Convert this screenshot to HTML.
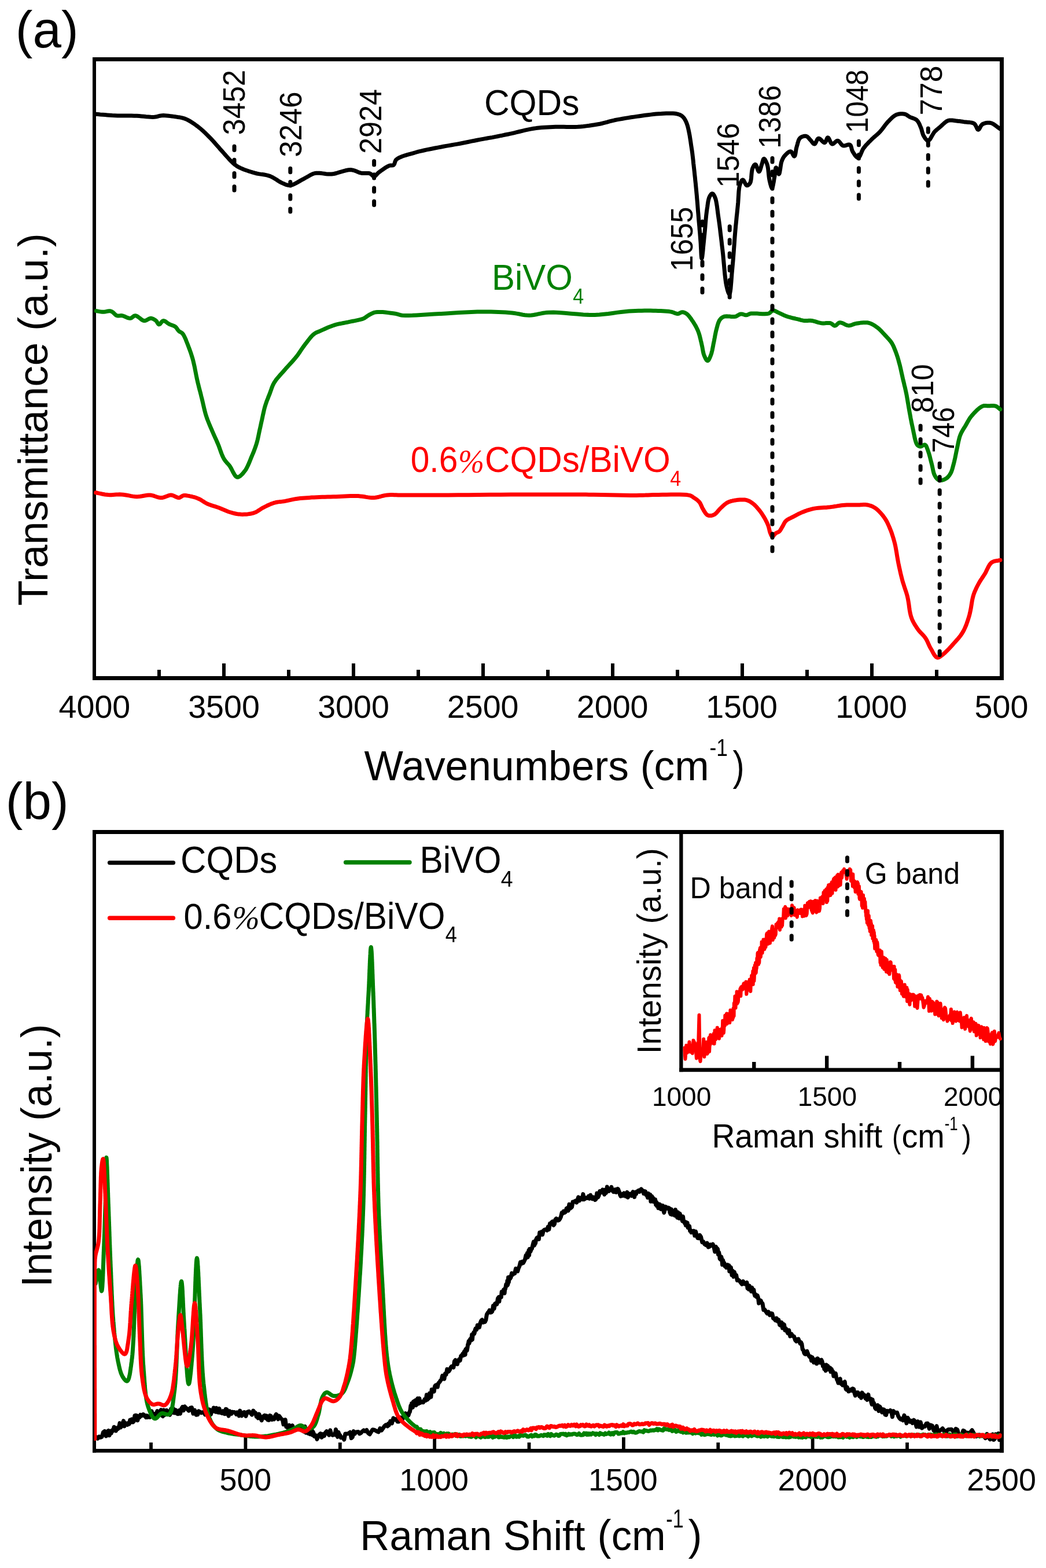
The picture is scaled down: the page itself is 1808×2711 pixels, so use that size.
<!DOCTYPE html>
<html><head><meta charset="utf-8"><title>FTIR and Raman spectra</title>
<style>html,body{margin:0;padding:0;background:#fff;overflow:hidden}svg{display:block}</style></head>
<body><svg width="1808" height="2711" viewBox="0 0 1808 2711">
<rect width="1808" height="2711" fill="#fff"/>
<rect x="160.00" y="99.00" width="1575.00" height="7.00" fill="#000"/>
<rect x="160.00" y="1169.00" width="1575.00" height="7.00" fill="#000"/>
<rect x="160.00" y="99.00" width="6.00" height="1077.00" fill="#000"/>
<rect x="1728.00" y="99.00" width="7.00" height="1077.00" fill="#000"/>
<rect x="384.00" y="1147.00" width="6.00" height="22.00" fill="#000"/>
<rect x="608.00" y="1147.00" width="6.00" height="22.00" fill="#000"/>
<rect x="832.00" y="1147.00" width="6.00" height="22.00" fill="#000"/>
<rect x="1056.00" y="1147.00" width="6.00" height="22.00" fill="#000"/>
<rect x="1280.00" y="1147.00" width="6.00" height="22.00" fill="#000"/>
<rect x="1504.00" y="1147.00" width="6.00" height="22.00" fill="#000"/>
<rect x="272.00" y="1158.00" width="6.00" height="11.00" fill="#000"/>
<rect x="496.00" y="1158.00" width="6.00" height="11.00" fill="#000"/>
<rect x="720.00" y="1158.00" width="6.00" height="11.00" fill="#000"/>
<rect x="944.00" y="1158.00" width="6.00" height="11.00" fill="#000"/>
<rect x="1168.00" y="1158.00" width="6.00" height="11.00" fill="#000"/>
<rect x="1392.00" y="1158.00" width="6.00" height="11.00" fill="#000"/>
<rect x="1616.00" y="1158.00" width="6.00" height="11.00" fill="#000"/>
<text x="101.56" y="1241.20" font-family="'Liberation Sans', Arial, sans-serif" font-size="55.6" fill="#000">4000</text>
<text x="325.15" y="1241.20" font-family="'Liberation Sans', Arial, sans-serif" font-size="55.6" fill="#000">3500</text>
<text x="549.14" y="1241.20" font-family="'Liberation Sans', Arial, sans-serif" font-size="55.6" fill="#000">3000</text>
<text x="772.87" y="1241.20" font-family="'Liberation Sans', Arial, sans-serif" font-size="55.6" fill="#000">2500</text>
<text x="996.87" y="1241.20" font-family="'Liberation Sans', Arial, sans-serif" font-size="55.6" fill="#000">2000</text>
<text x="1220.17" y="1241.20" font-family="'Liberation Sans', Arial, sans-serif" font-size="55.6" fill="#000">1500</text>
<text x="1444.17" y="1241.20" font-family="'Liberation Sans', Arial, sans-serif" font-size="55.6" fill="#000">1000</text>
<text x="1684.57" y="1241.20" font-family="'Liberation Sans', Arial, sans-serif" font-size="55.6" fill="#000">500</text>
<path d="M166.4,537.6 L167.8,537.8 L169.2,538.1 L170.7,538.4 L172.1,538.6 L173.5,538.9 L174.9,539.1 L176.4,539.2 L177.9,539.3 L179.6,539.2 L181.4,539.0 L183.2,538.7 L185.0,538.3 L186.8,538.0 L188.6,537.8 L190.3,537.8 L191.9,538.1 L193.3,538.7 L194.7,539.6 L195.9,540.7 L197.2,541.9 L198.4,543.1 L199.6,544.2 L200.8,545.1 L202.1,545.7 L203.5,546.0 L205.0,546.0 L206.4,545.9 L207.9,545.7 L209.4,545.6 L211.0,545.7 L212.6,546.1 L214.4,546.7 L216.2,547.5 L218.1,548.4 L219.9,549.2 L221.8,549.8 L223.5,550.2 L225.1,550.3 L226.5,550.0 L227.8,549.3 L229.0,548.3 L230.2,547.4 L231.4,546.5 L232.6,545.9 L234.0,545.7 L235.7,546.1 L237.6,547.1 L239.5,548.5 L241.5,550.0 L243.5,551.6 L245.5,553.1 L247.4,554.1 L249.3,554.6 L250.8,554.5 L252.3,554.0 L253.8,553.3 L255.2,552.5 L256.7,551.7 L258.1,551.0 L259.4,550.5 L260.8,550.3 L262.2,550.5 L263.5,550.9 L264.9,551.5 L266.2,552.2 L267.4,552.9 L268.6,553.8 L269.7,554.6 L270.7,555.7 L271.5,557.0 L272.3,558.4 L273.1,559.6 L273.9,560.6 L274.8,561.0 L275.8,560.7 L276.8,559.9 L277.8,558.7 L278.9,557.3 L280.0,556.0 L281.2,555.0 L282.4,554.6 L283.6,554.7 L284.8,555.2 L286.1,555.9 L287.4,556.8 L288.7,557.8 L290.1,558.8 L291.4,559.7 L292.7,560.5 L294.0,561.1 L295.3,561.6 L296.7,562.0 L298.0,562.5 L299.3,563.0 L300.6,563.5 L301.8,564.1 L302.9,564.8 L304.0,565.7 L304.9,566.8 L305.8,568.0 L306.6,569.2 L307.4,570.4 L308.3,571.5 L309.2,572.5 L310.2,573.3 L311.3,573.9 L312.4,574.4 L313.5,575.0 L314.6,575.8 L315.6,576.8 L317.0,578.7 L318.3,581.1 L319.6,583.8 L321.0,586.8 L322.2,590.0 L323.5,593.2 L324.7,596.3 L325.8,599.3 L326.9,602.1 L327.9,604.8 L328.9,607.6 L329.9,610.4 L330.8,613.2 L331.7,616.1 L332.6,619.1 L333.5,622.2 L334.5,626.3 L335.5,630.6 L336.5,635.1 L337.4,639.8 L338.3,644.4 L339.2,649.1 L340.1,653.6 L341.1,658.0 L342.0,661.9 L343.0,665.8 L343.9,669.7 L344.9,673.5 L345.9,677.2 L346.9,681.0 L347.8,684.8 L348.8,688.6 L349.7,692.4 L350.6,696.3 L351.5,700.2 L352.4,704.1 L353.3,708.0 L354.3,711.8 L355.3,715.5 L356.4,719.2 L357.5,722.5 L358.7,725.8 L360.0,729.0 L361.3,732.2 L362.6,735.4 L363.9,738.5 L365.3,741.6 L366.6,744.7 L367.9,747.6 L369.1,750.5 L370.4,753.4 L371.7,756.2 L373.0,759.0 L374.3,761.9 L375.5,764.8 L376.8,767.7 L378.1,770.9 L379.3,774.2 L380.5,777.6 L381.7,781.0 L382.9,784.3 L384.2,787.5 L385.6,790.5 L387.0,793.2 L388.2,795.1 L389.4,796.7 L390.7,798.3 L391.9,799.7 L393.2,801.2 L394.6,802.6 L395.9,804.2 L397.2,805.9 L398.7,808.3 L400.3,811.2 L401.8,814.2 L403.4,817.3 L405.0,820.1 L406.6,822.5 L408.3,824.2 L410.0,825.0 L411.5,824.9 L413.1,824.3 L414.8,823.3 L416.5,821.9 L418.1,820.3 L419.8,818.5 L421.3,816.6 L422.8,814.8 L424.7,812.2 L426.4,809.1 L428.1,805.7 L429.7,802.2 L431.3,798.5 L432.7,794.9 L434.1,791.4 L435.5,788.1 L436.6,785.5 L437.7,783.0 L438.7,780.5 L439.6,778.1 L440.5,775.6 L441.4,773.1 L442.3,770.5 L443.2,767.7 L444.3,764.0 L445.3,760.0 L446.2,755.9 L447.1,751.6 L448.0,747.3 L448.9,743.0 L449.9,738.7 L450.8,734.5 L451.7,730.3 L452.7,726.0 L453.6,721.7 L454.5,717.4 L455.5,713.1 L456.4,709.0 L457.4,705.0 L458.5,701.3 L459.4,698.5 L460.3,695.8 L461.2,693.2 L462.2,690.7 L463.2,688.3 L464.1,685.8 L465.1,683.4 L466.1,680.9 L467.0,678.5 L467.8,676.1 L468.7,673.7 L469.5,671.3 L470.4,668.9 L471.4,666.5 L472.5,664.2 L473.8,661.8 L475.6,659.1 L477.5,656.3 L479.7,653.6 L482.0,650.9 L484.4,648.2 L486.8,645.5 L489.2,642.8 L491.6,640.1 L494.1,637.2 L496.7,634.4 L499.3,631.5 L501.9,628.6 L504.6,625.8 L507.1,622.9 L509.6,620.0 L512.0,617.1 L514.1,614.4 L516.0,611.7 L518.0,608.9 L519.8,606.1 L521.6,603.4 L523.5,600.7 L525.4,598.1 L527.3,595.5 L529.2,593.1 L531.1,590.6 L533.0,588.1 L535.0,585.6 L536.9,583.3 L538.8,581.1 L540.7,579.2 L542.6,577.6 L543.8,576.7 L545.0,576.0 L546.2,575.3 L547.3,574.8 L548.5,574.3 L549.8,573.8 L551.1,573.2 L552.6,572.6 L555.2,571.4 L558.1,570.1 L561.2,568.7 L564.5,567.2 L567.8,565.8 L571.3,564.5 L574.6,563.2 L577.9,562.1 L581.0,561.2 L584.2,560.4 L587.3,559.7 L590.5,559.1 L593.6,558.5 L596.8,557.9 L599.9,557.3 L603.1,556.6 L606.4,555.9 L609.8,555.2 L613.2,554.6 L616.7,553.9 L620.0,553.2 L623.1,552.4 L625.9,551.6 L628.4,550.7 L629.9,550.0 L631.1,549.2 L632.3,548.4 L633.3,547.6 L634.4,546.8 L635.5,546.0 L636.8,545.2 L638.2,544.4 L639.6,543.6 L641.0,542.9 L642.5,542.1 L644.0,541.4 L645.7,540.7 L647.5,540.2 L649.4,539.8 L652.9,539.5 L657.0,539.4 L661.5,539.6 L666.2,540.0 L670.9,540.6 L675.4,541.2 L679.6,541.8 L683.1,542.3 L684.9,542.6 L686.5,543.0 L687.9,543.4 L689.2,543.8 L690.6,544.3 L692.1,544.6 L693.7,545.0 L695.7,545.2 L700.6,545.5 L706.4,545.5 L712.9,545.3 L719.9,544.9 L727.3,544.4 L735.0,544.0 L742.7,543.5 L750.4,543.1 L760.2,542.6 L770.7,542.0 L781.6,541.3 L792.7,540.6 L803.8,540.0 L814.6,539.4 L825.0,539.1 L834.6,538.9 L841.6,538.9 L848.4,539.0 L855.1,539.2 L861.5,539.4 L867.7,539.7 L873.7,540.1 L879.5,540.5 L885.1,541.0 L889.2,541.5 L893.0,542.1 L896.7,542.8 L900.2,543.5 L903.8,544.2 L907.3,544.7 L910.9,545.1 L914.6,545.2 L918.6,545.0 L922.5,544.5 L926.4,543.8 L930.4,542.9 L934.4,542.1 L938.7,541.3 L943.3,540.6 L948.2,540.2 L956.6,540.1 L966.1,540.5 L976.2,541.3 L986.8,542.2 L997.6,543.1 L1008.3,543.9 L1018.6,544.4 L1028.2,544.4 L1036.1,544.0 L1043.8,543.3 L1051.4,542.5 L1058.8,541.5 L1066.1,540.4 L1073.3,539.5 L1080.3,538.7 L1087.1,538.1 L1092.7,537.8 L1098.3,537.5 L1103.7,537.3 L1109.0,537.2 L1114.2,537.1 L1119.3,537.1 L1124.3,537.1 L1129.2,537.2 L1133.4,537.3 L1137.6,537.4 L1141.8,537.5 L1145.9,537.7 L1149.8,538.0 L1153.5,538.3 L1156.9,538.6 L1160.0,539.1 L1161.7,539.5 L1163.3,540.0 L1164.9,540.6 L1166.3,541.2 L1167.6,541.7 L1168.9,542.1 L1170.2,542.4 L1171.5,542.5 L1172.9,542.3 L1174.2,541.7 L1175.4,541.1 L1176.6,540.4 L1177.8,539.9 L1179.1,539.7 L1180.4,539.8 L1181.7,540.0 L1182.9,540.4 L1184.2,541.0 L1185.5,541.7 L1186.8,542.5 L1188.3,543.7 L1189.7,545.2 L1191.2,546.9 L1192.7,548.8 L1194.2,550.8 L1195.6,552.9 L1197.0,554.9 L1198.3,556.9 L1199.5,558.8 L1200.7,560.8 L1201.9,562.7 L1203.0,564.7 L1204.0,566.7 L1205.0,568.8 L1206.0,570.9 L1206.9,573.1 L1207.8,575.6 L1208.6,578.1 L1209.4,580.7 L1210.0,583.4 L1210.7,586.1 L1211.3,588.8 L1212.0,591.5 L1212.6,594.2 L1213.2,596.9 L1213.8,599.7 L1214.3,602.5 L1214.8,605.3 L1215.3,608.1 L1215.9,610.7 L1216.6,613.1 L1217.4,615.2 L1218.1,616.8 L1218.9,618.5 L1219.7,620.2 L1220.6,621.6 L1221.4,622.8 L1222.3,623.5 L1223.1,623.8 L1223.9,623.5 L1224.6,622.7 L1225.4,621.6 L1226.1,620.1 L1226.9,618.5 L1227.6,616.7 L1228.3,615.0 L1228.9,613.3 L1229.7,611.1 L1230.3,608.6 L1231.0,606.1 L1231.5,603.4 L1232.1,600.6 L1232.6,597.8 L1233.1,595.0 L1233.7,592.3 L1234.3,589.4 L1234.8,586.5 L1235.4,583.6 L1235.9,580.6 L1236.5,577.7 L1237.1,574.8 L1237.7,572.0 L1238.4,569.3 L1239.0,567.0 L1239.6,564.8 L1240.2,562.5 L1240.9,560.3 L1241.6,558.2 L1242.4,556.3 L1243.2,554.5 L1244.2,553.0 L1245.1,551.9 L1246.0,550.8 L1247.0,549.9 L1248.1,549.1 L1249.2,548.4 L1250.4,547.8 L1251.8,547.3 L1253.8,546.9 L1256.1,546.8 L1258.6,546.9 L1261.2,547.1 L1263.9,547.4 L1266.5,547.6 L1268.9,547.6 L1271.0,547.3 L1272.6,546.8 L1274.0,546.1 L1275.3,545.3 L1276.6,544.5 L1277.9,543.8 L1279.2,543.2 L1280.5,542.9 L1281.9,542.9 L1283.3,543.2 L1284.7,543.6 L1286.1,544.0 L1287.4,544.5 L1288.8,544.7 L1290.1,544.8 L1291.4,544.6 L1292.5,544.1 L1293.6,543.6 L1294.8,543.0 L1296.1,542.5 L1297.7,542.1 L1300.7,541.9 L1304.4,541.9 L1308.6,542.1 L1313.1,542.4 L1317.6,542.7 L1321.8,542.8 L1325.5,542.6 L1328.4,542.1 L1329.8,541.5 L1331.0,540.6 L1332.0,539.6 L1333.0,538.7 L1333.9,537.8 L1334.9,537.1 L1336.0,536.8 L1337.3,536.8 L1338.6,537.1 L1339.9,537.7 L1341.3,538.4 L1342.7,539.1 L1344.1,539.9 L1345.6,540.6 L1347.3,541.4 L1349.1,542.2 L1351.0,543.1 L1352.9,544.0 L1354.8,544.9 L1356.8,545.7 L1358.9,546.6 L1360.9,547.3 L1363.2,548.0 L1365.6,548.7 L1368.2,549.4 L1370.7,550.0 L1373.2,550.5 L1375.6,551.1 L1377.9,551.6 L1380.0,552.1 L1381.5,552.5 L1382.9,552.9 L1384.2,553.3 L1385.5,553.6 L1386.8,553.9 L1388.2,554.2 L1389.6,554.4 L1391.2,554.5 L1392.7,554.5 L1394.4,554.5 L1396.1,554.4 L1397.8,554.3 L1399.5,554.2 L1401.2,554.2 L1403.0,554.4 L1405.1,554.8 L1407.2,555.3 L1409.3,555.9 L1411.5,556.6 L1413.7,557.3 L1415.9,557.9 L1418.1,558.4 L1420.2,558.8 L1422.2,558.9 L1424.2,558.9 L1426.2,558.8 L1428.3,558.6 L1430.2,558.5 L1432.1,558.4 L1433.9,558.5 L1435.5,558.8 L1437.0,559.4 L1438.3,560.3 L1439.5,561.3 L1440.7,562.3 L1441.9,563.0 L1443.1,563.2 L1444.3,562.9 L1445.4,562.2 L1446.5,561.1 L1447.7,560.0 L1448.9,559.0 L1450.1,558.1 L1451.5,557.7 L1453.2,557.8 L1455.0,558.3 L1456.9,559.1 L1459.0,560.0 L1461.0,561.1 L1463.0,562.0 L1465.0,562.6 L1466.8,562.9 L1468.3,562.8 L1469.7,562.6 L1471.1,562.2 L1472.5,561.7 L1473.9,561.1 L1475.3,560.6 L1476.8,560.1 L1478.3,559.7 L1480.1,559.3 L1482.0,559.0 L1484.0,558.7 L1486.0,558.4 L1488.0,558.1 L1490.0,557.9 L1491.8,557.8 L1493.6,557.7 L1495.1,557.7 L1496.5,557.7 L1497.8,557.7 L1499.1,557.8 L1500.4,558.0 L1501.7,558.3 L1503.1,558.7 L1504.7,559.3 L1506.4,560.0 L1508.0,560.8 L1509.7,561.8 L1511.4,562.8 L1513.1,563.9 L1514.8,565.1 L1516.5,566.3 L1518.5,567.9 L1520.5,569.7 L1522.5,571.6 L1524.4,573.7 L1526.4,575.8 L1528.3,577.8 L1530.1,579.8 L1531.8,581.7 L1533.2,583.2 L1534.5,584.5 L1535.7,585.9 L1536.9,587.2 L1538.1,588.6 L1539.3,590.0 L1540.3,591.5 L1541.4,593.1 L1542.5,595.0 L1543.6,597.1 L1544.6,599.2 L1545.5,601.4 L1546.4,603.6 L1547.3,605.9 L1548.2,608.1 L1549.0,610.4 L1549.8,612.7 L1550.6,615.0 L1551.4,617.3 L1552.1,619.7 L1552.8,622.1 L1553.4,624.5 L1554.1,627.0 L1554.8,629.5 L1555.6,632.4 L1556.3,635.5 L1557.0,638.6 L1557.7,641.7 L1558.4,644.9 L1559.1,648.1 L1559.8,651.3 L1560.5,654.4 L1561.2,657.5 L1562.0,660.5 L1562.7,663.6 L1563.4,666.6 L1564.2,669.6 L1564.9,672.8 L1565.6,675.9 L1566.3,679.2 L1567.1,683.1 L1567.8,687.1 L1568.5,691.1 L1569.2,695.3 L1569.9,699.5 L1570.6,703.6 L1571.3,707.7 L1572.0,711.7 L1572.7,715.4 L1573.4,719.0 L1574.0,722.6 L1574.7,726.2 L1575.4,729.7 L1576.1,733.3 L1576.9,736.8 L1577.7,740.4 L1578.5,744.2 L1579.3,748.3 L1580.2,752.5 L1581.0,756.7 L1582.0,760.6 L1583.0,764.1 L1584.1,767.0 L1585.4,769.1 L1586.4,770.2 L1587.5,771.0 L1588.7,771.5 L1589.9,771.9 L1591.1,772.0 L1592.3,771.8 L1593.7,771.1 L1595.0,770.3 L1596.4,769.5 L1597.7,769.0 L1598.8,769.1 L1599.7,769.7 L1600.6,770.7 L1601.3,772.0 L1602.0,773.5 L1602.6,775.3 L1603.3,777.0 L1603.9,778.9 L1604.5,780.6 L1605.3,782.9 L1606.1,785.4 L1606.8,788.0 L1607.5,790.7 L1608.2,793.5 L1608.9,796.3 L1609.6,799.0 L1610.3,801.7 L1611.0,804.4 L1611.6,807.2 L1612.2,810.1 L1612.8,812.9 L1613.4,815.7 L1614.1,818.3 L1615.0,820.6 L1616.0,822.7 L1616.8,824.0 L1617.6,825.3 L1618.5,826.5 L1619.5,827.6 L1620.4,828.5 L1621.5,829.3 L1622.6,830.0 L1623.7,830.4 L1625.0,830.6 L1626.4,830.6 L1627.9,830.4 L1629.4,830.0 L1630.9,829.5 L1632.4,828.9 L1633.8,828.2 L1635.1,827.5 L1636.3,826.7 L1637.3,825.9 L1638.4,824.9 L1639.3,823.8 L1640.3,822.7 L1641.2,821.5 L1642.0,820.2 L1642.8,818.9 L1643.7,817.1 L1644.6,815.2 L1645.3,813.2 L1646.0,811.0 L1646.6,808.8 L1647.2,806.5 L1647.9,804.1 L1648.5,801.7 L1649.3,798.6 L1650.0,795.4 L1650.8,792.0 L1651.5,788.6 L1652.2,785.1 L1652.9,781.6 L1653.6,778.2 L1654.3,774.9 L1655.0,771.9 L1655.6,768.9 L1656.2,765.9 L1656.8,763.0 L1657.5,760.1 L1658.2,757.3 L1659.0,754.6 L1660.0,751.9 L1661.0,749.6 L1662.1,747.3 L1663.3,745.1 L1664.5,743.0 L1665.8,740.9 L1667.1,738.8 L1668.4,736.8 L1669.6,734.7 L1670.7,732.7 L1671.8,730.8 L1672.9,728.8 L1674.0,726.9 L1675.1,725.0 L1676.3,723.1 L1677.6,721.3 L1679.1,719.4 L1681.1,717.1 L1683.4,714.5 L1685.9,712.0 L1688.4,709.4 L1691.0,707.1 L1693.6,705.0 L1696.1,703.4 L1698.3,702.2 L1699.7,701.7 L1701.1,701.5 L1702.4,701.5 L1703.7,701.5 L1705.0,701.6 L1706.4,701.8 L1707.8,701.8 L1709.4,701.8 L1711.1,701.7 L1712.9,701.6 L1714.6,701.5 L1716.4,701.5 L1718.1,701.6 L1719.7,701.8 L1721.2,702.2 L1722.5,702.8 L1723.7,703.5 L1724.8,704.3 L1725.8,705.2 L1726.9,706.1 L1727.9,707.0 L1729.0,707.9" fill="none" stroke="#008000" stroke-width="7" stroke-linejoin="round" stroke-linecap="round"/>
<path d="M165.7,851.8 L168.3,852.3 L170.9,852.9 L173.6,853.4 L176.2,854.0 L178.8,854.5 L181.4,855.0 L184.1,855.3 L186.8,855.6 L189.6,855.7 L192.4,855.7 L195.3,855.5 L198.1,855.3 L201.0,855.1 L203.9,854.9 L206.8,854.8 L209.8,854.9 L213.1,855.2 L216.4,855.7 L219.8,856.3 L223.2,856.9 L226.5,857.6 L229.9,858.1 L233.2,858.5 L236.5,858.7 L239.5,858.6 L242.4,858.3 L245.4,857.8 L248.3,857.2 L251.1,856.7 L254.0,856.3 L256.7,856.0 L259.5,856.0 L262.0,856.3 L264.4,856.9 L266.9,857.7 L269.2,858.5 L271.6,859.3 L273.9,860.0 L276.3,860.4 L278.6,860.6 L280.8,860.4 L283.0,859.8 L285.3,859.1 L287.5,858.2 L289.6,857.4 L291.8,856.6 L293.9,856.1 L295.9,856.0 L297.7,856.3 L299.5,856.8 L301.2,857.6 L303.0,858.5 L304.7,859.3 L306.3,860.0 L307.8,860.5 L309.3,860.6 L310.7,860.3 L311.9,859.6 L313.1,858.8 L314.2,858.0 L315.5,857.3 L316.9,856.8 L318.6,856.6 L320.4,856.6 L322.3,856.8 L324.3,857.1 L326.4,857.4 L328.4,857.9 L330.4,858.3 L332.2,858.7 L333.7,859.1 L335.2,859.4 L336.6,859.8 L338.0,860.3 L339.4,860.8 L340.8,861.3 L342.2,861.9 L343.7,862.5 L345.5,863.4 L347.4,864.4 L349.2,865.6 L351.1,866.8 L353.0,868.0 L355.0,869.2 L357.0,870.3 L359.0,871.3 L361.3,872.2 L363.6,873.1 L366.0,873.9 L368.4,874.7 L370.8,875.4 L373.3,876.2 L375.7,877.0 L378.1,877.8 L380.5,878.7 L382.9,879.7 L385.3,880.8 L387.7,881.8 L390.1,882.8 L392.5,883.8 L394.9,884.7 L397.3,885.5 L399.7,886.2 L402.0,886.8 L404.3,887.5 L406.7,888.0 L409.1,888.5 L411.5,888.9 L413.9,889.1 L416.4,889.3 L419.2,889.4 L422.1,889.3 L425.1,889.2 L428.1,888.9 L431.1,888.5 L434.0,888.0 L436.8,887.4 L439.4,886.6 L441.5,885.8 L443.5,884.8 L445.4,883.7 L447.2,882.5 L449.0,881.3 L450.8,880.1 L452.7,878.9 L454.7,877.8 L457.0,876.7 L459.3,875.5 L461.6,874.3 L464.0,873.2 L466.5,872.1 L468.9,871.1 L471.4,870.2 L473.8,869.4 L476.2,868.8 L478.6,868.3 L481.0,867.9 L483.4,867.6 L485.8,867.4 L488.2,867.1 L490.6,866.8 L493.0,866.4 L495.4,865.9 L497.7,865.4 L500.0,864.9 L502.3,864.4 L504.6,863.9 L507.0,863.4 L509.5,862.9 L512.1,862.5 L515.5,862.0 L519.1,861.6 L522.9,861.3 L526.7,861.0 L530.6,860.7 L534.6,860.4 L538.7,860.1 L542.7,859.9 L547.3,859.7 L552.0,859.5 L556.7,859.3 L561.6,859.2 L566.5,859.1 L571.3,859.0 L576.2,858.8 L581.0,858.7 L585.8,858.5 L590.7,858.3 L595.6,858.1 L600.5,857.8 L605.4,857.6 L610.1,857.5 L614.8,857.5 L619.2,857.6 L622.8,857.9 L626.3,858.3 L629.7,858.8 L633.0,859.4 L636.3,859.9 L639.6,860.3 L642.8,860.6 L646.0,860.6 L649.0,860.3 L651.8,859.8 L654.7,859.2 L657.5,858.5 L660.3,857.7 L663.2,857.0 L666.0,856.4 L669.0,856.0 L672.2,855.8 L675.3,855.6 L678.4,855.6 L681.5,855.7 L684.8,855.8 L688.2,855.9 L691.9,856.0 L695.8,856.0 L702.3,856.0 L709.3,856.0 L716.8,856.0 L724.6,856.0 L732.9,856.0 L741.6,856.0 L750.6,856.0 L760.0,856.0 L775.1,855.9 L791.8,855.8 L809.6,855.7 L828.1,855.5 L846.9,855.3 L865.4,855.2 L883.3,855.1 L900.0,855.0 L913.3,855.0 L926.2,854.9 L938.7,854.9 L951.0,854.9 L963.2,854.9 L975.4,854.9 L987.6,854.9 L1000.0,855.0 L1012.8,855.1 L1026.1,855.3 L1039.6,855.6 L1052.9,855.8 L1065.9,856.1 L1078.3,856.3 L1089.8,856.4 L1100.0,856.4 L1105.6,856.3 L1110.7,856.2 L1115.4,856.1 L1119.9,855.9 L1124.3,855.7 L1128.7,855.6 L1133.3,855.5 L1138.3,855.4 L1144.9,855.3 L1152.2,855.2 L1159.9,855.0 L1167.6,854.9 L1174.9,854.9 L1181.7,855.2 L1187.4,855.6 L1191.8,856.4 L1193.5,856.9 L1195.0,857.6 L1196.1,858.2 L1197.2,859.0 L1198.3,859.8 L1199.5,860.6 L1200.7,861.4 L1201.9,862.2 L1203.2,863.1 L1204.5,864.1 L1205.7,865.0 L1206.9,866.1 L1208.0,867.2 L1209.0,868.3 L1209.9,869.6 L1210.7,870.9 L1211.4,872.4 L1212.0,873.8 L1212.7,875.3 L1213.3,876.8 L1214.0,878.3 L1214.8,879.7 L1215.7,881.1 L1216.5,882.7 L1217.5,884.2 L1218.4,885.7 L1219.4,887.1 L1220.4,888.4 L1221.4,889.5 L1222.4,890.3 L1223.8,891.0 L1225.2,891.5 L1226.7,891.6 L1228.2,891.6 L1229.4,891.5 L1230.7,891.2 L1232.0,890.8 L1233.3,890.3 L1234.5,889.7 L1235.8,888.9 L1237.0,888.0 L1238.2,886.9 L1239.4,885.6 L1240.5,884.3 L1241.7,882.9 L1242.9,881.4 L1244.1,880.1 L1245.4,878.8 L1246.8,877.5 L1248.1,876.2 L1249.5,874.9 L1251.0,873.6 L1252.4,872.3 L1253.9,871.2 L1255.4,870.1 L1256.9,869.2 L1258.3,868.5 L1259.6,867.9 L1261.0,867.3 L1262.3,866.9 L1263.8,866.4 L1265.2,866.1 L1266.8,865.7 L1268.4,865.4 L1270.8,865.0 L1273.3,864.6 L1276.1,864.3 L1278.9,864.0 L1281.8,863.9 L1284.5,863.9 L1287.1,864.0 L1289.4,864.4 L1291.1,864.8 L1292.6,865.4 L1294.1,866.0 L1295.6,866.7 L1296.9,867.5 L1298.3,868.4 L1299.6,869.3 L1300.9,870.2 L1302.2,871.2 L1303.5,872.3 L1304.7,873.4 L1305.8,874.6 L1307.0,875.8 L1308.1,877.1 L1309.3,878.4 L1310.4,879.7 L1311.7,881.2 L1312.9,882.8 L1314.2,884.4 L1315.4,886.1 L1316.6,887.8 L1317.8,889.6 L1318.9,891.3 L1320.0,893.1 L1321.1,894.9 L1322.2,896.8 L1323.2,898.7 L1324.2,900.7 L1325.2,902.6 L1326.1,904.6 L1326.9,906.5 L1327.7,908.4 L1328.3,910.1 L1328.8,911.9 L1329.3,913.7 L1329.7,915.5 L1330.1,917.2 L1330.5,918.9 L1331.0,920.4 L1331.5,921.8 L1332.1,923.3 L1332.7,924.8 L1333.4,926.2 L1334.1,927.1 L1334.9,927.6 L1335.8,927.4 L1336.8,926.5 L1337.8,925.3 L1338.9,924.0 L1340.0,922.8 L1341.1,921.8 L1342.2,921.2 L1343.4,920.7 L1344.6,920.3 L1345.7,919.7 L1346.8,919.0 L1347.7,918.1 L1348.6,917.0 L1349.4,915.7 L1350.2,914.4 L1350.9,913.1 L1351.7,911.7 L1352.5,910.4 L1353.2,909.2 L1353.8,908.0 L1354.5,906.7 L1355.1,905.5 L1355.8,904.2 L1356.5,903.0 L1357.3,901.9 L1358.3,900.8 L1359.6,899.6 L1361.1,898.6 L1362.8,897.6 L1364.5,896.7 L1366.3,895.8 L1368.1,894.9 L1369.9,894.0 L1371.7,893.1 L1373.5,892.1 L1375.4,891.1 L1377.2,890.1 L1379.1,889.2 L1381.0,888.2 L1382.9,887.3 L1384.9,886.4 L1387.0,885.5 L1389.4,884.6 L1391.9,883.6 L1394.4,882.7 L1397.0,881.9 L1399.7,881.1 L1402.4,880.4 L1405.1,879.7 L1407.9,879.1 L1411.1,878.6 L1414.4,878.2 L1417.7,877.9 L1421.2,877.7 L1424.6,877.5 L1428.0,877.4 L1431.4,877.1 L1434.6,876.8 L1437.5,876.4 L1440.3,876.0 L1443.1,875.5 L1445.8,875.1 L1448.5,874.6 L1451.3,874.2 L1454.1,873.8 L1457.0,873.5 L1460.3,873.3 L1463.7,873.1 L1467.2,873.1 L1470.7,873.0 L1474.2,873.0 L1477.5,873.0 L1480.8,873.0 L1483.8,873.0 L1486.0,872.9 L1488.0,872.8 L1490.0,872.7 L1492.0,872.6 L1493.9,872.6 L1495.7,872.6 L1497.6,872.7 L1499.4,873.0 L1501.2,873.4 L1502.9,873.8 L1504.6,874.3 L1506.2,874.9 L1507.9,875.6 L1509.5,876.4 L1511.2,877.4 L1512.8,878.4 L1514.9,879.9 L1516.9,881.7 L1519.0,883.6 L1521.1,885.8 L1523.1,888.0 L1525.0,890.2 L1526.8,892.5 L1528.4,894.7 L1529.8,896.7 L1531.0,898.6 L1532.2,900.6 L1533.3,902.7 L1534.3,904.7 L1535.3,906.9 L1536.3,909.1 L1537.3,911.4 L1538.5,914.4 L1539.8,917.5 L1541.0,920.7 L1542.1,924.1 L1543.2,927.5 L1544.3,931.0 L1545.3,934.6 L1546.3,938.2 L1547.3,942.4 L1548.2,946.8 L1549.0,951.3 L1549.8,955.9 L1550.5,960.5 L1551.3,965.1 L1552.1,969.6 L1552.9,973.9 L1553.7,977.7 L1554.5,981.4 L1555.3,985.1 L1556.1,988.7 L1556.9,992.2 L1557.8,995.8 L1558.7,999.4 L1559.6,1003.0 L1560.6,1006.6 L1561.8,1010.2 L1562.9,1013.7 L1564.1,1017.3 L1565.3,1020.9 L1566.5,1024.5 L1567.6,1028.2 L1568.6,1032.0 L1569.5,1036.3 L1570.3,1040.9 L1571.0,1045.6 L1571.6,1050.3 L1572.3,1055.0 L1573.1,1059.5 L1574.1,1063.8 L1575.3,1067.7 L1576.4,1070.6 L1577.6,1073.3 L1578.9,1075.9 L1580.3,1078.4 L1581.8,1080.9 L1583.3,1083.2 L1584.8,1085.5 L1586.4,1087.8 L1588.0,1089.9 L1589.7,1091.9 L1591.4,1093.8 L1593.2,1095.6 L1595.0,1097.5 L1596.7,1099.4 L1598.3,1101.4 L1599.8,1103.4 L1601.1,1105.5 L1602.3,1107.7 L1603.4,1110.0 L1604.4,1112.3 L1605.4,1114.6 L1606.5,1116.9 L1607.6,1119.1 L1608.8,1121.3 L1610.1,1123.5 L1611.4,1125.9 L1612.7,1128.4 L1614.1,1130.8 L1615.5,1133.0 L1617.0,1134.8 L1618.4,1136.2 L1619.9,1136.9 L1621.1,1137.0 L1622.3,1136.7 L1623.6,1136.2 L1624.8,1135.4 L1626.1,1134.4 L1627.4,1133.4 L1628.8,1132.4 L1630.8,1130.8 L1633.0,1128.9 L1635.2,1126.8 L1637.5,1124.5 L1639.9,1122.1 L1642.2,1119.6 L1644.5,1117.1 L1646.7,1114.6 L1649.0,1112.0 L1651.4,1109.4 L1653.8,1106.7 L1656.2,1104.0 L1658.5,1101.1 L1660.7,1098.3 L1662.7,1095.3 L1664.6,1092.2 L1666.4,1088.9 L1668.0,1085.4 L1669.5,1081.9 L1670.9,1078.2 L1672.2,1074.5 L1673.4,1070.8 L1674.6,1067.0 L1675.7,1063.2 L1676.7,1059.1 L1677.6,1054.8 L1678.4,1050.5 L1679.1,1046.1 L1679.8,1041.7 L1680.5,1037.5 L1681.4,1033.5 L1682.4,1029.7 L1683.3,1026.9 L1684.3,1024.2 L1685.4,1021.6 L1686.5,1019.2 L1687.6,1016.7 L1688.8,1014.3 L1690.0,1012.0 L1691.3,1009.6 L1692.6,1007.3 L1693.9,1005.0 L1695.3,1002.8 L1696.8,1000.6 L1698.2,998.4 L1699.7,996.3 L1701.1,994.0 L1702.5,991.8 L1703.9,989.4 L1705.1,986.8 L1706.4,984.1 L1707.7,981.4 L1709.0,978.9 L1710.4,976.5 L1712.0,974.5 L1713.7,972.8 L1715.4,971.7 L1717.2,970.9 L1719.0,970.3 L1721.0,969.9 L1723.0,969.5 L1725.1,969.2 L1727.1,968.8 L1729.0,968.3" fill="none" stroke="#ff0000" stroke-width="7" stroke-linejoin="round" stroke-linecap="round"/>
<path d="M165.1,197.2 L169.2,197.5 L173.3,197.9 L177.4,198.2 L181.6,198.6 L185.7,198.9 L189.8,199.2 L194.0,199.5 L198.3,199.7 L203.0,199.9 L207.8,200.0 L212.6,200.0 L217.5,200.0 L222.4,200.0 L227.2,200.1 L231.9,200.2 L236.5,200.3 L240.6,200.5 L244.7,200.9 L248.8,201.3 L252.8,201.7 L256.7,202.0 L260.5,202.3 L263.9,202.4 L267.1,202.3 L268.9,202.1 L270.6,201.8 L272.1,201.4 L273.6,201.0 L275.1,200.5 L276.6,200.2 L278.2,199.9 L279.9,199.7 L282.5,199.6 L285.2,199.7 L288.2,199.9 L291.2,200.2 L294.2,200.6 L297.2,201.0 L300.1,201.4 L302.9,201.8 L305.2,202.1 L307.5,202.5 L309.7,202.8 L311.9,203.1 L314.1,203.6 L316.2,204.1 L318.4,204.8 L320.7,205.6 L323.5,206.9 L326.4,208.4 L329.4,210.1 L332.3,212.0 L335.2,213.9 L338.1,216.0 L341.0,218.1 L343.7,220.2 L346.4,222.4 L349.0,224.6 L351.6,226.9 L354.1,229.3 L356.6,231.7 L359.1,234.2 L361.6,236.8 L364.1,239.3 L366.7,242.0 L369.3,244.9 L371.9,247.8 L374.4,250.7 L377.0,253.6 L379.5,256.6 L382.0,259.4 L384.5,262.2 L386.8,264.8 L389.1,267.4 L391.4,270.0 L393.7,272.5 L395.9,275.0 L398.1,277.3 L400.3,279.5 L402.3,281.4 L403.6,282.6 L404.8,283.7 L406.0,284.6 L407.2,285.5 L408.3,286.4 L409.6,287.3 L411.0,288.1 L412.6,289.0 L415.4,290.4 L418.6,291.8 L422.0,293.2 L425.7,294.5 L429.5,295.8 L433.3,297.0 L437.0,298.2 L440.6,299.2 L443.8,300.0 L447.1,300.6 L450.3,301.1 L453.6,301.5 L456.8,302.0 L459.9,302.6 L463.0,303.3 L466.1,304.3 L469.1,305.6 L472.2,307.2 L475.2,309.0 L478.1,310.8 L481.0,312.7 L483.8,314.4 L486.5,315.9 L489.1,317.1 L490.8,317.8 L492.4,318.5 L494.0,319.1 L495.5,319.6 L497.0,320.0 L498.5,320.3 L500.1,320.5 L501.8,320.4 L504.1,320.0 L506.6,319.1 L509.1,318.0 L511.7,316.6 L514.4,315.1 L517.0,313.6 L519.6,312.1 L522.2,310.7 L524.8,309.3 L527.5,307.8 L530.3,306.2 L533.0,304.7 L535.6,303.2 L538.1,301.9 L540.5,300.8 L542.6,300.0 L544.0,299.6 L545.2,299.4 L546.3,299.3 L547.5,299.2 L548.7,299.2 L550.2,299.2 L552.5,299.3 L555.0,299.5 L557.7,299.9 L560.7,300.3 L563.7,300.7 L566.9,301.0 L570.1,301.1 L573.2,301.0 L577.1,300.5 L581.3,299.5 L585.6,298.2 L590.0,296.9 L594.4,295.6 L598.6,294.5 L602.6,293.8 L606.3,293.6 L608.8,293.9 L611.2,294.5 L613.5,295.2 L615.7,296.1 L617.8,297.0 L619.9,297.9 L622.1,298.7 L624.2,299.2 L626.2,299.4 L628.2,299.5 L630.3,299.5 L632.3,299.4 L634.3,299.4 L636.2,299.4 L637.9,299.6 L639.5,300.0 L640.9,300.8 L642.1,301.8 L643.3,303.0 L644.4,304.1 L645.4,304.8 L646.6,305.1 L647.6,304.9 L648.5,304.3 L649.5,303.5 L650.4,302.4 L651.4,301.3 L652.5,300.2 L653.6,299.0 L654.8,298.0 L656.7,296.6 L658.9,295.0 L661.3,293.3 L663.7,291.6 L666.1,290.0 L668.5,288.6 L670.7,287.4 L672.7,286.5 L674.1,286.1 L675.5,286.0 L676.8,286.0 L678.1,285.9 L679.2,285.7 L680.3,285.2 L681.1,284.4 L681.7,283.3 L682.1,282.1 L682.5,280.8 L683.0,279.4 L683.6,278.0 L684.3,276.7 L685.4,275.5 L688.1,273.6 L691.5,271.9 L695.5,270.3 L699.9,268.8 L704.6,267.4 L709.4,266.1 L714.1,264.8 L718.6,263.5 L723.2,262.2 L727.9,261.1 L732.7,260.0 L737.5,258.9 L742.3,258.0 L747.2,257.0 L752.0,256.0 L756.8,255.1 L761.6,254.2 L766.4,253.3 L771.2,252.4 L775.9,251.6 L780.7,250.8 L785.5,249.9 L790.3,249.1 L795.1,248.2 L800.0,247.3 L805.0,246.3 L810.0,245.3 L815.0,244.2 L820.0,243.2 L824.7,242.3 L829.2,241.4 L833.4,240.6 L836.2,240.1 L838.7,239.6 L841.1,239.2 L843.4,238.8 L845.7,238.4 L848.1,238.0 L850.6,237.6 L853.2,237.1 L856.7,236.4 L860.3,235.7 L864.0,234.9 L867.9,234.2 L871.8,233.3 L875.8,232.5 L879.8,231.7 L883.8,230.8 L888.4,229.8 L893.0,228.7 L897.8,227.5 L902.6,226.3 L907.5,225.2 L912.3,224.1 L917.2,223.1 L922.0,222.3 L926.8,221.6 L931.5,221.1 L936.3,220.6 L941.1,220.3 L945.9,220.0 L950.7,219.7 L955.5,219.5 L960.3,219.3 L965.1,219.2 L969.9,219.2 L974.7,219.3 L979.5,219.4 L984.3,219.5 L989.0,219.6 L993.8,219.5 L998.6,219.3 L1003.4,218.9 L1008.4,218.5 L1013.3,217.9 L1018.2,217.3 L1023.1,216.5 L1027.8,215.8 L1032.4,215.0 L1036.8,214.2 L1040.2,213.5 L1043.4,212.7 L1046.5,211.9 L1049.6,211.1 L1052.6,210.2 L1055.7,209.4 L1058.9,208.6 L1062.3,207.8 L1066.7,206.9 L1071.3,206.1 L1076.1,205.2 L1080.9,204.4 L1085.9,203.6 L1090.8,202.8 L1095.8,202.1 L1100.6,201.4 L1105.4,200.7 L1110.3,200.0 L1115.1,199.3 L1120.0,198.7 L1124.8,198.1 L1129.6,197.6 L1134.3,197.1 L1138.9,196.8 L1143.0,196.6 L1147.2,196.3 L1151.4,196.1 L1155.5,196.0 L1159.4,195.9 L1163.1,196.0 L1166.5,196.3 L1169.5,196.8 L1171.1,197.2 L1172.6,197.6 L1173.9,198.0 L1175.2,198.5 L1176.4,199.1 L1177.5,199.7 L1178.6,200.5 L1179.7,201.4 L1180.9,202.6 L1182.0,203.8 L1183.0,205.2 L1183.9,206.7 L1184.8,208.4 L1185.7,210.2 L1186.5,212.1 L1187.3,214.2 L1188.6,218.2 L1189.8,223.0 L1190.9,228.2 L1192.0,233.8 L1192.9,239.5 L1193.8,245.3 L1194.6,250.9 L1195.4,256.1 L1196.1,260.6 L1196.7,265.0 L1197.2,269.3 L1197.7,273.6 L1198.2,277.9 L1198.6,282.3 L1199.1,286.7 L1199.6,291.2 L1200.2,296.3 L1200.7,301.5 L1201.3,306.7 L1201.8,312.0 L1202.4,317.3 L1202.9,322.7 L1203.4,328.0 L1203.9,333.3 L1204.4,338.6 L1204.8,343.8 L1205.3,349.1 L1205.7,354.3 L1206.1,359.6 L1206.5,364.9 L1207.0,370.1 L1207.4,375.4 L1207.8,380.7 L1208.3,386.1 L1208.8,391.5 L1209.2,396.9 L1209.7,402.3 L1210.1,407.5 L1210.5,412.6 L1210.9,417.5 L1211.2,421.8 L1211.4,426.6 L1211.7,431.5 L1211.9,436.3 L1212.1,440.5 L1212.4,443.9 L1212.7,446.2 L1213.0,447.0 L1213.4,446.0 L1213.9,443.1 L1214.4,438.9 L1215.0,433.7 L1215.5,427.8 L1216.1,421.7 L1216.7,415.8 L1217.2,410.5 L1217.8,404.6 L1218.4,398.3 L1219.0,391.7 L1219.5,385.1 L1220.1,378.6 L1220.7,372.4 L1221.4,366.6 L1222.1,361.4 L1222.6,358.2 L1223.0,355.2 L1223.4,352.2 L1223.8,349.4 L1224.3,346.8 L1224.9,344.4 L1225.5,342.3 L1226.3,340.4 L1227.0,339.0 L1227.8,337.7 L1228.7,336.5 L1229.5,335.5 L1230.4,334.9 L1231.2,334.7 L1232.1,335.0 L1232.9,335.8 L1233.8,337.0 L1234.6,338.4 L1235.4,340.1 L1236.1,341.8 L1237.1,344.7 L1237.9,348.2 L1238.6,352.1 L1239.3,356.4 L1239.9,361.0 L1240.5,365.8 L1241.1,370.6 L1241.8,375.4 L1242.7,381.7 L1243.6,388.4 L1244.5,395.3 L1245.3,402.4 L1246.2,409.6 L1247.1,417.0 L1247.9,424.3 L1248.8,431.6 L1249.7,439.6 L1250.5,448.2 L1251.3,457.0 L1252.1,465.8 L1252.9,474.3 L1253.8,482.1 L1254.7,489.0 L1255.8,494.7 L1256.4,497.1 L1257.0,499.6 L1257.6,501.9 L1258.3,504.1 L1258.9,505.9 L1259.6,507.3 L1260.2,508.2 L1260.7,508.5 L1261.5,507.3 L1262.2,504.1 L1262.9,499.3 L1263.4,493.4 L1264.0,486.8 L1264.5,479.8 L1265.0,473.0 L1265.6,466.7 L1266.3,458.7 L1267.1,450.0 L1267.8,440.9 L1268.5,431.6 L1269.2,422.3 L1269.8,413.2 L1270.5,404.5 L1271.2,396.5 L1271.7,390.7 L1272.3,385.1 L1272.8,379.8 L1273.3,374.5 L1273.9,369.4 L1274.4,364.4 L1274.9,359.4 L1275.4,354.4 L1275.8,349.7 L1276.1,344.8 L1276.4,339.9 L1276.7,335.1 L1277.0,330.5 L1277.5,326.2 L1278.1,322.5 L1278.9,319.3 L1279.5,317.6 L1280.1,315.9 L1280.8,314.4 L1281.6,313.0 L1282.3,311.9 L1283.1,311.2 L1283.9,310.9 L1284.7,311.3 L1285.5,312.3 L1286.4,313.9 L1287.3,315.6 L1288.2,317.4 L1289.1,319.0 L1290.0,320.2 L1290.9,320.7 L1292.0,320.6 L1293.2,320.0 L1294.4,319.1 L1295.5,317.9 L1296.5,316.5 L1297.4,314.3 L1298.0,311.4 L1298.5,307.9 L1298.8,304.2 L1299.1,300.5 L1299.5,296.9 L1300.0,293.7 L1300.7,291.2 L1301.4,289.5 L1302.2,287.9 L1303.0,286.4 L1303.9,285.2 L1304.8,284.5 L1305.6,284.2 L1306.4,284.8 L1307.2,286.2 L1308.0,288.3 L1308.8,290.6 L1309.6,292.9 L1310.4,294.9 L1311.2,296.3 L1311.9,296.8 L1312.6,296.4 L1313.2,295.3 L1313.9,293.8 L1314.5,291.9 L1315.1,289.9 L1315.7,287.8 L1316.2,285.9 L1316.8,284.2 L1317.3,282.6 L1317.8,280.8 L1318.3,278.9 L1318.8,277.2 L1319.3,275.8 L1319.8,274.8 L1320.4,274.4 L1321.0,274.6 L1321.7,275.3 L1322.5,276.3 L1323.2,277.6 L1324.0,279.2 L1324.7,280.8 L1325.4,282.5 L1326.0,284.2 L1326.8,287.1 L1327.4,290.4 L1327.9,294.1 L1328.3,298.0 L1328.7,301.9 L1329.1,305.7 L1329.6,309.2 L1330.2,312.3 L1330.7,314.3 L1331.2,316.5 L1331.7,318.6 L1332.3,320.6 L1332.8,322.4 L1333.4,323.8 L1333.9,324.7 L1334.4,325.0 L1335.0,324.4 L1335.5,323.0 L1336.1,320.8 L1336.6,318.1 L1337.2,315.1 L1337.7,312.1 L1338.1,309.2 L1338.6,306.7 L1339.0,304.3 L1339.3,301.7 L1339.6,298.9 L1339.9,296.2 L1340.2,293.7 L1340.5,291.7 L1340.9,290.3 L1341.4,289.8 L1341.9,290.2 L1342.5,291.5 L1343.1,293.3 L1343.8,295.4 L1344.4,297.5 L1345.1,299.3 L1345.7,300.6 L1346.3,301.0 L1347.0,300.2 L1347.6,298.2 L1348.1,295.4 L1348.7,291.9 L1349.2,288.2 L1349.8,284.5 L1350.4,281.2 L1351.2,278.6 L1351.8,277.1 L1352.4,275.7 L1353.0,274.4 L1353.6,273.2 L1354.3,272.0 L1355.1,270.9 L1355.9,269.8 L1356.8,268.8 L1357.9,267.7 L1359.1,266.4 L1360.3,265.2 L1361.7,264.1 L1363.0,263.1 L1364.4,262.3 L1365.6,261.9 L1366.7,261.8 L1367.8,262.4 L1368.8,263.7 L1369.7,265.4 L1370.6,267.2 L1371.5,268.8 L1372.3,269.9 L1373.0,270.2 L1373.7,269.6 L1374.3,268.2 L1374.8,266.2 L1375.2,263.8 L1375.6,261.2 L1376.0,258.5 L1376.5,256.0 L1377.1,253.8 L1377.7,251.8 L1378.3,249.6 L1378.8,247.4 L1379.5,245.3 L1380.1,243.3 L1380.9,241.4 L1381.9,239.8 L1383.0,238.5 L1384.1,237.6 L1385.4,236.9 L1386.7,236.3 L1388.2,235.8 L1389.6,235.4 L1391.0,235.2 L1392.4,235.2 L1393.6,235.4 L1394.8,235.9 L1395.8,236.6 L1396.8,237.6 L1397.8,238.7 L1398.8,239.8 L1399.7,241.0 L1400.7,242.0 L1401.7,243.1 L1402.8,244.4 L1403.8,245.8 L1404.8,247.1 L1405.8,248.2 L1406.8,248.9 L1407.8,249.1 L1408.7,248.6 L1409.5,247.5 L1410.3,246.0 L1411.1,244.3 L1412.0,242.5 L1412.8,240.9 L1413.8,239.8 L1414.8,239.2 L1416.0,239.4 L1417.3,240.2 L1418.8,241.5 L1420.2,243.0 L1421.7,244.4 L1423.1,245.7 L1424.4,246.5 L1425.5,246.7 L1426.5,246.0 L1427.3,244.7 L1428.0,243.0 L1428.7,241.2 L1429.4,239.5 L1430.1,238.3 L1430.9,237.8 L1431.7,238.2 L1432.6,239.5 L1433.5,241.2 L1434.4,243.2 L1435.3,245.2 L1436.3,247.1 L1437.3,248.4 L1438.4,249.1 L1439.5,249.0 L1440.6,248.4 L1441.8,247.4 L1443.0,246.3 L1444.3,245.1 L1445.5,244.1 L1446.7,243.4 L1447.9,243.2 L1449.1,243.6 L1450.2,244.5 L1451.4,245.8 L1452.5,247.2 L1453.6,248.7 L1454.8,250.1 L1456.0,251.2 L1457.3,251.9 L1458.7,252.1 L1460.2,251.9 L1461.8,251.5 L1463.5,250.9 L1465.1,250.4 L1466.6,250.0 L1467.9,250.0 L1469.1,250.3 L1470.0,251.1 L1470.7,252.3 L1471.2,253.8 L1471.7,255.5 L1472.1,257.2 L1472.5,259.0 L1473.1,260.6 L1473.8,262.1 L1474.8,263.7 L1475.9,265.4 L1477.1,267.2 L1478.3,269.0 L1479.6,270.5 L1480.9,271.7 L1482.1,272.5 L1483.3,272.7 L1484.5,272.1 L1485.7,270.7 L1486.8,268.7 L1487.9,266.3 L1489.0,263.6 L1490.1,260.9 L1491.3,258.4 L1492.7,256.2 L1494.3,254.2 L1495.9,252.2 L1497.7,250.2 L1499.5,248.3 L1501.3,246.3 L1503.2,244.5 L1505.1,242.6 L1506.9,240.8 L1508.6,239.1 L1510.4,237.5 L1512.2,236.0 L1514.0,234.4 L1515.8,232.9 L1517.5,231.3 L1519.3,229.7 L1521.0,227.9 L1522.8,225.8 L1524.6,223.6 L1526.3,221.3 L1528.1,219.0 L1529.8,216.7 L1531.6,214.4 L1533.4,212.2 L1535.2,210.2 L1536.9,208.5 L1538.6,206.7 L1540.3,205.0 L1542.0,203.4 L1543.8,201.8 L1545.6,200.5 L1547.4,199.3 L1549.3,198.4 L1551.0,197.8 L1552.8,197.3 L1554.7,197.0 L1556.5,196.8 L1558.4,196.7 L1560.2,196.8 L1561.9,196.9 L1563.5,197.2 L1564.8,197.6 L1566.0,198.1 L1567.2,198.7 L1568.3,199.5 L1569.4,200.2 L1570.5,201.0 L1571.7,201.7 L1572.9,202.4 L1574.3,203.0 L1575.9,203.6 L1577.4,204.2 L1579.0,204.7 L1580.6,205.3 L1582.1,206.0 L1583.5,206.8 L1584.7,207.8 L1585.9,209.1 L1586.9,210.5 L1587.9,212.1 L1588.8,213.8 L1589.6,215.5 L1590.3,217.3 L1591.1,219.1 L1591.8,220.8 L1592.5,222.5 L1593.0,224.4 L1593.5,226.2 L1594.0,228.1 L1594.5,229.9 L1595.1,231.7 L1595.7,233.4 L1596.5,234.9 L1597.3,236.2 L1598.2,237.7 L1599.1,239.1 L1600.1,240.4 L1601.2,241.5 L1602.2,242.5 L1603.3,243.0 L1604.3,243.2 L1605.6,242.6 L1607.0,241.3 L1608.4,239.4 L1609.7,237.0 L1611.1,234.5 L1612.6,232.0 L1614.0,229.7 L1615.4,227.9 L1616.5,226.7 L1617.7,225.6 L1618.8,224.6 L1619.9,223.6 L1621.1,222.6 L1622.3,221.6 L1623.5,220.7 L1624.8,219.6 L1626.4,218.2 L1628.1,216.6 L1629.8,215.0 L1631.6,213.4 L1633.4,211.8 L1635.2,210.4 L1637.1,209.3 L1639.0,208.5 L1640.7,208.1 L1642.4,207.9 L1644.2,207.9 L1646.0,208.1 L1647.8,208.3 L1649.6,208.5 L1651.4,208.8 L1653.2,209.0 L1655.0,209.2 L1656.7,209.4 L1658.4,209.6 L1660.2,209.8 L1661.9,210.1 L1663.7,210.3 L1665.5,210.6 L1667.3,210.9 L1669.4,211.1 L1671.5,211.3 L1673.8,211.5 L1676.0,211.6 L1678.2,211.9 L1680.3,212.3 L1682.2,212.9 L1683.8,213.7 L1685.0,214.8 L1686.0,216.3 L1686.9,218.0 L1687.8,219.8 L1688.5,221.5 L1689.3,222.9 L1690.0,223.9 L1690.9,224.3 L1691.7,224.0 L1692.5,223.1 L1693.3,221.9 L1694.1,220.4 L1694.9,218.8 L1695.8,217.2 L1696.9,215.9 L1698.0,214.9 L1699.4,214.1 L1701.1,213.5 L1702.8,212.9 L1704.6,212.5 L1706.5,212.3 L1708.4,212.2 L1710.3,212.2 L1712.1,212.5 L1714.2,213.1 L1716.3,214.1 L1718.4,215.4 L1720.5,216.9 L1722.7,218.5 L1724.8,220.1 L1726.9,221.7 L1729.0,223.1" fill="none" stroke="#000" stroke-width="7" stroke-linejoin="round" stroke-linecap="round"/>
<path d="M405.0,253.0 L405.0,328.9" stroke="#000" stroke-width="7" stroke-linecap="round" stroke-dasharray="6.4 16.799999999999997" fill="none"/>
<path d="M501.8,291.3 L501.8,365.9" stroke="#000" stroke-width="7" stroke-linecap="round" stroke-dasharray="6.4 16.799999999999997" fill="none"/>
<path d="M646.6,278.5 L646.6,355.5" stroke="#000" stroke-width="7" stroke-linecap="round" stroke-dasharray="6.4 16.799999999999997" fill="none"/>
<path d="M1214.0,383.1 L1214.0,506.1" stroke="#000" stroke-width="7" stroke-linecap="round" stroke-dasharray="6.4 16.799999999999997" fill="none"/>
<path d="M1261.2,391.5 L1261.2,514.3" stroke="#000" stroke-width="7" stroke-linecap="round" stroke-dasharray="6.4 16.799999999999997" fill="none"/>
<path d="M1335.0,273.5 L1335.0,952.8" stroke="#000" stroke-width="7" stroke-linecap="round" stroke-dasharray="6.4 16.799999999999997" fill="none"/>
<path d="M1484.4,244.3 L1484.4,343.5" stroke="#000" stroke-width="7" stroke-linecap="round" stroke-dasharray="6.4 16.799999999999997" fill="none"/>
<path d="M1604.3,221.9 L1604.3,321.1" stroke="#000" stroke-width="7" stroke-linecap="round" stroke-dasharray="6.4 16.799999999999997" fill="none"/>
<path d="M1591.1,736.3 L1591.1,835.0" stroke="#000" stroke-width="7" stroke-linecap="round" stroke-dasharray="6.4 16.799999999999997" fill="none"/>
<path d="M1624.2,801.3 L1624.2,1133.5" stroke="#000" stroke-width="7" stroke-linecap="round" stroke-dasharray="6.4 16.799999999999997" fill="none"/>
<text transform="translate(422.90,233.53) rotate(-90)" font-family="'Liberation Sans', Arial, sans-serif" font-size="53.5" fill="#000" textLength="112.85" lengthAdjust="spacingAndGlyphs">3452</text>
<text transform="translate(520.50,271.84) rotate(-90)" font-family="'Liberation Sans', Arial, sans-serif" font-size="53.5" fill="#000" textLength="113.41" lengthAdjust="spacingAndGlyphs">3246</text>
<text transform="translate(659.10,266.02) rotate(-90)" font-family="'Liberation Sans', Arial, sans-serif" font-size="53.5" fill="#000" textLength="111.90" lengthAdjust="spacingAndGlyphs">2924</text>
<text transform="translate(1197.10,468.95) rotate(-90)" font-family="'Liberation Sans', Arial, sans-serif" font-size="53.5" fill="#000" textLength="111.34" lengthAdjust="spacingAndGlyphs">1655</text>
<text transform="translate(1276.80,324.48) rotate(-90)" font-family="'Liberation Sans', Arial, sans-serif" font-size="53.5" fill="#000" textLength="112.02" lengthAdjust="spacingAndGlyphs">1546</text>
<text transform="translate(1349.00,256.68) rotate(-90)" font-family="'Liberation Sans', Arial, sans-serif" font-size="53.5" fill="#000" textLength="109.17" lengthAdjust="spacingAndGlyphs">1386</text>
<text transform="translate(1500.30,230.00) rotate(-90)" font-family="'Liberation Sans', Arial, sans-serif" font-size="53.5" fill="#000" textLength="109.80" lengthAdjust="spacingAndGlyphs">1048</text>
<text transform="translate(1627.80,199.58) rotate(-90)" font-family="'Liberation Sans', Arial, sans-serif" font-size="53.5" fill="#000" textLength="86.02" lengthAdjust="spacingAndGlyphs">778</text>
<text transform="translate(1613.10,713.98) rotate(-90)" font-family="'Liberation Sans', Arial, sans-serif" font-size="53.5" fill="#000" textLength="84.53" lengthAdjust="spacingAndGlyphs">810</text>
<text transform="translate(1648.50,782.97) rotate(-90)" font-family="'Liberation Sans', Arial, sans-serif" font-size="53.5" fill="#000" textLength="79.03" lengthAdjust="spacingAndGlyphs">746</text>
<text x="26.77" y="82.30" font-family="'Liberation Sans', Arial, sans-serif" font-size="89" fill="#000">(a)</text>
<text x="836.88" y="198.90" font-family="'Liberation Sans', Arial, sans-serif" font-size="63" fill="#000" textLength="164.67" lengthAdjust="spacingAndGlyphs">CQDs</text>
<text x="850.11" y="501.00" font-family="'Liberation Sans', Arial, sans-serif" font-size="63.5" fill="#008000" textLength="139.72" lengthAdjust="spacingAndGlyphs">BiVO</text>
<text x="990.15" y="524.80" font-family="'Liberation Sans', Arial, sans-serif" font-size="37.5" fill="#008000" textLength="18.91" lengthAdjust="spacingAndGlyphs">4</text>
<text x="709.76" y="815.90" font-family="'Liberation Sans', Arial, sans-serif" font-size="63" fill="#ff0000" textLength="81.49" lengthAdjust="spacingAndGlyphs">0.6</text>
<text x="792.03" y="816.50" font-family="'Liberation Serif', 'Times New Roman', serif" font-size="56" fill="#ff0000" font-style="italic" textLength="45.01" lengthAdjust="spacingAndGlyphs">%</text>
<text x="837.99" y="815.90" font-family="'Liberation Sans', Arial, sans-serif" font-size="63.5" fill="#ff0000" textLength="320.85" lengthAdjust="spacingAndGlyphs">CQDs/BiVO</text>
<text x="1158.15" y="839.90" font-family="'Liberation Sans', Arial, sans-serif" font-size="37.5" fill="#ff0000" textLength="18.91" lengthAdjust="spacingAndGlyphs">4</text>
<text x="629.54" y="1349.00" font-family="'Liberation Sans', Arial, sans-serif" font-size="72" fill="#000" textLength="596.05" lengthAdjust="spacingAndGlyphs">Wavenumbers (cm</text>
<text x="1226.41" y="1306.90" font-family="'Liberation Sans', Arial, sans-serif" font-size="43" fill="#000" textLength="31.43" lengthAdjust="spacingAndGlyphs">-1</text>
<text x="1266.39" y="1349.00" font-family="'Liberation Sans', Arial, sans-serif" font-size="72" fill="#000" textLength="20.24" lengthAdjust="spacingAndGlyphs">)</text>
<text transform="translate(81.90,1047.61) rotate(-90)" font-family="'Liberation Sans', Arial, sans-serif" font-size="73" fill="#000" textLength="644.46" lengthAdjust="spacingAndGlyphs">Transmittance (a.u.)</text>
<rect x="160.00" y="1435.00" width="1575.00" height="7.00" fill="#000"/>
<rect x="160.00" y="2505.00" width="1575.00" height="6.50" fill="#000"/>
<rect x="160.00" y="1435.00" width="6.00" height="1076.50" fill="#000"/>
<rect x="1728.00" y="1435.00" width="7.00" height="1076.50" fill="#000"/>
<rect x="421.50" y="2485.00" width="5.80" height="20.00" fill="#000"/>
<rect x="748.25" y="2485.00" width="5.80" height="20.00" fill="#000"/>
<rect x="1075.00" y="2485.00" width="5.80" height="20.00" fill="#000"/>
<rect x="1401.75" y="2485.00" width="5.80" height="20.00" fill="#000"/>
<rect x="258.12" y="2494.00" width="5.80" height="11.00" fill="#000"/>
<rect x="584.88" y="2494.00" width="5.80" height="11.00" fill="#000"/>
<rect x="911.62" y="2494.00" width="5.80" height="11.00" fill="#000"/>
<rect x="1238.37" y="2494.00" width="5.80" height="11.00" fill="#000"/>
<rect x="1565.12" y="2494.00" width="5.80" height="11.00" fill="#000"/>
<text x="379.48" y="2576.50" font-family="'Liberation Sans', Arial, sans-serif" font-size="53.8" fill="#000">500</text>
<text x="690.36" y="2576.50" font-family="'Liberation Sans', Arial, sans-serif" font-size="53.8" fill="#000">1000</text>
<text x="1017.11" y="2576.50" font-family="'Liberation Sans', Arial, sans-serif" font-size="53.8" fill="#000">1500</text>
<text x="1344.53" y="2576.50" font-family="'Liberation Sans', Arial, sans-serif" font-size="53.8" fill="#000">2000</text>
<text x="1671.28" y="2576.50" font-family="'Liberation Sans', Arial, sans-serif" font-size="53.8" fill="#000">2500</text>
<rect x="1174.20" y="1438.00" width="6.30" height="415.20" fill="#000"/>
<rect x="1174.20" y="1846.50" width="560.80" height="6.70" fill="#000"/>
<rect x="1425.95" y="1825.50" width="6.40" height="21.50" fill="#000"/>
<rect x="1677.70" y="1825.50" width="6.40" height="21.50" fill="#000"/>
<rect x="1300.08" y="1836.00" width="6.40" height="11.00" fill="#000"/>
<rect x="1551.83" y="1836.00" width="6.40" height="11.00" fill="#000"/>
<clipPath id="mc"><rect x="163" y="1438.5" width="1568.5" height="1069.5"/></clipPath><g clip-path="url(#mc)">
<path d="M166.5,2484.8 L168.9,2487.1 L171.3,2483.8 L173.7,2485.3 L176.1,2484.3 L178.5,2476.3 L180.9,2474.4 L183.4,2482.9 L186.0,2474.6 L187.5,2473.5 L189.1,2481.8 L190.6,2474.6 L192.2,2478.1 L193.8,2472.9 L195.4,2473.9 L197.1,2467.2 L198.7,2472.0 L200.4,2473.9 L202.0,2468.9 L203.7,2470.6 L205.3,2468.8 L207.0,2460.6 L208.6,2468.0 L210.3,2465.2 L211.9,2460.8 L213.5,2456.7 L215.1,2465.9 L216.7,2460.3 L218.4,2462.3 L220.0,2463.4 L221.6,2460.5 L223.2,2462.1 L224.8,2455.0 L226.4,2459.0 L228.1,2453.9 L229.7,2459.0 L231.3,2457.5 L233.0,2447.4 L234.6,2447.1 L236.2,2447.5 L237.9,2455.8 L239.5,2448.9 L241.1,2450.6 L242.7,2446.2 L244.3,2448.1 L245.9,2446.2 L247.5,2445.3 L249.1,2447.7 L250.8,2447.3 L252.4,2450.7 L254.0,2447.7 L255.6,2450.3 L257.3,2449.1 L258.9,2450.4 L260.5,2446.3 L262.2,2439.9 L263.8,2448.0 L265.4,2449.1 L267.0,2448.2 L268.6,2444.0 L270.2,2445.7 L271.8,2439.6 L273.4,2447.0 L275.0,2443.8 L276.6,2440.4 L278.3,2437.7 L279.9,2447.2 L281.5,2448.7 L283.1,2437.9 L284.8,2446.4 L286.4,2441.6 L288.1,2438.4 L289.8,2439.9 L291.7,2445.4 L293.6,2446.3 L295.6,2436.0 L297.5,2442.5 L299.5,2435.2 L301.5,2442.9 L303.6,2437.8 L305.6,2443.9 L307.6,2444.7 L309.6,2438.6 L311.5,2444.2 L313.5,2435.5 L315.4,2432.5 L317.3,2438.6 L319.1,2431.7 L320.9,2433.6 L323.7,2436.3 L326.3,2439.1 L328.9,2434.2 L331.4,2433.5 L333.9,2444.1 L336.4,2438.1 L339.0,2446.3 L341.7,2445.9 L343.2,2439.7 L344.8,2440.7 L346.4,2441.4 L348.0,2442.8 L349.6,2442.1 L351.2,2441.6 L352.8,2442.2 L354.5,2445.9 L356.1,2440.5 L357.8,2439.4 L359.4,2442.8 L361.1,2436.8 L362.7,2437.5 L364.3,2445.6 L366.0,2440.1 L367.6,2440.4 L369.2,2434.0 L370.9,2438.9 L372.5,2441.0 L374.1,2434.4 L375.7,2441.7 L377.4,2442.1 L379.0,2435.4 L380.6,2442.4 L382.2,2440.6 L383.9,2443.4 L385.5,2439.7 L387.1,2444.1 L388.7,2444.7 L390.4,2436.3 L392.0,2437.0 L393.6,2444.5 L395.2,2448.1 L396.9,2439.8 L398.5,2442.4 L400.1,2444.3 L401.8,2441.2 L403.4,2441.9 L405.1,2441.5 L406.7,2442.4 L408.4,2445.3 L410.0,2441.9 L411.6,2443.0 L413.2,2447.9 L414.8,2439.1 L416.4,2445.7 L418.0,2447.8 L419.5,2442.7 L422.2,2441.6 L424.9,2448.4 L427.6,2441.3 L430.3,2440.3 L432.9,2443.0 L435.4,2446.0 L437.8,2439.0 L440.0,2442.0 L441.7,2442.7 L443.3,2449.5 L444.8,2445.8 L446.2,2451.9 L447.7,2444.8 L449.1,2447.8 L450.6,2452.4 L452.2,2455.8 L453.9,2451.0 L455.6,2448.4 L457.4,2447.2 L459.2,2452.1 L461.0,2447.9 L462.9,2455.1 L464.7,2455.4 L466.5,2447.4 L468.3,2448.4 L470.1,2454.5 L472.0,2452.1 L473.8,2453.8 L475.6,2448.0 L477.4,2445.3 L479.1,2447.3 L480.8,2453.7 L482.5,2448.2 L484.0,2450.1 L485.5,2452.3 L487.0,2453.7 L488.5,2455.1 L490.0,2462.8 L491.5,2455.0 L493.1,2454.5 L494.8,2466.9 L496.5,2467.3 L498.2,2469.8 L500.0,2464.2 L501.8,2471.5 L503.6,2472.2 L505.5,2464.6 L507.3,2471.5 L509.0,2473.1 L510.8,2471.4 L512.6,2469.9 L514.4,2467.3 L516.2,2468.0 L518.0,2466.8 L519.8,2465.1 L521.6,2471.7 L523.4,2468.4 L525.3,2475.1 L527.1,2466.3 L529.0,2477.1 L530.8,2475.0 L532.6,2478.4 L534.3,2478.7 L535.9,2479.5 L537.3,2476.5 L538.6,2470.9 L539.8,2480.9 L540.9,2475.3 L542.1,2478.0 L543.3,2483.5 L544.7,2482.7 L546.1,2481.9 L547.9,2488.3 L549.8,2484.2 L551.8,2480.4 L553.9,2478.6 L556.0,2485.2 L558.2,2479.7 L560.3,2482.7 L562.4,2477.0 L564.5,2474.7 L566.6,2478.3 L568.7,2481.1 L570.8,2472.9 L572.9,2480.0 L575.0,2481.4 L576.9,2480.1 L578.8,2480.6 L580.5,2471.5 L582.0,2480.1 L583.5,2484.3 L584.9,2476.1 L586.3,2480.2 L587.8,2481.5 L589.3,2485.7 L591.0,2485.0 L592.9,2485.7 L594.8,2489.0 L596.8,2479.1 L598.9,2478.9 L601.0,2478.8 L603.1,2477.9 L605.2,2476.3 L607.3,2486.5 L609.3,2484.5 L611.3,2474.6 L613.3,2479.0 L615.4,2476.2 L617.4,2475.7 L619.5,2475.6 L621.5,2478.8 L623.7,2477.7 L626.1,2474.9 L628.6,2472.9 L631.2,2474.7 L633.8,2472.5 L636.4,2477.8 L639.0,2479.8 L641.6,2475.7 L644.1,2471.7 L646.7,2472.1 L649.3,2473.4 L651.9,2475.0 L654.4,2475.8 L656.9,2469.5 L659.5,2473.0 L662.0,2469.4 L664.5,2465.7 L667.1,2463.5 L668.4,2464.2 L669.7,2465.9 L671.0,2461.7 L672.2,2464.1 L673.5,2460.5 L674.8,2457.1 L676.1,2459.8 L677.4,2460.9 L679.9,2451.9 L682.4,2454.7 L684.9,2453.4 L687.0,2458.0 L689.1,2458.0 L691.3,2450.6 L693.4,2456.4 L695.4,2454.5 L697.4,2447.5 L699.4,2449.0 L701.2,2443.7 L703.2,2450.0 L705.0,2445.8 L705.8,2447.2 L706.7,2444.7 L707.5,2441.7 L708.3,2441.1 L709.1,2437.6 L709.9,2430.6 L710.7,2435.0 L711.6,2426.6 L712.5,2427.0 L713.4,2433.3 L714.5,2423.4 L715.5,2422.9 L717.8,2421.2 L719.2,2429.8 L720.5,2420.5 L721.9,2417.9 L723.3,2427.0 L724.8,2417.7 L726.2,2425.6 L727.7,2423.0 L729.1,2424.3 L731.7,2424.7 L734.0,2419.3 L735.9,2421.2 L737.5,2411.6 L738.7,2420.1 L740.0,2416.3 L741.1,2417.7 L742.4,2409.0 L743.6,2414.9 L744.9,2415.1 L746.2,2402.6 L747.6,2403.7 L748.9,2404.6 L750.2,2405.9 L751.4,2397.4 L752.6,2395.3 L753.8,2394.7 L755.0,2397.8 L756.3,2398.0 L757.5,2392.3 L758.7,2390.5 L760.0,2389.3 L761.6,2386.5 L763.1,2385.0 L764.7,2378.5 L766.3,2381.0 L767.9,2384.2 L769.5,2375.0 L771.1,2376.6 L772.8,2367.3 L774.3,2371.8 L775.9,2370.8 L777.5,2368.1 L779.0,2364.5 L780.6,2362.4 L782.3,2362.7 L783.9,2364.2 L785.5,2353.6 L787.1,2351.5 L788.7,2357.9 L790.4,2358.7 L792.0,2352.6 L793.6,2350.3 L795.2,2352.2 L796.8,2344.3 L798.3,2343.5 L800.1,2340.3 L800.9,2343.6 L801.7,2339.0 L802.6,2336.6 L803.4,2340.7 L804.1,2342.3 L804.9,2333.0 L805.7,2336.3 L806.5,2331.3 L807.2,2335.0 L808.0,2330.2 L808.7,2324.8 L809.5,2322.6 L810.2,2318.7 L811.0,2322.7 L811.8,2319.7 L812.6,2315.5 L813.4,2315.9 L814.2,2313.5 L814.9,2317.1 L815.7,2307.6 L816.4,2315.8 L817.2,2307.7 L817.9,2307.3 L818.7,2303.8 L819.5,2306.4 L820.3,2304.5 L821.1,2299.7 L822.0,2297.1 L822.9,2298.5 L823.8,2298.7 L825.3,2291.3 L826.8,2293.7 L828.4,2294.9 L830.1,2287.6 L831.7,2283.4 L833.3,2282.0 L834.9,2286.4 L836.5,2284.2 L838.2,2285.6 L839.8,2282.3 L841.4,2272.7 L843.0,2269.9 L844.6,2268.4 L846.1,2265.3 L847.7,2269.3 L849.3,2268.9 L850.9,2267.3 L852.5,2257.5 L854.1,2262.7 L855.7,2254.0 L857.3,2253.3 L858.9,2254.8 L860.5,2244.9 L862.0,2242.7 L862.9,2250.3 L863.7,2242.5 L864.6,2241.8 L865.4,2243.1 L866.3,2242.8 L867.2,2233.4 L868.0,2235.9 L868.9,2235.6 L869.7,2234.8 L870.5,2230.0 L871.3,2233.0 L872.1,2236.0 L872.8,2227.9 L873.5,2228.3 L874.8,2220.5 L875.6,2220.3 L876.3,2223.0 L876.9,2214.4 L877.4,2221.8 L878.0,2220.1 L878.6,2208.5 L879.4,2216.7 L880.3,2208.1 L881.6,2210.9 L883.0,2208.7 L884.6,2201.3 L886.3,2203.9 L888.0,2201.8 L889.7,2201.8 L891.5,2193.4 L893.1,2197.4 L894.7,2197.9 L896.3,2192.6 L897.9,2189.1 L899.5,2182.2 L901.1,2184.9 L902.7,2181.3 L904.3,2183.7 L905.8,2181.1 L907.5,2177.4 L909.1,2170.3 L909.9,2174.6 L910.7,2173.2 L911.5,2166.5 L912.3,2173.7 L913.1,2169.6 L913.9,2161.9 L914.6,2170.3 L915.4,2159.5 L916.2,2160.5 L917.0,2163.8 L917.8,2161.1 L918.6,2159.3 L919.4,2159.1 L920.2,2155.5 L921.0,2152.4 L921.7,2149.5 L922.5,2146.8 L923.3,2153.3 L924.0,2152.4 L924.8,2148.5 L925.6,2149.6 L926.4,2143.7 L928.0,2140.1 L929.6,2139.1 L931.3,2142.7 L932.8,2130.9 L934.4,2134.7 L936.0,2129.9 L937.6,2134.6 L939.2,2128.1 L940.8,2126.3 L942.5,2125.7 L944.1,2125.9 L945.7,2127.3 L947.2,2121.0 L948.8,2125.7 L950.5,2115.6 L952.1,2116.3 L953.7,2113.0 L955.2,2111.9 L956.8,2118.5 L958.4,2116.4 L960.0,2108.4 L961.6,2106.8 L963.2,2107.9 L964.8,2110.2 L966.4,2109.4 L968.0,2107.0 L969.6,2103.5 L971.2,2096.6 L972.8,2098.0 L974.4,2094.0 L976.0,2096.5 L977.6,2095.4 L979.2,2089.4 L980.7,2088.4 L982.3,2093.1 L983.9,2082.2 L985.5,2089.4 L987.0,2088.3 L988.5,2086.8 L990.1,2078.0 L991.7,2078.1 L993.4,2076.8 L995.1,2076.0 L996.6,2079.2 L998.1,2075.0 L999.7,2069.8 L1001.4,2076.0 L1003.0,2071.1 L1004.6,2072.2 L1006.3,2073.5 L1007.9,2064.6 L1009.5,2073.8 L1011.1,2072.6 L1012.7,2070.9 L1014.3,2071.6 L1015.9,2071.1 L1017.4,2068.1 L1019.0,2072.3 L1020.6,2066.2 L1022.2,2071.5 L1023.8,2072.8 L1025.5,2069.8 L1027.1,2070.6 L1028.7,2074.6 L1030.2,2073.0 L1031.8,2063.1 L1033.4,2070.2 L1035.0,2067.3 L1036.7,2059.5 L1038.3,2062.3 L1040.0,2059.8 L1041.6,2056.9 L1043.2,2061.4 L1044.7,2065.2 L1046.1,2057.0 L1047.3,2062.7 L1048.4,2059.7 L1049.4,2052.0 L1050.4,2059.9 L1051.5,2056.0 L1052.6,2059.4 L1053.8,2056.6 L1055.3,2056.9 L1056.9,2052.4 L1058.6,2058.5 L1060.4,2060.7 L1062.1,2060.7 L1063.7,2056.5 L1065.2,2061.3 L1066.5,2058.9 L1067.6,2055.4 L1068.4,2055.8 L1069.1,2057.5 L1069.8,2060.2 L1070.6,2060.7 L1071.6,2065.5 L1072.8,2068.2 L1074.2,2066.3 L1075.6,2064.8 L1077.1,2067.3 L1078.6,2062.9 L1080.0,2064.8 L1081.3,2068.3 L1082.6,2064.1 L1083.9,2061.5 L1085.2,2070.2 L1086.4,2068.1 L1087.7,2064.0 L1089.0,2064.2 L1090.2,2066.4 L1091.4,2067.5 L1092.7,2063.3 L1094.0,2060.7 L1095.3,2063.1 L1096.6,2069.6 L1098.0,2061.3 L1099.5,2064.3 L1100.9,2060.2 L1102.4,2059.4 L1103.9,2058.2 L1105.4,2060.5 L1106.8,2057.5 L1108.3,2056.0 L1109.7,2057.5 L1111.2,2058.9 L1112.7,2063.7 L1114.2,2059.5 L1115.6,2060.0 L1117.0,2066.1 L1118.3,2066.4 L1119.5,2070.6 L1120.6,2063.5 L1121.7,2068.4 L1122.8,2069.0 L1123.8,2065.3 L1124.9,2077.3 L1125.9,2069.1 L1126.9,2068.5 L1127.9,2074.0 L1128.8,2071.2 L1129.8,2077.7 L1130.7,2075.4 L1131.7,2073.7 L1132.6,2073.8 L1133.6,2082.8 L1134.7,2078.3 L1135.7,2085.3 L1136.8,2082.3 L1137.9,2088.7 L1139.0,2081.9 L1140.1,2082.1 L1141.2,2083.1 L1142.3,2090.5 L1143.4,2089.2 L1144.5,2086.7 L1145.5,2084.5 L1146.6,2092.4 L1147.8,2096.6 L1148.9,2092.7 L1150.1,2086.2 L1151.4,2087.0 L1152.7,2088.1 L1153.9,2089.4 L1155.2,2088.1 L1156.5,2088.5 L1157.8,2096.0 L1159.1,2099.0 L1160.4,2090.7 L1161.7,2100.1 L1163.0,2094.3 L1164.2,2098.6 L1165.3,2100.6 L1166.4,2101.6 L1167.5,2091.6 L1168.6,2095.7 L1169.6,2100.3 L1170.7,2105.3 L1171.8,2095.9 L1172.9,2099.1 L1174.0,2106.5 L1175.1,2098.3 L1176.3,2102.3 L1177.4,2102.4 L1178.5,2107.3 L1179.5,2111.2 L1180.5,2103.2 L1181.5,2111.2 L1182.5,2112.3 L1183.4,2114.8 L1184.3,2112.7 L1185.3,2118.5 L1186.2,2113.1 L1187.1,2115.1 L1188.1,2114.3 L1189.0,2122.4 L1189.8,2120.4 L1190.7,2119.5 L1191.6,2119.9 L1192.6,2128.0 L1193.6,2128.1 L1194.8,2130.8 L1196.2,2128.4 L1197.6,2130.9 L1199.2,2128.3 L1200.8,2136.2 L1202.5,2129.2 L1204.2,2135.8 L1205.9,2140.6 L1207.6,2140.9 L1209.6,2135.5 L1211.6,2138.7 L1213.7,2147.6 L1215.8,2146.8 L1217.9,2151.2 L1220.1,2152.7 L1222.2,2149.2 L1224.2,2156.1 L1226.1,2155.4 L1228.1,2151.9 L1230.1,2153.5 L1232.1,2151.2 L1234.0,2156.3 L1235.7,2164.3 L1237.4,2155.5 L1238.8,2162.6 L1239.9,2158.7 L1240.7,2160.1 L1241.4,2168.7 L1242.0,2165.6 L1242.6,2165.2 L1243.3,2168.4 L1244.1,2176.2 L1245.1,2177.3 L1246.7,2172.8 L1247.7,2176.6 L1248.6,2186.6 L1249.7,2178.9 L1250.8,2184.2 L1251.9,2183.6 L1253.0,2189.2 L1254.1,2188.2 L1255.3,2191.7 L1256.4,2189.8 L1257.6,2186.8 L1258.7,2187.8 L1259.8,2187.8 L1260.8,2197.9 L1261.8,2190.5 L1263.4,2191.3 L1265.0,2204.5 L1266.5,2197.2 L1268.0,2207.4 L1269.4,2199.5 L1271.0,2205.9 L1272.6,2204.7 L1274.3,2213.7 L1276.2,2212.7 L1278.2,2214.6 L1280.3,2217.5 L1282.5,2220.3 L1284.6,2215.5 L1286.8,2220.1 L1288.9,2219.8 L1290.9,2217.5 L1292.0,2227.3 L1293.1,2225.4 L1294.2,2229.2 L1295.3,2223.0 L1296.4,2228.2 L1297.5,2228.4 L1298.6,2232.8 L1299.7,2226.2 L1300.7,2230.6 L1301.8,2233.5 L1302.8,2229.8 L1303.8,2236.8 L1304.8,2240.2 L1305.8,2237.7 L1306.7,2241.6 L1307.6,2242.3 L1309.1,2239.7 L1310.4,2243.4 L1311.6,2253.3 L1312.7,2247.5 L1313.9,2250.7 L1315.1,2248.7 L1316.5,2252.3 L1318.0,2253.6 L1319.8,2264.7 L1321.8,2264.2 L1323.9,2267.8 L1326.1,2270.9 L1328.3,2268.2 L1330.5,2273.8 L1332.6,2270.8 L1334.7,2271.2 L1336.6,2279.4 L1338.5,2280.6 L1340.4,2282.9 L1342.2,2279.2 L1344.0,2284.4 L1345.8,2281.9 L1347.6,2290.8 L1349.3,2291.8 L1350.9,2286.3 L1352.5,2296.1 L1354.0,2289.2 L1355.5,2290.3 L1356.9,2300.0 L1358.5,2297.0 L1360.1,2301.8 L1361.8,2305.2 L1363.7,2299.9 L1365.8,2310.2 L1368.0,2306.3 L1370.2,2310.0 L1372.4,2310.7 L1374.6,2317.2 L1376.6,2319.1 L1378.5,2315.4 L1380.1,2315.1 L1381.7,2319.4 L1383.1,2322.8 L1384.5,2320.8 L1385.9,2323.7 L1387.2,2333.0 L1388.6,2334.2 L1390.0,2339.4 L1391.3,2341.1 L1392.5,2341.5 L1393.7,2337.1 L1394.9,2336.1 L1396.1,2339.4 L1397.4,2342.7 L1398.7,2344.9 L1400.0,2346.4 L1401.3,2345.4 L1402.5,2352.4 L1403.9,2346.6 L1405.2,2349.8 L1406.6,2355.8 L1407.9,2355.8 L1409.3,2350.4 L1410.6,2350.5 L1411.9,2357.8 L1413.2,2348.7 L1414.6,2350.4 L1415.9,2355.5 L1417.2,2355.9 L1418.5,2351.9 L1419.8,2351.2 L1421.1,2354.0 L1422.4,2361.9 L1423.6,2359.5 L1424.8,2367.0 L1426.0,2366.1 L1427.2,2369.8 L1428.4,2359.8 L1429.7,2362.8 L1430.9,2361.8 L1432.2,2367.7 L1433.5,2367.5 L1434.8,2364.9 L1436.0,2371.8 L1437.3,2367.2 L1438.5,2370.9 L1439.7,2371.2 L1440.9,2379.2 L1442.1,2376.1 L1443.3,2375.8 L1444.4,2374.8 L1445.5,2381.1 L1446.6,2385.0 L1447.7,2387.0 L1448.9,2391.1 L1450.0,2390.7 L1451.1,2384.7 L1452.2,2384.0 L1453.3,2392.1 L1454.4,2393.0 L1455.4,2390.3 L1456.5,2395.0 L1457.5,2392.5 L1458.4,2390.1 L1459.3,2389.8 L1460.2,2389.0 L1461.2,2397.5 L1462.1,2401.6 L1463.1,2402.7 L1464.2,2398.3 L1465.5,2401.6 L1466.8,2405.7 L1468.2,2405.2 L1469.7,2403.6 L1471.2,2402.2 L1472.7,2404.2 L1474.1,2400.9 L1475.6,2401.8 L1477.0,2408.6 L1478.4,2413.0 L1479.9,2408.3 L1481.3,2407.4 L1482.8,2407.4 L1484.2,2409.2 L1485.6,2414.0 L1487.1,2410.4 L1488.6,2417.0 L1490.1,2407.9 L1491.6,2410.2 L1493.1,2413.1 L1494.6,2412.3 L1496.0,2418.0 L1497.4,2418.3 L1498.6,2420.2 L1499.8,2417.2 L1500.9,2411.1 L1501.9,2418.6 L1502.9,2419.4 L1503.9,2419.7 L1505.0,2418.4 L1506.0,2424.6 L1507.1,2428.2 L1508.1,2419.7 L1509.2,2427.8 L1510.3,2425.5 L1511.4,2428.4 L1512.6,2434.2 L1513.9,2436.1 L1515.5,2433.6 L1517.1,2429.5 L1518.9,2439.5 L1520.7,2431.8 L1522.6,2435.4 L1524.5,2441.8 L1526.3,2436.7 L1528.2,2437.1 L1529.9,2445.9 L1531.7,2446.4 L1533.4,2439.4 L1535.2,2440.7 L1537.0,2439.8 L1538.8,2438.4 L1540.6,2440.3 L1542.4,2449.7 L1544.4,2439.6 L1546.4,2442.2 L1548.5,2442.7 L1550.6,2442.2 L1552.6,2448.5 L1554.7,2452.0 L1556.8,2454.1 L1558.8,2452.6 L1560.8,2455.8 L1562.9,2447.1 L1564.9,2451.6 L1566.9,2460.8 L1568.9,2451.2 L1570.9,2454.6 L1573.0,2458.2 L1575.1,2456.4 L1577.3,2460.5 L1579.6,2455.1 L1581.8,2457.8 L1584.1,2466.9 L1586.5,2457.6 L1588.8,2467.1 L1591.2,2458.9 L1593.5,2469.2 L1596.0,2466.1 L1598.5,2466.5 L1601.1,2461.2 L1603.6,2460.9 L1606.2,2470.1 L1608.8,2463.9 L1611.3,2464.9 L1613.9,2473.3 L1616.4,2474.7 L1619.0,2465.7 L1621.5,2477.5 L1624.1,2473.3 L1626.6,2472.3 L1629.2,2469.7 L1631.7,2473.7 L1634.3,2481.4 L1636.8,2473.1 L1639.4,2471.4 L1641.9,2471.6 L1644.5,2471.3 L1647.0,2473.8 L1649.6,2480.5 L1652.1,2470.4 L1654.7,2471.8 L1657.3,2480.9 L1659.8,2481.8 L1662.4,2481.8 L1664.9,2473.3 L1667.5,2474.8 L1670.0,2482.3 L1672.6,2477.1 L1675.1,2480.0 L1677.7,2475.8 L1680.2,2472.8 L1682.8,2477.2 L1685.3,2482.6 L1687.8,2483.5 L1690.4,2481.5 L1692.9,2480.7 L1695.5,2482.1 L1698.1,2481.3 L1700.7,2482.7 L1703.3,2486.6 L1706.0,2479.3 L1708.6,2484.3 L1711.1,2488.6 L1713.6,2487.7 L1715.9,2479.9 L1717.7,2489.3 L1719.4,2487.9 L1721.0,2479.8 L1722.6,2481.0 L1724.2,2480.2 L1725.8,2478.4 L1727.4,2489.5 L1729.0,2482.6" fill="none" stroke="#000" stroke-width="7" stroke-linejoin="round" stroke-linecap="round"/>
<path d="M165.2,2219.2 L165.6,2217.1 L166.1,2214.8 L166.5,2212.3 L167.0,2209.7 L167.4,2207.1 L167.9,2204.6 L168.3,2202.3 L168.7,2200.2 L169.2,2198.4 L169.6,2197.1 L170.0,2196.2 L170.4,2195.9 L170.9,2196.6 L171.4,2198.6 L171.6,2200.1 L171.8,2201.6 L172.1,2203.5 L172.3,2205.4 L172.5,2207.5 L172.8,2209.6 L172.9,2211.1 L173.1,2212.6 L173.2,2214.1 L173.4,2215.6 L173.5,2217.1 L173.6,2218.6 L173.9,2220.7 L174.1,2222.8 L174.3,2224.7 L174.5,2226.6 L174.9,2229.5 L175.2,2231.5 L175.6,2232.2 L176.1,2231.2 L176.5,2228.5 L176.7,2226.4 L176.9,2224.3 L177.0,2222.4 L177.1,2220.6 L177.2,2218.8 L177.3,2217.2 L177.4,2215.5 L177.5,2213.9 L177.6,2212.3 L177.7,2210.5 L177.7,2208.7 L177.8,2206.9 L177.9,2205.1 L177.9,2203.5 L178.0,2202.0 L178.1,2200.4 L178.1,2198.9 L178.2,2197.3 L178.2,2195.7 L178.3,2194.1 L178.3,2192.5 L178.4,2190.9 L178.4,2189.3 L178.5,2187.7 L178.6,2186.1 L178.6,2184.5 L178.7,2182.9 L178.7,2181.2 L178.8,2179.7 L178.8,2178.1 L178.9,2176.6 L178.9,2175.0 L179.0,2173.4 L179.0,2171.6 L179.1,2169.8 L179.2,2167.9 L179.2,2166.1 L179.3,2164.5 L179.4,2162.8 L179.4,2161.2 L179.5,2159.5 L179.6,2157.9 L179.6,2156.3 L179.7,2154.7 L179.8,2153.1 L179.8,2151.5 L179.9,2149.9 L180.0,2148.3 L180.0,2146.7 L180.1,2145.1 L180.1,2143.5 L180.2,2141.9 L180.3,2140.3 L180.3,2138.7 L180.4,2137.0 L180.4,2135.4 L180.5,2133.8 L180.6,2132.2 L180.6,2130.6 L180.7,2129.0 L180.7,2127.3 L180.8,2125.7 L180.8,2124.1 L180.9,2122.5 L180.9,2120.9 L181.0,2119.2 L181.0,2117.6 L181.1,2116.0 L181.1,2114.3 L181.2,2112.7 L181.2,2111.1 L181.3,2109.5 L181.3,2107.8 L181.4,2106.2 L181.4,2104.6 L181.5,2102.9 L181.5,2101.3 L181.6,2099.7 L181.6,2098.0 L181.7,2096.4 L181.7,2094.8 L181.8,2093.1 L181.8,2091.5 L181.9,2089.9 L181.9,2088.2 L182.0,2086.6 L182.0,2085.0 L182.1,2083.3 L182.1,2081.7 L182.1,2079.9 L182.2,2078.1 L182.2,2076.3 L182.3,2074.5 L182.3,2072.9 L182.3,2071.3 L182.4,2069.7 L182.4,2068.1 L182.4,2066.5 L182.5,2064.8 L182.5,2063.1 L182.5,2061.3 L182.5,2059.6 L182.6,2057.9 L182.6,2056.1 L182.6,2054.3 L182.7,2052.6 L182.7,2050.8 L182.7,2049.0 L182.7,2047.2 L182.8,2045.4 L182.8,2043.7 L182.8,2041.9 L182.8,2040.1 L182.9,2038.4 L182.9,2036.7 L182.9,2034.9 L182.9,2033.2 L183.0,2031.5 L183.0,2029.9 L183.0,2028.2 L183.0,2026.6 L183.1,2025.0 L183.1,2023.4 L183.1,2021.6 L183.1,2019.8 L183.2,2018.0 L183.2,2016.2 L183.2,2014.6 L183.3,2013.1 L183.3,2011.6 L183.4,2010.0 L183.4,2008.5 L183.5,2006.9 L183.5,2005.3 L183.6,2003.8 L183.7,2002.3 L183.9,2001.2 L184.1,2002.2 L184.4,2005.2 L184.5,2006.7 L184.6,2008.2 L184.6,2009.8 L184.7,2011.7 L184.8,2013.7 L184.9,2015.7 L185.0,2017.5 L185.1,2019.3 L185.1,2021.0 L185.2,2022.8 L185.3,2024.4 L185.3,2026.0 L185.4,2027.6 L185.4,2029.2 L185.5,2030.7 L185.6,2032.5 L185.6,2034.2 L185.7,2035.9 L185.7,2037.6 L185.8,2039.3 L185.9,2041.1 L185.9,2042.8 L186.0,2044.6 L186.1,2046.4 L186.1,2048.1 L186.2,2049.9 L186.2,2051.7 L186.3,2053.5 L186.4,2055.3 L186.4,2057.1 L186.5,2058.8 L186.5,2060.6 L186.6,2062.3 L186.7,2064.1 L186.7,2065.8 L186.8,2067.5 L186.8,2069.1 L186.9,2070.8 L187.0,2072.5 L187.0,2074.1 L187.1,2075.6 L187.1,2077.2 L187.2,2078.7 L187.2,2080.2 L187.3,2081.7 L187.4,2083.3 L187.4,2085.0 L187.5,2086.6 L187.6,2088.3 L187.6,2089.9 L187.7,2091.6 L187.7,2093.2 L187.8,2094.9 L187.9,2096.6 L187.9,2098.2 L188.0,2099.9 L188.0,2101.6 L188.1,2103.3 L188.2,2105.0 L188.2,2106.7 L188.3,2108.4 L188.3,2110.2 L188.4,2111.9 L188.5,2113.6 L188.5,2115.3 L188.6,2117.1 L188.6,2118.8 L188.7,2120.5 L188.8,2122.3 L188.8,2124.0 L188.9,2125.8 L188.9,2127.5 L189.0,2129.3 L189.1,2131.0 L189.1,2132.8 L189.2,2134.5 L189.2,2136.3 L189.3,2138.1 L189.4,2139.8 L189.4,2141.6 L189.5,2143.4 L189.5,2145.1 L189.6,2146.9 L189.7,2148.6 L189.7,2150.4 L189.8,2152.2 L189.9,2153.9 L189.9,2155.7 L190.0,2157.5 L190.1,2159.2 L190.1,2161.0 L190.2,2162.8 L190.3,2164.5 L190.3,2166.3 L190.4,2168.0 L190.5,2169.8 L190.5,2171.6 L190.6,2173.3 L190.7,2175.1 L190.7,2176.8 L190.8,2178.5 L190.9,2180.3 L191.0,2182.0 L191.0,2183.8 L191.1,2185.5 L191.2,2187.2 L191.2,2189.0 L191.3,2190.7 L191.4,2192.5 L191.5,2194.2 L191.5,2196.0 L191.6,2197.8 L191.7,2199.5 L191.8,2201.3 L191.8,2203.1 L191.9,2204.9 L192.0,2206.7 L192.0,2208.4 L192.1,2210.2 L192.2,2212.0 L192.3,2213.8 L192.3,2215.6 L192.4,2217.4 L192.5,2219.2 L192.5,2221.0 L192.6,2222.8 L192.7,2224.6 L192.8,2226.4 L192.8,2228.2 L192.9,2230.0 L193.0,2231.8 L193.1,2233.6 L193.1,2235.4 L193.2,2237.1 L193.3,2238.9 L193.4,2240.7 L193.5,2242.5 L193.5,2244.2 L193.6,2246.0 L193.7,2247.8 L193.8,2249.5 L193.9,2251.3 L194.0,2253.0 L194.0,2254.8 L194.1,2256.5 L194.2,2258.2 L194.3,2259.9 L194.4,2261.7 L194.5,2263.4 L194.6,2265.1 L194.7,2266.7 L194.8,2268.4 L194.9,2270.1 L195.0,2271.7 L195.1,2273.4 L195.2,2275.0 L195.3,2276.7 L195.5,2278.3 L195.6,2279.9 L195.7,2281.5 L195.8,2283.1 L195.9,2284.6 L196.1,2286.2 L196.2,2287.7 L196.3,2289.3 L196.4,2290.8 L196.6,2292.3 L196.7,2293.8 L196.8,2295.3 L197.0,2296.8 L197.1,2298.3 L197.2,2299.9 L197.4,2301.4 L197.5,2303.3 L197.7,2305.3 L197.9,2307.3 L198.1,2309.3 L198.3,2311.2 L198.5,2313.2 L198.7,2315.1 L198.9,2317.0 L199.1,2319.0 L199.3,2320.8 L199.5,2322.7 L199.7,2324.6 L199.9,2326.4 L200.1,2328.2 L200.3,2330.1 L200.5,2331.8 L200.8,2333.6 L201.0,2335.4 L201.2,2337.1 L201.5,2338.7 L201.7,2340.4 L202.0,2342.1 L202.2,2343.7 L202.5,2345.3 L202.7,2346.8 L203.0,2348.4 L203.3,2349.9 L203.7,2352.0 L204.1,2354.2 L204.7,2356.8 L205.2,2359.4 L205.8,2361.9 L206.3,2364.4 L206.9,2366.7 L207.5,2369.0 L208.2,2371.1 L208.8,2373.2 L209.5,2375.1 L210.3,2376.9 L211.1,2378.6 L211.9,2380.1 L212.8,2381.5 L213.8,2383.0 L214.8,2384.4 L215.8,2385.6 L216.9,2386.7 L217.9,2387.5 L218.8,2387.9 L219.7,2387.9 L220.6,2387.3 L221.5,2386.0 L222.3,2384.2 L223.0,2381.9 L223.6,2379.2 L224.0,2377.7 L224.3,2376.2 L224.6,2374.5 L224.9,2372.8 L225.1,2371.0 L225.4,2369.2 L225.7,2367.4 L225.9,2365.5 L226.2,2363.6 L226.5,2361.7 L226.7,2359.8 L227.0,2357.9 L227.2,2356.1 L227.5,2354.2 L227.7,2352.4 L227.9,2350.5 L228.2,2348.7 L228.4,2346.8 L228.6,2345.1 L228.7,2343.5 L228.9,2341.8 L229.0,2340.1 L229.2,2338.4 L229.3,2336.8 L229.4,2335.3 L229.5,2333.7 L229.6,2332.2 L229.7,2330.6 L229.8,2329.1 L229.9,2327.4 L230.0,2325.8 L230.1,2324.1 L230.2,2322.4 L230.3,2320.8 L230.4,2319.1 L230.5,2317.6 L230.6,2316.1 L230.6,2314.6 L230.7,2313.1 L230.8,2311.6 L230.9,2310.1 L230.9,2308.6 L231.0,2307.1 L231.1,2305.5 L231.1,2304.0 L231.2,2302.4 L231.3,2300.9 L231.3,2299.4 L231.4,2297.8 L231.5,2296.3 L231.5,2294.7 L231.6,2293.1 L231.6,2291.6 L231.7,2290.0 L231.8,2288.5 L231.8,2286.9 L231.9,2285.4 L231.9,2283.8 L232.0,2282.3 L232.0,2280.7 L232.1,2279.2 L232.2,2277.6 L232.2,2276.1 L232.3,2274.6 L232.3,2273.1 L232.4,2271.6 L232.4,2270.1 L232.5,2268.5 L232.6,2267.0 L232.6,2265.5 L232.7,2263.8 L232.8,2262.2 L232.8,2260.5 L232.9,2258.8 L233.0,2257.1 L233.0,2255.4 L233.1,2253.9 L233.2,2252.3 L233.3,2250.7 L233.3,2249.1 L233.4,2247.6 L233.5,2246.0 L233.6,2244.3 L233.7,2242.6 L233.8,2240.8 L233.9,2239.1 L234.0,2237.4 L234.1,2235.9 L234.2,2234.4 L234.3,2232.9 L234.4,2231.3 L234.5,2229.7 L234.6,2228.1 L234.7,2226.5 L234.8,2224.9 L234.9,2223.3 L235.0,2221.6 L235.1,2219.9 L235.2,2218.3 L235.3,2216.6 L235.4,2214.9 L235.4,2213.3 L235.5,2211.6 L235.6,2210.0 L235.7,2208.3 L235.8,2206.7 L235.9,2205.1 L236.0,2203.5 L236.1,2202.0 L236.2,2200.4 L236.3,2198.8 L236.4,2196.9 L236.6,2195.0 L236.7,2193.1 L236.8,2191.4 L237.0,2189.7 L237.1,2188.0 L237.3,2185.9 L237.5,2183.8 L237.7,2182.1 L237.8,2180.5 L238.2,2178.4 L238.6,2177.7 L239.0,2178.4 L239.4,2180.5 L239.5,2182.1 L239.7,2183.7 L239.9,2185.8 L240.1,2187.9 L240.2,2189.6 L240.4,2191.3 L240.5,2192.9 L240.6,2194.8 L240.7,2196.8 L240.9,2198.7 L240.9,2200.2 L241.0,2201.8 L241.1,2203.3 L241.2,2204.9 L241.3,2206.5 L241.4,2208.1 L241.5,2209.7 L241.6,2211.4 L241.7,2213.0 L241.8,2214.7 L241.9,2216.4 L242.0,2218.1 L242.0,2219.7 L242.1,2221.4 L242.2,2223.1 L242.3,2224.7 L242.4,2226.4 L242.5,2228.0 L242.6,2229.6 L242.7,2231.2 L242.7,2232.8 L242.8,2234.3 L242.9,2235.9 L243.0,2237.4 L243.1,2238.9 L243.2,2240.5 L243.2,2242.0 L243.3,2243.5 L243.4,2245.1 L243.5,2246.6 L243.5,2248.3 L243.6,2250.0 L243.7,2251.6 L243.7,2253.3 L243.8,2255.0 L243.9,2256.7 L243.9,2258.2 L244.0,2259.7 L244.0,2261.3 L244.1,2262.8 L244.1,2264.3 L244.2,2265.9 L244.2,2267.4 L244.3,2269.0 L244.3,2270.6 L244.4,2272.2 L244.4,2273.8 L244.5,2275.4 L244.5,2277.0 L244.6,2278.6 L244.6,2280.3 L244.7,2281.9 L244.7,2283.6 L244.8,2285.3 L244.8,2286.9 L244.9,2288.6 L244.9,2290.2 L245.0,2291.9 L245.0,2293.6 L245.1,2295.3 L245.1,2296.9 L245.2,2298.6 L245.2,2300.3 L245.3,2302.0 L245.3,2303.7 L245.4,2305.4 L245.4,2307.0 L245.5,2308.7 L245.5,2310.4 L245.6,2312.1 L245.6,2313.8 L245.7,2315.4 L245.7,2317.1 L245.8,2318.8 L245.9,2320.4 L245.9,2322.1 L246.0,2323.8 L246.0,2325.4 L246.1,2327.0 L246.1,2328.6 L246.2,2330.3 L246.3,2331.9 L246.3,2333.5 L246.4,2335.1 L246.5,2336.7 L246.5,2338.3 L246.6,2339.8 L246.7,2341.4 L246.7,2342.9 L246.8,2344.5 L246.9,2346.0 L247.0,2347.6 L247.1,2349.3 L247.1,2351.0 L247.2,2352.7 L247.3,2354.4 L247.4,2356.1 L247.5,2357.8 L247.6,2359.4 L247.8,2360.9 L247.9,2362.5 L248.0,2364.1 L248.1,2365.6 L248.2,2367.2 L248.3,2368.8 L248.4,2370.4 L248.6,2371.9 L248.7,2373.5 L248.8,2375.1 L248.9,2376.6 L249.0,2378.2 L249.1,2379.7 L249.2,2381.3 L249.4,2382.8 L249.5,2384.3 L249.6,2385.9 L249.7,2387.4 L249.8,2388.9 L249.9,2390.4 L250.0,2391.9 L250.2,2393.8 L250.3,2395.8 L250.5,2397.7 L250.6,2399.6 L250.8,2401.5 L251.0,2403.4 L251.2,2405.2 L251.4,2407.0 L251.6,2408.8 L251.8,2410.6 L252.0,2412.3 L252.2,2414.0 L252.5,2415.7 L252.7,2417.3 L253.0,2419.0 L253.2,2420.5 L253.5,2422.1 L253.8,2423.7 L254.3,2425.8 L254.8,2428.0 L255.4,2430.0 L256.0,2432.0 L256.8,2434.3 L257.6,2436.7 L258.5,2439.0 L259.4,2441.3 L260.3,2443.5 L261.3,2445.5 L262.3,2447.4 L263.3,2449.1 L264.4,2450.5 L265.5,2451.6 L266.6,2452.4 L267.7,2452.8 L268.8,2452.8 L269.9,2452.2 L271.0,2451.4 L272.1,2450.3 L273.3,2449.0 L274.5,2447.6 L275.7,2446.3 L276.9,2445.2 L278.1,2444.3 L279.4,2443.7 L280.8,2443.5 L282.3,2443.7 L283.8,2444.1 L285.4,2444.6 L286.9,2445.1 L288.4,2445.5 L289.9,2445.7 L291.2,2445.6 L292.4,2445.0 L293.8,2443.7 L295.0,2441.8 L296.0,2439.5 L296.8,2436.7 L297.2,2435.2 L297.6,2433.6 L297.9,2431.9 L298.2,2430.2 L298.5,2428.3 L298.8,2426.5 L299.1,2424.6 L299.3,2422.6 L299.6,2420.6 L299.8,2418.6 L300.1,2416.5 L300.3,2414.4 L300.6,2412.4 L300.8,2410.3 L301.1,2408.2 L301.4,2406.1 L301.6,2404.6 L301.8,2403.1 L302.0,2401.5 L302.1,2400.0 L302.3,2398.5 L302.5,2396.8 L302.6,2395.1 L302.8,2393.4 L303.0,2391.7 L303.1,2390.0 L303.2,2388.5 L303.3,2386.9 L303.5,2385.4 L303.6,2383.8 L303.7,2382.3 L303.8,2380.7 L303.9,2379.1 L304.0,2377.4 L304.1,2375.8 L304.2,2374.2 L304.3,2372.5 L304.4,2370.9 L304.5,2369.2 L304.5,2367.4 L304.6,2365.7 L304.7,2364.0 L304.8,2362.3 L304.9,2360.6 L304.9,2359.1 L305.0,2357.6 L305.1,2356.0 L305.1,2354.5 L305.2,2353.0 L305.2,2351.5 L305.3,2350.0 L305.4,2348.5 L305.4,2346.9 L305.5,2345.4 L305.5,2343.9 L305.6,2342.4 L305.7,2340.8 L305.7,2339.3 L305.8,2337.8 L305.8,2336.2 L305.9,2334.7 L305.9,2333.2 L306.0,2331.7 L306.0,2330.1 L306.1,2328.6 L306.2,2327.1 L306.2,2325.6 L306.3,2324.1 L306.3,2322.6 L306.4,2321.1 L306.4,2319.6 L306.5,2318.1 L306.6,2316.4 L306.6,2314.7 L306.7,2313.0 L306.8,2311.3 L306.8,2309.7 L306.9,2308.0 L307.0,2306.4 L307.1,2304.7 L307.1,2303.1 L307.2,2301.5 L307.3,2299.9 L307.4,2298.3 L307.5,2296.8 L307.5,2295.3 L307.6,2293.8 L307.7,2292.3 L307.8,2290.8 L307.9,2289.3 L308.0,2287.5 L308.1,2285.7 L308.2,2283.9 L308.4,2282.1 L308.5,2280.5 L308.6,2279.0 L308.6,2277.4 L308.7,2275.8 L308.8,2274.3 L308.9,2272.6 L309.0,2271.0 L309.1,2269.4 L309.2,2267.8 L309.3,2266.1 L309.4,2264.5 L309.5,2262.8 L309.6,2261.2 L309.7,2259.5 L309.8,2257.9 L309.9,2256.3 L310.0,2254.6 L310.1,2253.0 L310.2,2251.4 L310.3,2249.8 L310.4,2248.2 L310.5,2246.7 L310.6,2245.1 L310.7,2243.5 L310.8,2242.0 L310.9,2240.2 L311.0,2238.4 L311.2,2236.6 L311.3,2234.8 L311.4,2233.2 L311.5,2231.6 L311.6,2230.0 L311.8,2228.4 L311.9,2226.6 L312.1,2224.8 L312.2,2223.0 L312.5,2220.9 L312.7,2218.9 L313.2,2216.2 L313.6,2215.3 L314.0,2216.2 L314.4,2218.9 L314.6,2221.0 L314.8,2223.1 L314.9,2224.9 L315.1,2226.7 L315.2,2228.5 L315.3,2230.2 L315.4,2231.8 L315.5,2233.4 L315.5,2235.0 L315.6,2236.8 L315.7,2238.6 L315.8,2240.5 L315.9,2242.3 L316.0,2243.8 L316.1,2245.4 L316.1,2247.0 L316.2,2248.5 L316.3,2250.1 L316.3,2251.7 L316.4,2253.3 L316.5,2255.0 L316.6,2256.6 L316.6,2258.2 L316.7,2259.9 L316.8,2261.5 L316.9,2263.2 L317.0,2264.8 L317.0,2266.5 L317.1,2268.1 L317.2,2269.7 L317.3,2271.3 L317.3,2272.9 L317.4,2274.5 L317.5,2276.1 L317.6,2277.6 L317.7,2279.1 L317.8,2280.7 L317.9,2282.2 L318.0,2284.0 L318.1,2285.8 L318.2,2287.5 L318.3,2289.3 L318.4,2291.0 L318.5,2292.8 L318.6,2294.5 L318.7,2296.3 L318.9,2298.0 L319.0,2299.7 L319.1,2301.3 L319.2,2303.0 L319.2,2304.7 L319.3,2306.3 L319.4,2308.0 L319.5,2309.5 L319.6,2311.1 L319.7,2312.7 L319.8,2314.2 L319.9,2315.8 L320.0,2317.3 L320.0,2318.9 L320.1,2320.5 L320.2,2322.1 L320.3,2323.8 L320.4,2325.4 L320.5,2327.0 L320.6,2328.6 L320.7,2330.3 L320.8,2331.9 L320.8,2333.6 L320.9,2335.2 L321.0,2336.9 L321.1,2338.5 L321.2,2340.2 L321.3,2341.8 L321.4,2343.4 L321.5,2345.0 L321.6,2346.6 L321.7,2348.2 L321.8,2349.8 L321.9,2351.4 L321.9,2353.1 L322.0,2354.6 L322.1,2356.1 L322.2,2357.6 L322.3,2359.1 L322.4,2360.6 L322.5,2362.1 L322.6,2363.7 L322.7,2365.2 L322.8,2366.8 L323.0,2368.4 L323.1,2370.0 L323.2,2371.6 L323.3,2373.2 L323.4,2374.8 L323.6,2376.4 L323.7,2378.1 L323.8,2379.7 L324.0,2381.3 L324.2,2382.9 L324.3,2384.4 L324.5,2386.0 L324.7,2387.6 L325.0,2389.6 L325.4,2391.6 L326.1,2393.1 L326.6,2392.5 L327.2,2390.8 L327.7,2388.1 L328.0,2386.4 L328.3,2384.6 L328.5,2382.5 L328.8,2380.4 L329.0,2378.7 L329.2,2377.1 L329.4,2375.5 L329.6,2373.7 L329.8,2372.0 L330.0,2370.2 L330.1,2368.3 L330.3,2366.4 L330.5,2364.6 L330.7,2362.6 L330.9,2360.7 L331.1,2358.7 L331.2,2356.7 L331.4,2354.7 L331.6,2352.8 L331.8,2350.8 L331.9,2348.9 L332.1,2346.9 L332.3,2345.0 L332.4,2343.1 L332.6,2341.2 L332.7,2339.5 L332.8,2337.9 L333.0,2336.2 L333.1,2334.6 L333.2,2332.9 L333.3,2331.3 L333.4,2329.6 L333.5,2328.0 L333.6,2326.4 L333.7,2324.8 L333.8,2323.2 L333.8,2321.6 L333.9,2320.0 L334.0,2318.3 L334.1,2316.7 L334.2,2315.1 L334.3,2313.6 L334.3,2312.1 L334.4,2310.6 L334.5,2309.1 L334.5,2307.6 L334.6,2306.1 L334.6,2304.6 L334.7,2303.0 L334.8,2301.5 L334.8,2300.0 L334.9,2298.5 L335.0,2297.0 L335.0,2295.5 L335.1,2294.0 L335.1,2292.5 L335.2,2291.0 L335.2,2289.5 L335.3,2288.0 L335.4,2286.5 L335.4,2285.0 L335.5,2283.5 L335.5,2282.0 L335.6,2280.5 L335.6,2279.0 L335.7,2277.4 L335.7,2275.9 L335.8,2274.3 L335.9,2272.7 L335.9,2271.2 L336.0,2269.6 L336.0,2268.1 L336.1,2266.5 L336.1,2265.0 L336.2,2263.4 L336.2,2261.9 L336.3,2260.3 L336.3,2258.8 L336.4,2257.2 L336.4,2255.7 L336.5,2254.1 L336.5,2252.6 L336.6,2251.0 L336.6,2249.5 L336.7,2247.9 L336.7,2246.4 L336.8,2244.8 L336.9,2243.3 L336.9,2241.7 L337.0,2240.1 L337.0,2238.4 L337.1,2236.8 L337.1,2235.2 L337.2,2233.6 L337.2,2232.0 L337.3,2230.4 L337.3,2228.8 L337.4,2227.2 L337.5,2225.5 L337.5,2223.9 L337.6,2222.3 L337.6,2220.7 L337.7,2219.1 L337.7,2217.4 L337.8,2215.8 L337.9,2214.2 L337.9,2212.6 L338.0,2211.0 L338.0,2209.4 L338.1,2207.8 L338.2,2206.3 L338.2,2204.7 L338.3,2203.2 L338.4,2201.6 L338.4,2200.1 L338.5,2198.6 L338.6,2197.0 L338.6,2195.5 L338.7,2193.9 L338.8,2192.4 L338.9,2190.8 L339.0,2189.3 L339.0,2187.7 L339.1,2186.2 L339.2,2184.7 L339.3,2182.9 L339.5,2181.1 L339.6,2179.4 L339.8,2177.6 L340.4,2175.1 L340.8,2176.2 L341.1,2177.8 L341.3,2179.4 L341.4,2181.0 L341.6,2182.7 L341.7,2184.4 L341.8,2186.0 L341.9,2187.6 L342.1,2189.2 L342.2,2190.8 L342.2,2192.4 L342.3,2193.9 L342.4,2195.4 L342.5,2197.0 L342.6,2198.5 L342.7,2200.2 L342.8,2202.0 L342.8,2203.7 L342.9,2205.4 L343.0,2207.1 L343.1,2208.7 L343.2,2210.3 L343.2,2211.8 L343.3,2213.4 L343.4,2214.9 L343.4,2216.5 L343.5,2218.1 L343.6,2219.7 L343.7,2221.3 L343.7,2222.9 L343.8,2224.6 L343.9,2226.2 L343.9,2227.8 L344.0,2229.4 L344.1,2231.1 L344.2,2232.7 L344.2,2234.4 L344.3,2236.0 L344.4,2237.6 L344.4,2239.2 L344.5,2240.8 L344.6,2242.4 L344.7,2244.0 L344.7,2245.7 L344.8,2247.2 L344.9,2248.7 L344.9,2250.3 L345.0,2251.8 L345.1,2253.3 L345.2,2254.9 L345.3,2256.6 L345.3,2258.3 L345.4,2260.0 L345.5,2261.7 L345.6,2263.4 L345.7,2265.1 L345.8,2266.8 L345.8,2268.4 L345.9,2270.1 L346.0,2271.8 L346.1,2273.5 L346.2,2275.0 L346.2,2276.5 L346.3,2278.1 L346.3,2279.6 L346.4,2281.1 L346.5,2282.6 L346.5,2284.2 L346.6,2285.7 L346.7,2287.3 L346.7,2288.9 L346.8,2290.5 L346.8,2292.1 L346.9,2293.7 L346.9,2295.3 L347.0,2296.9 L347.1,2298.5 L347.1,2300.1 L347.2,2301.8 L347.2,2303.4 L347.3,2305.0 L347.3,2306.7 L347.4,2308.3 L347.4,2310.0 L347.5,2311.6 L347.6,2313.3 L347.6,2314.9 L347.7,2316.6 L347.7,2318.2 L347.8,2319.9 L347.8,2321.5 L347.9,2323.2 L348.0,2324.9 L348.0,2326.5 L348.1,2328.2 L348.1,2329.8 L348.2,2331.5 L348.3,2333.1 L348.3,2334.8 L348.4,2336.4 L348.5,2338.1 L348.5,2339.7 L348.6,2341.4 L348.7,2343.0 L348.7,2344.6 L348.8,2346.2 L348.9,2347.8 L348.9,2349.4 L349.0,2351.1 L349.1,2352.7 L349.2,2354.2 L349.3,2355.8 L349.3,2357.4 L349.4,2358.9 L349.5,2360.5 L349.6,2362.1 L349.7,2363.6 L349.8,2365.4 L349.9,2367.1 L350.0,2368.9 L350.1,2370.6 L350.2,2372.4 L350.3,2374.1 L350.5,2375.7 L350.6,2377.4 L350.7,2379.0 L350.8,2380.7 L351.0,2382.3 L351.1,2384.0 L351.2,2385.5 L351.4,2387.0 L351.5,2388.5 L351.7,2390.1 L351.8,2391.6 L352.0,2393.1 L352.2,2395.1 L352.4,2397.0 L352.7,2399.0 L352.9,2401.0 L353.1,2402.9 L353.3,2404.8 L353.5,2406.7 L353.7,2408.6 L353.9,2410.5 L354.2,2412.4 L354.4,2414.3 L354.6,2416.1 L354.8,2417.9 L355.1,2419.7 L355.3,2421.5 L355.5,2423.3 L355.8,2425.0 L356.0,2426.7 L356.3,2428.4 L356.6,2430.1 L356.8,2431.7 L357.1,2433.3 L357.4,2434.9 L357.7,2436.5 L358.1,2438.0 L358.4,2439.5 L358.7,2441.0 L359.3,2443.1 L359.8,2445.3 L360.4,2447.2 L361.0,2449.2 L361.7,2451.0 L362.4,2452.8 L363.3,2454.8 L364.2,2456.8 L365.1,2458.6 L366.1,2460.3 L367.1,2461.9 L368.2,2463.5 L369.2,2464.9 L370.4,2466.3 L371.6,2467.6 L372.8,2468.8 L374.1,2469.9 L375.4,2471.0 L376.7,2471.9 L378.0,2472.7 L379.4,2473.4 L380.9,2474.0 L382.4,2474.6 L383.9,2475.1 L385.5,2475.5 L387.0,2475.9 L388.6,2476.3 L390.3,2476.7 L391.9,2477.1 L393.6,2477.5 L395.6,2478.0 L397.7,2478.4 L399.8,2478.8 L402.0,2479.1 L404.2,2479.5 L406.4,2479.8 L408.7,2480.1 L410.9,2480.3 L413.1,2480.6 L415.3,2480.9 L417.4,2481.1 L419.5,2481.4 L421.3,2481.7 L423.1,2481.9 L424.8,2482.2 L426.5,2482.4 L428.2,2482.7 L429.9,2482.9 L431.6,2483.2 L433.3,2483.4 L434.9,2483.5 L436.6,2483.7 L438.3,2483.8 L440.0,2483.9 L441.7,2483.9 L443.4,2484.0 L445.0,2484.0 L446.7,2484.0 L448.3,2483.9 L450.0,2483.8 L451.6,2483.7 L453.3,2483.6 L455.0,2483.5 L456.8,2483.3 L458.6,2483.1 L460.4,2482.9 L462.8,2482.6 L465.3,2482.2 L467.9,2481.8 L470.5,2481.3 L473.2,2480.8 L476.0,2480.3 L478.7,2479.7 L481.3,2479.1 L483.9,2478.5 L486.4,2477.9 L488.8,2477.3 L491.0,2476.7 L492.6,2476.2 L494.1,2475.8 L495.5,2475.3 L496.9,2474.8 L498.3,2474.3 L499.7,2473.8 L501.0,2473.3 L502.3,2472.7 L503.5,2472.2 L504.8,2471.7 L506.1,2471.1 L507.3,2470.6 L508.6,2470.0 L509.9,2469.2 L511.1,2468.4 L512.4,2467.6 L513.6,2466.8 L514.8,2466.1 L516.0,2465.5 L517.2,2464.9 L518.4,2464.6 L519.6,2464.5 L520.8,2464.7 L522.1,2465.1 L523.3,2465.8 L524.5,2466.6 L525.8,2467.5 L527.0,2468.4 L528.2,2469.2 L529.4,2469.9 L530.6,2470.4 L531.8,2470.6 L533.1,2470.6 L534.5,2470.4 L535.8,2470.1 L537.2,2469.7 L538.5,2469.1 L539.7,2468.3 L540.9,2467.5 L542.0,2466.5 L542.9,2465.4 L543.8,2464.1 L544.6,2462.7 L545.3,2461.1 L546.0,2459.5 L546.7,2457.7 L547.3,2455.8 L547.9,2453.9 L548.5,2451.9 L549.0,2450.0 L549.6,2448.0 L550.2,2446.1 L550.9,2443.7 L551.5,2441.1 L552.0,2438.4 L552.5,2435.6 L553.0,2432.8 L553.5,2429.9 L554.0,2427.1 L554.6,2424.4 L555.1,2421.8 L555.8,2419.5 L556.5,2417.3 L557.3,2415.5 L558.1,2414.0 L558.9,2412.6 L559.7,2411.3 L560.5,2410.1 L561.4,2409.1 L562.4,2408.3 L563.4,2407.7 L564.5,2407.3 L565.5,2407.3 L566.6,2407.7 L567.8,2408.3 L569.0,2409.1 L570.2,2410.0 L571.5,2411.0 L572.8,2411.9 L574.1,2412.6 L575.4,2413.2 L576.7,2413.5 L578.1,2413.6 L579.5,2413.5 L581.0,2413.4 L582.6,2413.2 L584.1,2412.8 L585.6,2412.4 L587.1,2411.8 L588.5,2411.1 L589.8,2410.3 L591.0,2409.4 L592.1,2408.3 L593.2,2407.0 L594.2,2405.6 L595.1,2404.0 L596.0,2402.3 L596.8,2400.5 L597.6,2398.7 L598.3,2396.7 L599.0,2394.8 L599.8,2392.8 L600.5,2390.9 L601.2,2389.0 L602.0,2386.8 L602.8,2384.5 L603.6,2382.1 L604.4,2379.6 L605.2,2377.1 L605.9,2374.6 L606.6,2372.1 L607.2,2369.6 L607.8,2367.2 L608.4,2364.8 L608.9,2362.6 L609.4,2360.4 L609.7,2358.9 L610.0,2357.5 L610.3,2356.2 L610.5,2355.0 L610.7,2353.8 L610.9,2352.6 L611.0,2351.3 L611.2,2350.0 L611.4,2348.6 L611.6,2347.0 L611.8,2345.3 L612.0,2343.3 L612.2,2341.7 L612.3,2340.1 L612.5,2338.5 L612.7,2336.9 L612.8,2335.3 L613.0,2333.8 L613.1,2332.2 L613.3,2330.6 L613.4,2329.1 L613.5,2327.6 L613.7,2326.0 L613.8,2324.5 L613.9,2323.0 L614.0,2321.5 L614.2,2320.0 L614.3,2318.3 L614.4,2316.7 L614.6,2315.0 L614.7,2313.3 L614.9,2311.7 L615.0,2310.0 L615.1,2308.4 L615.2,2306.9 L615.3,2305.3 L615.5,2303.8 L615.6,2302.2 L615.7,2300.7 L615.8,2299.1 L615.9,2297.5 L616.1,2295.9 L616.2,2294.2 L616.3,2292.6 L616.4,2290.9 L616.6,2289.3 L616.7,2287.7 L616.8,2286.0 L616.9,2284.3 L617.0,2282.6 L617.2,2280.9 L617.3,2279.2 L617.4,2277.5 L617.5,2275.8 L617.6,2274.3 L617.7,2272.8 L617.8,2271.3 L617.9,2269.8 L618.1,2268.3 L618.2,2266.8 L618.3,2265.3 L618.4,2263.7 L618.5,2262.2 L618.6,2260.7 L618.7,2259.2 L618.8,2257.7 L618.9,2256.2 L619.0,2254.7 L619.1,2253.2 L619.2,2251.7 L619.3,2250.0 L619.4,2248.3 L619.5,2246.6 L619.6,2244.9 L619.7,2243.2 L619.9,2241.5 L620.0,2239.8 L620.1,2238.2 L620.2,2236.5 L620.3,2234.9 L620.4,2233.3 L620.5,2231.6 L620.6,2230.0 L620.7,2228.4 L620.8,2226.8 L620.9,2225.3 L621.0,2223.7 L621.1,2222.2 L621.2,2220.6 L621.3,2219.1 L621.4,2217.5 L621.5,2215.8 L621.6,2214.0 L621.7,2212.3 L621.8,2210.5 L621.9,2208.8 L622.0,2207.1 L622.1,2205.3 L622.3,2203.6 L622.4,2201.9 L622.5,2200.2 L622.6,2198.4 L622.7,2196.7 L622.8,2195.0 L622.9,2193.3 L623.0,2191.5 L623.1,2189.8 L623.2,2188.1 L623.3,2186.4 L623.4,2184.7 L623.5,2183.0 L623.6,2181.2 L623.7,2179.5 L623.8,2177.8 L623.8,2176.1 L623.9,2174.4 L624.0,2172.7 L624.1,2170.9 L624.2,2169.2 L624.3,2167.5 L624.4,2165.8 L624.5,2164.1 L624.6,2162.4 L624.7,2160.6 L624.8,2158.9 L624.9,2157.2 L624.9,2155.5 L625.0,2153.8 L625.1,2152.0 L625.2,2150.3 L625.3,2148.6 L625.4,2146.8 L625.5,2145.1 L625.5,2143.4 L625.6,2141.6 L625.7,2139.9 L625.8,2138.2 L625.9,2136.4 L626.0,2134.7 L626.0,2133.2 L626.1,2131.7 L626.2,2130.2 L626.2,2128.7 L626.3,2127.2 L626.4,2125.6 L626.4,2124.1 L626.5,2122.6 L626.6,2121.1 L626.6,2119.6 L626.7,2118.1 L626.7,2116.5 L626.8,2115.0 L626.9,2113.5 L626.9,2111.9 L627.0,2110.4 L627.1,2108.9 L627.1,2107.3 L627.2,2105.8 L627.2,2104.2 L627.3,2102.7 L627.4,2101.1 L627.4,2099.5 L627.5,2098.0 L627.5,2096.4 L627.6,2094.8 L627.6,2093.3 L627.7,2091.7 L627.8,2090.1 L627.8,2088.6 L627.9,2087.0 L627.9,2085.5 L628.0,2083.9 L628.0,2082.3 L628.1,2080.8 L628.1,2079.2 L628.2,2077.6 L628.2,2076.0 L628.2,2074.5 L628.3,2072.9 L628.3,2071.3 L628.4,2069.7 L628.4,2068.1 L628.5,2066.5 L628.5,2064.9 L628.5,2063.3 L628.6,2061.7 L628.6,2060.1 L628.7,2058.5 L628.7,2056.9 L628.7,2055.2 L628.8,2053.6 L628.8,2052.0 L628.9,2050.4 L628.9,2048.7 L628.9,2047.1 L629.0,2045.5 L629.0,2043.9 L629.0,2042.2 L629.1,2040.6 L629.1,2039.0 L629.1,2037.3 L629.2,2035.7 L629.2,2034.0 L629.2,2032.4 L629.3,2030.7 L629.3,2029.1 L629.3,2027.4 L629.4,2025.8 L629.4,2024.1 L629.4,2022.5 L629.4,2020.8 L629.5,2019.2 L629.5,2017.5 L629.5,2015.9 L629.6,2014.2 L629.6,2012.5 L629.6,2010.9 L629.6,2009.2 L629.7,2007.5 L629.7,2005.9 L629.7,2004.2 L629.8,2002.6 L629.8,2000.9 L629.8,1999.2 L629.8,1997.6 L629.9,1995.9 L629.9,1994.2 L629.9,1992.6 L629.9,1990.9 L630.0,1989.2 L630.0,1987.6 L630.0,1985.9 L630.0,1984.2 L630.1,1982.6 L630.1,1980.9 L630.1,1979.2 L630.1,1977.6 L630.2,1975.9 L630.2,1974.2 L630.2,1972.6 L630.3,1970.9 L630.3,1969.2 L630.3,1967.6 L630.3,1965.9 L630.4,1964.2 L630.4,1962.6 L630.4,1960.9 L630.4,1959.3 L630.5,1957.6 L630.5,1955.9 L630.5,1954.3 L630.6,1952.6 L630.6,1951.0 L630.6,1949.3 L630.6,1947.7 L630.7,1946.0 L630.7,1944.4 L630.7,1942.7 L630.8,1941.1 L630.8,1939.4 L630.8,1937.8 L630.9,1936.1 L630.9,1934.5 L630.9,1932.8 L631.0,1931.2 L631.0,1929.5 L631.0,1927.8 L631.1,1926.2 L631.1,1924.5 L631.1,1922.8 L631.2,1921.2 L631.2,1919.6 L631.2,1918.1 L631.2,1916.6 L631.3,1915.1 L631.3,1913.6 L631.3,1912.0 L631.3,1910.5 L631.4,1909.0 L631.4,1907.5 L631.4,1905.9 L631.4,1904.4 L631.5,1902.8 L631.5,1901.3 L631.5,1899.7 L631.5,1898.2 L631.6,1896.6 L631.6,1895.1 L631.6,1893.5 L631.7,1892.0 L631.7,1890.4 L631.7,1888.8 L631.7,1887.3 L631.8,1885.7 L631.8,1884.1 L631.8,1882.6 L631.8,1881.0 L631.9,1879.4 L631.9,1877.9 L631.9,1876.3 L631.9,1874.8 L632.0,1873.2 L632.0,1871.6 L632.0,1870.1 L632.0,1868.5 L632.1,1866.9 L632.1,1865.4 L632.1,1863.8 L632.1,1862.3 L632.2,1860.7 L632.2,1859.2 L632.2,1857.6 L632.2,1856.1 L632.3,1854.5 L632.3,1853.0 L632.3,1851.4 L632.3,1849.9 L632.4,1848.4 L632.4,1846.9 L632.4,1845.3 L632.4,1843.8 L632.5,1842.3 L632.5,1840.8 L632.5,1839.2 L632.5,1837.7 L632.6,1836.1 L632.6,1834.4 L632.6,1832.7 L632.7,1831.1 L632.7,1829.4 L632.7,1827.7 L632.8,1826.0 L632.8,1824.4 L632.8,1822.8 L632.9,1821.2 L632.9,1819.6 L632.9,1818.0 L633.0,1816.4 L633.0,1814.8 L633.0,1813.1 L633.1,1811.5 L633.1,1810.0 L633.1,1808.5 L633.2,1807.0 L633.2,1805.4 L633.2,1803.9 L633.3,1802.4 L633.3,1800.8 L633.3,1799.3 L633.4,1797.7 L633.4,1796.0 L633.5,1794.4 L633.5,1792.7 L633.6,1791.1 L633.6,1789.5 L633.7,1787.8 L633.7,1786.3 L633.8,1784.8 L633.8,1783.3 L633.9,1781.8 L633.9,1780.2 L634.0,1778.7 L634.0,1777.2 L634.1,1775.6 L634.1,1774.1 L634.2,1772.5 L634.2,1771.0 L634.3,1769.0 L634.4,1767.1 L634.5,1765.1 L634.6,1763.3 L634.6,1761.5 L634.7,1759.6 L634.8,1757.9 L634.9,1756.1 L635.0,1754.4 L635.1,1752.7 L635.2,1751.0 L635.2,1749.3 L635.3,1747.7 L635.4,1746.0 L635.5,1744.4 L635.6,1742.8 L635.7,1741.1 L635.8,1739.5 L635.9,1737.9 L636.0,1736.3 L636.1,1734.7 L636.2,1733.1 L636.2,1731.4 L636.3,1729.8 L636.4,1728.1 L636.5,1726.5 L636.6,1724.8 L636.7,1723.1 L636.8,1721.4 L636.9,1719.7 L637.0,1717.9 L637.1,1716.1 L637.2,1714.3 L637.3,1712.6 L637.4,1711.0 L637.4,1709.3 L637.5,1707.7 L637.6,1706.2 L637.7,1704.7 L637.7,1703.2 L637.8,1701.7 L637.9,1700.2 L637.9,1698.5 L638.0,1696.9 L638.1,1695.3 L638.1,1693.7 L638.2,1692.0 L638.3,1690.3 L638.3,1688.7 L638.4,1687.0 L638.5,1685.3 L638.5,1683.6 L638.6,1681.9 L638.7,1680.2 L638.7,1678.5 L638.8,1676.8 L638.9,1675.1 L639.0,1673.4 L639.0,1671.7 L639.1,1670.1 L639.2,1668.4 L639.2,1666.8 L639.3,1665.2 L639.4,1663.7 L639.4,1662.1 L639.5,1660.6 L639.6,1659.0 L639.7,1657.2 L639.8,1655.5 L639.9,1653.8 L639.9,1652.0 L640.1,1650.0 L640.2,1648.1 L640.3,1646.1 L640.4,1644.6 L640.5,1643.0 L640.6,1641.5 L641.0,1638.5 L641.3,1637.5 L641.6,1638.5 L641.9,1641.3 L642.1,1643.5 L642.3,1645.7 L642.4,1647.6 L642.5,1649.5 L642.6,1651.4 L642.7,1653.1 L642.8,1654.8 L642.8,1656.5 L642.9,1658.2 L643.0,1659.7 L643.0,1661.2 L643.1,1662.8 L643.2,1664.3 L643.2,1665.8 L643.3,1667.4 L643.3,1669.1 L643.4,1670.7 L643.5,1672.3 L643.5,1674.0 L643.6,1675.7 L643.7,1677.3 L643.7,1679.0 L643.8,1680.7 L643.8,1682.4 L643.9,1684.1 L644.0,1685.8 L644.0,1687.5 L644.1,1689.2 L644.1,1690.9 L644.2,1692.6 L644.3,1694.3 L644.3,1695.9 L644.4,1697.6 L644.4,1699.3 L644.5,1700.8 L644.5,1702.4 L644.6,1704.0 L644.7,1705.6 L644.7,1707.1 L644.8,1708.9 L644.9,1710.7 L644.9,1712.5 L645.0,1714.3 L645.1,1716.2 L645.2,1718.0 L645.2,1719.9 L645.3,1721.8 L645.4,1723.3 L645.4,1724.8 L645.5,1726.3 L645.5,1727.8 L645.6,1729.3 L645.7,1730.8 L645.7,1732.3 L645.8,1733.9 L645.8,1735.4 L645.9,1736.9 L645.9,1738.4 L646.0,1740.0 L646.0,1741.5 L646.1,1743.0 L646.2,1744.5 L646.2,1746.1 L646.3,1747.6 L646.3,1749.2 L646.4,1750.7 L646.4,1752.3 L646.5,1753.8 L646.5,1755.4 L646.6,1756.9 L646.6,1758.5 L646.7,1760.0 L646.7,1761.6 L646.8,1763.2 L646.8,1764.8 L646.9,1766.3 L646.9,1767.9 L647.0,1769.5 L647.1,1771.1 L647.1,1772.7 L647.2,1774.3 L647.2,1775.9 L647.3,1777.5 L647.3,1779.1 L647.4,1780.7 L647.4,1782.3 L647.5,1783.9 L647.5,1785.5 L647.6,1787.2 L647.6,1788.8 L647.7,1790.4 L647.7,1792.1 L647.8,1793.7 L647.8,1795.4 L647.9,1797.0 L647.9,1798.7 L648.0,1800.3 L648.0,1802.0 L648.1,1803.7 L648.1,1805.4 L648.2,1807.0 L648.2,1808.7 L648.2,1810.3 L648.3,1812.0 L648.3,1813.6 L648.4,1815.2 L648.4,1816.9 L648.5,1818.5 L648.5,1820.2 L648.6,1821.8 L648.6,1823.5 L648.7,1825.1 L648.7,1826.8 L648.8,1828.5 L648.8,1830.1 L648.8,1831.8 L648.9,1833.5 L648.9,1835.2 L649.0,1836.9 L649.0,1838.6 L649.1,1840.3 L649.1,1842.0 L649.2,1843.7 L649.2,1845.4 L649.2,1847.1 L649.3,1848.8 L649.3,1850.5 L649.4,1852.2 L649.4,1854.0 L649.5,1855.7 L649.5,1857.4 L649.5,1859.1 L649.6,1860.9 L649.6,1862.6 L649.7,1864.4 L649.7,1866.1 L649.8,1867.9 L649.8,1869.6 L649.8,1871.1 L649.9,1872.6 L649.9,1874.1 L649.9,1875.6 L650.0,1877.2 L650.0,1878.7 L650.1,1880.2 L650.1,1881.7 L650.1,1883.2 L650.2,1884.8 L650.2,1886.3 L650.2,1887.8 L650.3,1889.3 L650.3,1890.9 L650.3,1892.4 L650.4,1893.9 L650.4,1895.5 L650.4,1897.0 L650.5,1898.6 L650.5,1900.1 L650.6,1901.6 L650.6,1903.2 L650.6,1904.7 L650.7,1906.3 L650.7,1907.9 L650.7,1909.4 L650.8,1911.0 L650.8,1912.5 L650.8,1914.1 L650.9,1915.6 L650.9,1917.2 L650.9,1918.8 L651.0,1920.3 L651.0,1921.9 L651.1,1923.5 L651.1,1925.0 L651.1,1926.6 L651.2,1928.2 L651.2,1929.8 L651.2,1931.3 L651.3,1932.9 L651.3,1934.5 L651.3,1936.1 L651.4,1937.6 L651.4,1939.2 L651.4,1940.8 L651.5,1942.3 L651.5,1943.9 L651.5,1945.5 L651.6,1947.0 L651.6,1948.6 L651.6,1950.3 L651.7,1951.9 L651.7,1953.5 L651.7,1955.1 L651.7,1956.7 L651.8,1958.3 L651.8,1959.9 L651.8,1961.5 L651.9,1963.2 L651.9,1964.8 L651.9,1966.4 L651.9,1968.1 L652.0,1969.7 L652.0,1971.3 L652.0,1973.0 L652.1,1974.6 L652.1,1976.3 L652.1,1978.0 L652.1,1979.6 L652.2,1981.3 L652.2,1982.9 L652.2,1984.6 L652.2,1986.3 L652.3,1987.9 L652.3,1989.6 L652.3,1991.3 L652.3,1993.0 L652.4,1994.6 L652.4,1996.3 L652.4,1998.0 L652.4,1999.6 L652.5,2001.3 L652.5,2003.0 L652.5,2004.7 L652.6,2006.4 L652.6,2008.1 L652.6,2009.7 L652.6,2011.4 L652.7,2013.1 L652.7,2014.8 L652.7,2016.5 L652.8,2018.1 L652.8,2019.8 L652.8,2021.5 L652.8,2023.2 L652.9,2024.9 L652.9,2026.6 L652.9,2028.2 L653.0,2029.9 L653.0,2031.6 L653.0,2033.3 L653.0,2034.9 L653.1,2036.6 L653.1,2038.3 L653.1,2040.0 L653.2,2041.6 L653.2,2043.3 L653.2,2044.9 L653.3,2046.6 L653.3,2048.2 L653.4,2049.9 L653.4,2051.6 L653.4,2053.2 L653.5,2054.9 L653.5,2056.5 L653.5,2058.1 L653.6,2059.8 L653.6,2061.4 L653.7,2063.0 L653.7,2064.7 L653.7,2066.3 L653.8,2067.9 L653.8,2069.5 L653.9,2071.1 L653.9,2072.7 L654.0,2074.3 L654.0,2075.9 L654.0,2077.6 L654.1,2079.2 L654.1,2080.7 L654.2,2082.3 L654.2,2083.9 L654.3,2085.4 L654.3,2087.0 L654.4,2088.6 L654.4,2090.1 L654.5,2091.7 L654.6,2093.3 L654.6,2094.8 L654.7,2096.4 L654.7,2098.0 L654.8,2099.5 L654.8,2101.1 L654.9,2102.7 L655.0,2104.2 L655.0,2105.8 L655.1,2107.3 L655.2,2108.9 L655.2,2110.4 L655.3,2111.9 L655.3,2113.5 L655.4,2115.0 L655.5,2116.5 L655.5,2118.0 L655.6,2119.6 L655.7,2121.1 L655.7,2122.6 L655.8,2124.1 L655.9,2125.6 L656.0,2127.2 L656.0,2128.7 L656.1,2130.2 L656.2,2131.7 L656.2,2133.2 L656.3,2134.7 L656.4,2136.4 L656.5,2138.2 L656.6,2139.9 L656.6,2141.6 L656.7,2143.4 L656.8,2145.1 L656.9,2146.8 L657.0,2148.6 L657.1,2150.3 L657.2,2152.0 L657.3,2153.8 L657.4,2155.5 L657.4,2157.2 L657.5,2158.9 L657.6,2160.6 L657.7,2162.4 L657.8,2164.1 L657.9,2165.8 L658.0,2167.5 L658.1,2169.2 L658.2,2170.9 L658.3,2172.7 L658.4,2174.4 L658.5,2176.1 L658.6,2177.8 L658.7,2179.5 L658.8,2181.2 L658.9,2183.0 L658.9,2184.7 L659.0,2186.4 L659.1,2188.1 L659.2,2189.8 L659.3,2191.5 L659.4,2193.3 L659.5,2195.0 L659.6,2196.7 L659.7,2198.4 L659.8,2200.2 L659.9,2201.9 L660.0,2203.6 L660.1,2205.3 L660.2,2207.1 L660.3,2208.8 L660.4,2210.5 L660.5,2212.3 L660.6,2214.0 L660.7,2215.8 L660.8,2217.5 L660.9,2219.0 L661.0,2220.6 L661.1,2222.1 L661.1,2223.6 L661.2,2225.2 L661.3,2226.7 L661.4,2228.2 L661.5,2229.8 L661.5,2231.4 L661.6,2233.0 L661.7,2234.6 L661.8,2236.2 L661.9,2237.7 L662.0,2239.3 L662.0,2241.0 L662.1,2242.6 L662.2,2244.2 L662.3,2245.8 L662.4,2247.4 L662.5,2249.1 L662.5,2250.7 L662.6,2252.3 L662.7,2254.0 L662.8,2255.6 L662.9,2257.3 L663.0,2258.9 L663.0,2260.5 L663.1,2262.2 L663.2,2263.8 L663.3,2265.5 L663.4,2267.1 L663.5,2268.8 L663.6,2270.4 L663.6,2272.0 L663.7,2273.7 L663.8,2275.3 L663.9,2276.9 L664.0,2278.5 L664.1,2280.2 L664.2,2281.8 L664.3,2283.4 L664.3,2285.0 L664.4,2286.6 L664.5,2288.2 L664.6,2289.8 L664.7,2291.4 L664.8,2293.0 L664.9,2294.6 L665.0,2296.1 L665.1,2297.7 L665.2,2299.2 L665.3,2300.7 L665.3,2302.3 L665.4,2303.8 L665.5,2305.3 L665.6,2306.9 L665.7,2308.6 L665.9,2310.3 L666.0,2312.0 L666.1,2313.7 L666.2,2315.4 L666.3,2317.1 L666.4,2318.7 L666.6,2320.3 L666.7,2321.9 L666.8,2323.4 L666.9,2325.0 L667.0,2326.6 L667.2,2328.4 L667.3,2330.1 L667.5,2331.9 L667.6,2333.7 L667.8,2335.4 L668.0,2337.0 L668.1,2338.6 L668.3,2340.1 L668.4,2341.7 L668.6,2343.3 L668.8,2345.3 L669.1,2347.2 L669.3,2349.0 L669.5,2350.9 L669.7,2352.6 L669.9,2354.3 L670.2,2355.9 L670.4,2357.5 L670.6,2359.0 L670.8,2360.6 L671.3,2363.5 L671.8,2366.4 L672.3,2369.2 L672.9,2372.0 L673.4,2374.9 L674.0,2377.8 L674.4,2379.3 L674.7,2380.8 L675.0,2382.4 L675.4,2383.9 L675.8,2385.5 L676.1,2387.1 L676.5,2388.7 L676.9,2390.2 L677.3,2391.8 L677.7,2393.4 L678.1,2395.0 L678.5,2396.6 L679.0,2398.2 L679.4,2399.8 L679.8,2401.3 L680.3,2402.9 L680.7,2404.4 L681.2,2406.0 L681.6,2407.5 L682.1,2409.0 L682.6,2410.5 L683.0,2411.9 L683.5,2413.4 L684.0,2414.8 L684.9,2417.6 L685.7,2419.8 L686.4,2422.0 L687.1,2424.2 L687.9,2426.3 L688.6,2428.3 L689.4,2430.4 L690.2,2432.4 L691.0,2434.3 L691.9,2436.3 L692.9,2438.2 L693.9,2440.1 L695.1,2442.0 L696.4,2444.0 L697.9,2446.1 L699.4,2448.1 L701.1,2450.2 L702.7,2452.2 L704.5,2454.1 L706.3,2456.0 L708.1,2457.9 L710.0,2459.7 L711.8,2461.4 L713.7,2463.0 L715.5,2464.5 L717.1,2465.7 L718.7,2466.9 L720.4,2466.8 L722.0,2469.8 L723.7,2470.6 L725.4,2471.0 L727.1,2471.0 L728.8,2473.9 L730.5,2474.8 L732.3,2474.4 L734.1,2475.1 L735.9,2474.7 L737.7,2474.5 L739.6,2476.2 L741.4,2477.4 L743.2,2475.8 L745.0,2478.7 L746.8,2476.8 L748.8,2477.0 L750.8,2476.5 L752.9,2480.0 L755.1,2479.3 L757.5,2479.9 L760.0,2479.2 L761.7,2477.3 L763.4,2478.5 L765.1,2479.3 L767.0,2478.1 L768.9,2481.2 L770.7,2479.3 L772.3,2478.6 L773.8,2481.2 L775.3,2478.8 L776.9,2481.8 L778.5,2480.2 L780.1,2480.7 L781.8,2480.1 L783.4,2480.7 L785.1,2479.8 L786.8,2479.4 L788.5,2482.5 L790.2,2480.3 L792.0,2482.4 L793.8,2480.5 L795.6,2483.3 L797.4,2483.2 L799.2,2482.8 L801.1,2483.0 L802.9,2482.4 L804.7,2483.1 L806.6,2481.0 L808.5,2482.4 L810.3,2483.7 L812.2,2481.6 L813.7,2484.3 L815.2,2484.2 L816.7,2482.6 L818.2,2482.5 L819.7,2482.9 L821.2,2482.7 L822.7,2485.0 L824.2,2482.8 L825.7,2481.6 L827.2,2481.9 L829.1,2484.2 L831.0,2485.3 L832.8,2483.5 L834.7,2483.6 L836.5,2483.9 L838.3,2484.6 L840.2,2482.8 L842.0,2484.2 L843.6,2484.0 L845.2,2484.3 L846.9,2482.7 L848.5,2482.7 L850.1,2483.3 L851.8,2485.4 L853.4,2483.3 L855.1,2484.2 L856.7,2483.2 L858.4,2482.4 L860.0,2482.3 L861.7,2485.0 L863.4,2484.8 L865.1,2483.3 L866.7,2484.4 L868.4,2484.4 L870.1,2485.1 L871.8,2485.3 L873.5,2483.3 L875.2,2485.4 L876.9,2485.2 L878.6,2483.8 L880.3,2484.8 L882.0,2483.4 L883.7,2482.9 L885.5,2482.4 L887.2,2484.6 L888.9,2482.0 L890.6,2481.6 L892.3,2484.2 L894.1,2484.0 L895.8,2482.9 L897.5,2484.1 L899.3,2481.2 L901.0,2481.9 L902.7,2482.0 L904.5,2482.4 L906.2,2481.4 L907.9,2481.0 L909.7,2481.9 L911.4,2483.8 L913.1,2484.1 L914.9,2483.1 L916.6,2482.1 L918.3,2481.2 L920.0,2483.7 L921.8,2482.1 L923.5,2482.8 L925.2,2480.2 L927.0,2480.8 L928.7,2483.0 L930.4,2482.8 L932.1,2483.0 L933.8,2482.0 L935.6,2481.3 L937.3,2481.8 L939.0,2482.7 L940.7,2480.7 L942.4,2481.5 L944.1,2480.5 L945.8,2482.2 L947.5,2479.5 L949.3,2481.8 L951.0,2482.8 L952.7,2479.4 L954.5,2481.4 L956.2,2481.5 L958.0,2482.2 L959.7,2481.2 L961.5,2480.0 L963.3,2480.5 L965.1,2482.5 L966.9,2482.2 L968.6,2479.4 L970.4,2479.2 L972.2,2479.2 L974.0,2478.9 L975.8,2480.4 L977.6,2479.2 L979.4,2481.8 L981.2,2481.0 L983.0,2479.1 L984.8,2480.5 L986.6,2479.7 L988.4,2480.3 L990.2,2479.2 L991.9,2479.0 L993.7,2479.0 L995.5,2479.7 L997.3,2480.8 L999.1,2480.2 L1000.8,2478.4 L1002.6,2480.7 L1004.3,2481.3 L1006.1,2480.9 L1007.8,2480.9 L1009.5,2478.0 L1011.3,2479.6 L1013.0,2478.1 L1014.7,2480.6 L1016.4,2478.4 L1018.0,2480.3 L1019.7,2478.6 L1021.4,2480.2 L1023.1,2478.8 L1024.7,2477.7 L1026.3,2478.9 L1027.9,2478.6 L1029.5,2480.7 L1031.1,2478.5 L1032.7,2479.2 L1034.2,2479.3 L1035.7,2480.7 L1037.3,2477.6 L1038.8,2479.3 L1040.6,2478.9 L1042.5,2479.7 L1044.3,2480.4 L1046.1,2478.0 L1047.7,2479.4 L1049.4,2478.7 L1051.0,2478.7 L1052.5,2476.9 L1054.1,2479.5 L1055.7,2480.1 L1057.2,2477.8 L1058.7,2477.6 L1060.2,2480.0 L1062.4,2476.7 L1064.5,2476.5 L1066.7,2476.4 L1068.8,2479.0 L1070.9,2478.7 L1072.9,2477.5 L1075.0,2478.0 L1077.0,2475.7 L1079.0,2477.9 L1081.0,2477.1 L1083.0,2477.2 L1085.0,2476.6 L1087.0,2476.6 L1089.0,2475.8 L1091.0,2475.0 L1093.0,2476.3 L1095.1,2475.4 L1097.1,2476.9 L1099.0,2477.2 L1100.9,2476.7 L1102.7,2475.5 L1104.6,2474.5 L1106.4,2474.8 L1108.3,2474.9 L1110.1,2475.1 L1112.0,2476.1 L1113.8,2472.6 L1115.6,2473.8 L1117.4,2473.6 L1119.2,2474.1 L1121.0,2474.5 L1122.8,2473.8 L1124.6,2473.0 L1126.4,2473.3 L1128.2,2472.7 L1130.0,2473.2 L1131.8,2472.5 L1133.6,2472.3 L1135.4,2470.6 L1137.2,2472.9 L1139.0,2470.9 L1140.8,2471.7 L1142.6,2472.5 L1144.3,2473.0 L1146.1,2473.2 L1147.8,2469.7 L1149.5,2470.9 L1151.3,2471.0 L1153.0,2471.5 L1154.8,2470.8 L1156.5,2472.4 L1158.2,2470.9 L1160.0,2471.9 L1161.7,2474.4 L1163.4,2473.9 L1165.2,2473.2 L1166.9,2472.1 L1168.6,2475.4 L1170.4,2474.7 L1172.1,2473.2 L1173.8,2473.9 L1175.6,2475.2 L1177.3,2475.6 L1179.0,2474.3 L1180.8,2476.9 L1182.5,2474.9 L1184.2,2474.8 L1185.9,2477.1 L1187.6,2474.8 L1189.2,2476.9 L1190.9,2475.3 L1192.5,2476.9 L1194.1,2476.0 L1195.7,2476.5 L1197.3,2478.7 L1198.9,2477.2 L1200.5,2477.3 L1202.2,2478.1 L1203.8,2477.1 L1205.5,2476.9 L1207.2,2477.8 L1208.9,2477.6 L1210.7,2477.5 L1212.4,2480.4 L1214.3,2477.3 L1216.2,2480.2 L1218.1,2480.8 L1220.1,2480.1 L1222.1,2477.8 L1224.2,2479.7 L1226.0,2478.1 L1227.7,2480.3 L1229.5,2480.7 L1231.2,2479.2 L1232.7,2478.4 L1234.3,2480.4 L1235.8,2478.9 L1237.3,2479.7 L1238.8,2480.3 L1240.4,2482.0 L1242.0,2480.2 L1243.7,2479.4 L1245.3,2481.8 L1246.9,2482.0 L1248.6,2481.0 L1250.3,2479.3 L1252.0,2479.9 L1253.7,2480.7 L1255.3,2481.3 L1257.1,2480.2 L1258.9,2482.3 L1260.6,2482.5 L1262.4,2482.9 L1264.1,2482.8 L1265.6,2479.7 L1267.2,2481.8 L1268.7,2480.0 L1270.2,2483.0 L1271.7,2482.5 L1273.2,2482.6 L1274.7,2480.6 L1276.3,2480.1 L1277.8,2482.9 L1279.3,2482.2 L1280.9,2482.3 L1282.4,2481.8 L1284.0,2483.0 L1285.5,2481.4 L1287.1,2481.1 L1288.6,2481.5 L1290.2,2481.3 L1291.7,2482.5 L1293.3,2483.5 L1294.8,2480.6 L1296.4,2480.6 L1298.0,2482.3 L1299.5,2482.9 L1301.1,2481.2 L1302.6,2481.5 L1304.2,2480.7 L1305.7,2480.7 L1307.3,2482.4 L1308.8,2483.1 L1310.4,2483.0 L1311.9,2481.3 L1313.4,2481.1 L1315.0,2484.1 L1316.5,2482.7 L1318.0,2482.3 L1319.5,2483.3 L1321.3,2483.5 L1323.1,2482.8 L1324.9,2481.2 L1326.7,2483.9 L1328.5,2481.8 L1330.0,2481.2 L1331.5,2482.3 L1333.0,2483.0 L1334.5,2483.4 L1336.1,2481.8 L1337.6,2483.7 L1339.4,2483.0 L1341.2,2481.8 L1343.0,2484.3 L1344.8,2484.2 L1346.5,2484.6 L1348.3,2483.8 L1350.1,2482.2 L1351.9,2484.2 L1353.7,2484.7 L1355.5,2483.4 L1357.2,2484.8 L1359.0,2485.0 L1360.8,2482.9 L1362.6,2485.0 L1364.4,2485.0 L1366.1,2484.5 L1367.9,2481.7 L1369.7,2482.9 L1371.5,2483.9 L1373.3,2483.9 L1375.1,2484.4 L1376.9,2484.1 L1378.7,2482.3 L1380.5,2485.1 L1382.3,2483.7 L1383.8,2485.0 L1385.3,2482.6 L1386.8,2485.4 L1388.3,2483.8 L1389.9,2484.6 L1391.4,2484.5 L1392.9,2485.1 L1394.5,2483.2 L1396.0,2482.2 L1397.6,2483.4 L1399.1,2482.6 L1400.6,2483.9 L1402.2,2484.9 L1403.8,2483.2 L1405.4,2482.4 L1406.9,2482.1 L1408.5,2483.5 L1410.1,2484.1 L1411.7,2482.1 L1413.3,2484.4 L1414.9,2482.7 L1416.5,2482.4 L1418.2,2485.3 L1419.8,2483.9 L1421.4,2485.2 L1423.1,2483.9 L1424.7,2482.4 L1426.4,2482.9 L1428.1,2483.5 L1429.7,2484.3 L1431.4,2484.8 L1433.1,2484.7 L1434.9,2484.3 L1436.6,2482.9 L1438.3,2483.5 L1440.0,2483.4 L1441.5,2483.8 L1443.1,2482.9 L1444.6,2483.9 L1446.2,2483.6 L1447.7,2482.1 L1449.3,2484.9 L1450.8,2484.1 L1452.3,2484.8 L1453.9,2484.6 L1455.5,2484.6 L1457.2,2485.5 L1458.8,2483.3 L1460.4,2483.3 L1462.1,2481.9 L1463.7,2484.2 L1465.3,2483.9 L1467.0,2483.9 L1468.6,2485.4 L1470.1,2482.5 L1471.7,2482.6 L1473.2,2484.4 L1474.8,2484.7 L1476.3,2483.5 L1477.8,2481.9 L1479.4,2483.0 L1480.9,2484.6 L1482.4,2483.4 L1484.0,2483.3 L1485.6,2483.0 L1487.2,2483.8 L1488.7,2483.7 L1490.3,2484.0 L1491.9,2484.6 L1493.5,2484.2 L1495.1,2482.8 L1496.7,2482.3 L1498.3,2484.2 L1499.8,2484.3 L1501.5,2484.7 L1503.1,2482.1 L1504.7,2484.4 L1506.3,2484.5 L1507.9,2481.6 L1509.5,2482.4 L1511.2,2483.5 L1512.8,2481.7 L1514.4,2484.2 L1516.0,2482.1 L1517.6,2483.6 L1519.3,2482.2 L1520.9,2481.9 L1522.5,2481.8 L1524.2,2482.8 L1525.8,2483.6 L1527.4,2481.7 L1529.1,2483.4 L1530.7,2482.1 L1532.3,2483.2 L1534.0,2482.2 L1535.6,2481.5 L1537.2,2481.3 L1538.9,2481.0 L1540.5,2483.3 L1542.1,2482.2 L1543.8,2481.1 L1545.4,2483.8 L1547.0,2483.0 L1548.6,2480.7 L1550.3,2483.2 L1551.9,2482.7 L1553.5,2482.1 L1555.1,2482.3 L1556.7,2484.0 L1558.3,2481.8 L1559.9,2482.7 L1561.5,2482.7 L1563.2,2481.7 L1564.8,2481.6 L1566.3,2483.1 L1567.9,2482.6 L1569.5,2481.9 L1571.1,2482.1 L1572.6,2481.1 L1574.2,2483.1 L1575.8,2480.3 L1577.4,2482.5 L1579.0,2481.8 L1580.5,2480.9 L1582.1,2482.2 L1583.6,2482.2 L1585.1,2480.4 L1586.6,2481.8 L1588.2,2480.7 L1589.7,2482.9 L1591.2,2481.2 L1592.7,2481.2 L1594.2,2480.8 L1595.8,2480.1 L1597.4,2480.6 L1599.0,2480.5 L1600.6,2482.2 L1602.2,2483.0 L1603.9,2480.7 L1605.5,2480.3 L1607.1,2481.8 L1608.7,2480.3 L1610.3,2481.3 L1611.8,2482.6 L1613.4,2480.6 L1614.9,2482.4 L1616.4,2481.8 L1617.9,2480.1 L1619.4,2480.7 L1621.0,2482.0 L1622.5,2480.2 L1624.0,2480.5 L1625.6,2481.9 L1627.3,2482.7 L1628.9,2481.7 L1630.5,2482.2 L1632.1,2479.8 L1633.8,2480.9 L1635.3,2481.0 L1636.9,2483.1 L1638.5,2481.1 L1640.1,2482.7 L1641.6,2480.0 L1643.2,2481.6 L1644.7,2483.1 L1646.2,2482.6 L1647.8,2482.0 L1649.3,2480.5 L1650.8,2483.2 L1652.3,2480.2 L1654.1,2483.4 L1655.9,2482.7 L1657.6,2482.5 L1659.4,2481.9 L1661.2,2480.6 L1662.9,2481.2 L1664.6,2482.4 L1666.4,2482.4 L1668.1,2481.5 L1669.8,2483.0 L1671.5,2480.3 L1673.2,2481.2 L1674.9,2480.5 L1676.6,2481.3 L1678.3,2483.1 L1680.0,2482.9 L1681.7,2480.8 L1683.4,2481.4 L1685.1,2480.7 L1686.7,2482.7 L1688.4,2481.9 L1690.1,2481.2 L1691.7,2481.7 L1693.4,2483.5 L1695.1,2482.0 L1696.8,2483.0 L1698.4,2482.8 L1700.1,2482.2 L1701.8,2482.5 L1703.4,2481.9 L1705.1,2481.3 L1706.8,2482.4 L1708.5,2481.7 L1710.2,2481.9 L1711.8,2481.4 L1713.5,2484.0 L1715.2,2482.3 L1716.9,2481.5 L1718.6,2480.9 L1720.3,2481.6 L1722.1,2483.9 L1723.8,2482.1 L1725.5,2483.3 L1727.3,2481.7 L1729.0,2483.2" fill="none" stroke="#008000" stroke-width="7" stroke-linejoin="round" stroke-linecap="round"/>
<path d="M163.8,2487.5 L163.8,2486.0 L163.8,2484.4 L163.8,2482.9 L163.8,2481.4 L163.8,2479.9 L163.8,2478.3 L163.8,2476.8 L163.8,2475.3 L163.8,2473.8 L163.8,2472.2 L163.8,2470.7 L163.8,2469.2 L163.8,2467.7 L163.8,2466.1 L163.8,2464.6 L163.8,2463.1 L163.8,2461.6 L163.8,2460.0 L163.8,2458.5 L163.8,2456.9 L163.8,2455.4 L163.8,2453.8 L163.8,2452.3 L163.8,2450.7 L163.8,2449.2 L163.8,2447.6 L163.8,2446.1 L163.8,2444.5 L163.7,2443.0 L163.7,2441.5 L163.7,2439.9 L163.7,2438.4 L163.7,2436.8 L163.7,2435.3 L163.7,2433.7 L163.7,2432.2 L163.7,2430.7 L163.7,2429.1 L163.7,2427.6 L163.7,2426.1 L163.7,2424.5 L163.7,2423.0 L163.7,2421.5 L163.7,2419.9 L163.7,2418.4 L163.7,2416.9 L163.7,2415.3 L163.7,2413.8 L163.7,2412.3 L163.7,2410.7 L163.7,2409.2 L163.7,2407.7 L163.7,2406.2 L163.7,2404.6 L163.7,2403.1 L163.7,2401.5 L163.6,2399.9 L163.6,2398.4 L163.6,2396.8 L163.6,2395.2 L163.6,2393.7 L163.6,2392.1 L163.6,2390.5 L163.6,2389.0 L163.6,2387.4 L163.6,2385.8 L163.6,2384.3 L163.6,2382.7 L163.6,2381.2 L163.6,2379.6 L163.6,2378.0 L163.6,2376.5 L163.6,2374.9 L163.6,2373.3 L163.6,2371.8 L163.6,2370.2 L163.6,2368.6 L163.6,2367.1 L163.6,2365.5 L163.5,2363.9 L163.5,2362.4 L163.5,2360.8 L163.5,2359.3 L163.5,2357.7 L163.5,2356.1 L163.5,2354.6 L163.5,2353.0 L163.5,2351.4 L163.5,2349.9 L163.5,2348.3 L163.5,2346.7 L163.5,2345.2 L163.5,2343.6 L163.5,2342.1 L163.5,2340.6 L163.5,2339.0 L163.5,2337.5 L163.5,2336.0 L163.5,2334.5 L163.5,2332.9 L163.5,2331.4 L163.5,2329.9 L163.5,2328.3 L163.5,2326.8 L163.4,2325.3 L163.4,2323.7 L163.4,2322.2 L163.4,2320.7 L163.4,2319.1 L163.4,2317.6 L163.4,2316.1 L163.4,2314.5 L163.4,2313.0 L163.4,2311.4 L163.4,2309.9 L163.4,2308.3 L163.4,2306.8 L163.4,2305.3 L163.4,2303.7 L163.4,2302.2 L163.4,2300.6 L163.4,2299.1 L163.4,2297.5 L163.4,2296.0 L163.4,2294.4 L163.4,2292.9 L163.4,2291.3 L163.4,2289.8 L163.4,2288.2 L163.4,2286.7 L163.4,2285.2 L163.4,2283.7 L163.4,2282.1 L163.4,2280.6 L163.4,2279.1 L163.4,2277.6 L163.4,2276.0 L163.4,2274.5 L163.4,2273.0 L163.4,2271.5 L163.4,2269.9 L163.4,2268.4 L163.4,2266.9 L163.4,2265.3 L163.4,2263.8 L163.4,2262.3 L163.4,2260.7 L163.4,2259.2 L163.4,2257.6 L163.4,2256.0 L163.4,2254.5 L163.4,2252.9 L163.4,2251.4 L163.4,2249.8 L163.4,2248.2 L163.4,2246.7 L163.4,2245.1 L163.4,2243.6 L163.4,2242.0 L163.4,2240.4 L163.4,2238.9 L163.4,2237.3 L163.4,2235.7 L163.4,2234.2 L163.4,2232.6 L163.4,2231.1 L163.4,2229.5 L163.4,2228.0 L163.4,2226.4 L163.4,2224.8 L163.4,2223.3 L163.4,2221.7 L163.4,2220.2 L163.5,2218.6 L163.5,2217.1 L163.5,2215.6 L163.5,2214.1 L163.5,2212.6 L163.5,2211.1 L163.5,2209.6 L163.5,2208.1 L163.6,2206.6 L163.6,2205.1 L163.6,2203.6 L163.6,2202.1 L163.6,2200.6 L163.6,2199.1 L163.7,2197.6 L163.7,2196.0 L163.7,2194.5 L163.7,2193.0 L163.8,2191.5 L163.8,2190.0 L163.9,2187.8 L163.9,2185.9 L163.9,2184.2 L163.9,2182.7 L164.0,2181.4 L164.0,2180.1 L164.1,2178.9 L164.1,2177.8 L164.2,2176.6 L164.4,2175.4 L164.5,2174.0 L164.7,2172.5 L165.0,2170.5 L165.4,2168.6 L165.8,2166.6 L166.3,2164.7 L166.9,2162.7 L167.4,2160.6 L168.0,2158.5 L168.5,2156.3 L169.1,2154.0 L169.6,2151.7 L170.0,2149.2 L170.4,2146.6 L170.6,2144.4 L170.9,2142.2 L171.0,2140.7 L171.1,2139.1 L171.3,2137.5 L171.4,2135.8 L171.5,2134.1 L171.6,2132.5 L171.7,2130.7 L171.8,2128.9 L171.8,2127.2 L171.9,2125.3 L172.0,2123.5 L172.0,2121.7 L172.1,2119.8 L172.1,2117.9 L172.2,2116.0 L172.2,2114.1 L172.3,2112.2 L172.3,2110.2 L172.3,2108.3 L172.4,2106.4 L172.4,2104.4 L172.5,2102.5 L172.5,2100.6 L172.5,2098.6 L172.6,2096.7 L172.6,2094.8 L172.7,2092.9 L172.7,2091.0 L172.8,2089.1 L172.8,2087.2 L172.9,2085.4 L172.9,2083.5 L173.0,2081.7 L173.1,2079.8 L173.1,2078.0 L173.2,2076.1 L173.3,2074.2 L173.3,2072.2 L173.4,2070.3 L173.4,2068.8 L173.5,2067.3 L173.5,2065.8 L173.5,2064.3 L173.6,2062.8 L173.6,2061.3 L173.7,2059.7 L173.7,2058.2 L173.7,2056.7 L173.8,2055.2 L173.8,2053.7 L173.9,2052.1 L173.9,2050.6 L173.9,2049.1 L174.0,2047.6 L174.0,2046.1 L174.1,2044.2 L174.1,2042.3 L174.2,2040.3 L174.3,2038.5 L174.3,2036.6 L174.4,2034.7 L174.5,2033.0 L174.6,2031.3 L174.6,2029.5 L174.7,2027.9 L174.8,2026.3 L174.9,2024.7 L175.1,2022.6 L175.2,2020.5 L175.4,2018.6 L175.6,2016.8 L175.9,2014.8 L176.1,2012.7 L176.4,2010.7 L176.7,2008.9 L177.0,2007.2 L177.3,2005.8 L177.6,2004.7 L177.9,2004.0 L178.2,2003.8 L178.6,2004.7 L179.0,2007.0 L179.2,2008.9 L179.4,2010.7 L179.5,2012.3 L179.6,2013.9 L179.7,2015.5 L179.8,2017.4 L179.9,2019.2 L180.0,2021.1 L180.1,2022.7 L180.2,2024.3 L180.3,2025.9 L180.3,2027.5 L180.4,2029.2 L180.5,2030.9 L180.6,2032.6 L180.6,2034.3 L180.7,2036.1 L180.8,2037.9 L180.9,2039.7 L180.9,2041.5 L181.0,2043.3 L181.1,2045.1 L181.2,2046.9 L181.2,2048.7 L181.3,2050.5 L181.4,2052.2 L181.4,2054.0 L181.5,2055.8 L181.6,2057.4 L181.7,2059.1 L181.7,2060.8 L181.8,2062.5 L181.9,2064.0 L182.0,2065.6 L182.0,2067.1 L182.1,2068.7 L182.2,2070.5 L182.3,2072.2 L182.4,2074.0 L182.4,2075.8 L182.5,2077.6 L182.6,2079.4 L182.7,2081.2 L182.8,2083.0 L182.9,2084.9 L182.9,2086.8 L183.0,2088.6 L183.1,2090.5 L183.2,2092.0 L183.2,2093.5 L183.3,2095.1 L183.3,2096.6 L183.4,2098.1 L183.5,2099.6 L183.5,2101.2 L183.6,2102.7 L183.6,2104.3 L183.7,2105.8 L183.8,2107.4 L183.8,2108.9 L183.9,2110.5 L183.9,2112.0 L184.0,2113.6 L184.1,2115.1 L184.1,2116.7 L184.2,2118.3 L184.2,2119.8 L184.3,2121.4 L184.4,2123.0 L184.4,2124.5 L184.5,2126.1 L184.5,2127.6 L184.6,2129.2 L184.7,2130.7 L184.7,2132.3 L184.8,2133.8 L184.9,2135.4 L184.9,2136.9 L185.0,2138.5 L185.1,2140.0 L185.1,2141.5 L185.2,2143.1 L185.3,2144.6 L185.3,2146.1 L185.4,2147.6 L185.5,2149.1 L185.5,2150.6 L185.6,2152.1 L185.7,2154.0 L185.8,2155.8 L185.9,2157.7 L186.0,2159.5 L186.1,2161.2 L186.2,2162.9 L186.3,2164.5 L186.4,2166.2 L186.5,2167.9 L186.6,2169.6 L186.7,2171.2 L186.8,2172.9 L186.9,2174.6 L187.0,2176.2 L187.1,2177.9 L187.2,2179.6 L187.3,2181.2 L187.4,2182.9 L187.5,2184.5 L187.6,2186.2 L187.7,2187.8 L187.8,2189.5 L187.9,2191.1 L188.0,2192.7 L188.1,2194.4 L188.2,2196.0 L188.3,2197.6 L188.4,2199.3 L188.5,2200.9 L188.6,2202.5 L188.7,2204.1 L188.9,2205.8 L189.0,2207.4 L189.1,2209.0 L189.2,2210.6 L189.3,2212.2 L189.4,2213.8 L189.5,2215.4 L189.6,2217.0 L189.7,2218.6 L189.9,2220.2 L190.0,2221.7 L190.1,2223.3 L190.2,2224.9 L190.3,2226.5 L190.4,2228.0 L190.5,2229.6 L190.6,2231.2 L190.8,2232.7 L190.9,2234.3 L191.0,2235.8 L191.1,2237.4 L191.2,2239.3 L191.4,2241.2 L191.5,2243.1 L191.6,2245.0 L191.7,2247.0 L191.8,2248.9 L191.9,2250.9 L192.1,2252.8 L192.2,2254.7 L192.3,2256.7 L192.4,2258.6 L192.5,2260.6 L192.6,2262.5 L192.7,2264.5 L192.8,2266.4 L192.9,2268.3 L193.0,2270.2 L193.1,2272.1 L193.3,2274.0 L193.4,2275.8 L193.5,2277.7 L193.7,2279.5 L193.8,2281.3 L193.9,2283.1 L194.1,2284.9 L194.2,2286.6 L194.4,2288.3 L194.6,2290.0 L194.8,2291.6 L194.9,2293.3 L195.2,2294.8 L195.4,2296.4 L195.6,2298.0 L195.9,2300.1 L196.3,2302.3 L196.8,2304.9 L197.3,2307.5 L197.8,2309.9 L198.4,2312.3 L198.9,2314.5 L199.5,2316.7 L200.1,2318.8 L200.8,2320.8 L201.5,2322.8 L202.3,2324.7 L203.2,2326.5 L204.1,2328.2 L204.9,2329.6 L205.8,2331.1 L206.8,2332.7 L207.9,2334.2 L208.9,2335.6 L210.0,2337.0 L211.1,2338.3 L212.1,2339.4 L213.2,2340.2 L214.1,2340.9 L215.0,2341.2 L215.8,2341.2 L216.7,2340.7 L217.4,2339.7 L218.1,2338.3 L218.7,2336.5 L219.3,2334.3 L219.8,2331.9 L220.2,2329.3 L220.6,2326.6 L221.1,2323.7 L221.5,2320.9 L221.9,2318.0 L222.3,2315.3 L222.6,2313.1 L222.9,2310.9 L223.1,2309.4 L223.3,2307.8 L223.5,2306.2 L223.7,2304.5 L223.8,2302.8 L224.0,2301.1 L224.1,2299.4 L224.3,2297.6 L224.4,2295.8 L224.6,2294.0 L224.7,2292.1 L224.8,2290.3 L224.9,2288.4 L225.1,2286.5 L225.2,2284.6 L225.3,2282.7 L225.4,2280.8 L225.5,2278.9 L225.7,2276.9 L225.8,2275.0 L225.9,2273.0 L226.0,2271.1 L226.1,2269.2 L226.2,2267.2 L226.4,2265.3 L226.5,2263.4 L226.6,2261.5 L226.8,2259.6 L226.9,2257.7 L227.0,2255.9 L227.2,2254.0 L227.3,2252.2 L227.5,2250.4 L227.7,2248.5 L227.8,2246.6 L228.0,2244.8 L228.1,2243.2 L228.3,2241.6 L228.4,2240.1 L228.5,2238.5 L228.7,2236.8 L228.8,2235.2 L228.9,2233.5 L229.1,2231.8 L229.2,2230.1 L229.3,2228.4 L229.5,2226.6 L229.6,2224.9 L229.8,2223.2 L229.9,2221.5 L230.0,2219.8 L230.2,2218.0 L230.3,2216.4 L230.5,2214.7 L230.6,2213.0 L230.8,2211.4 L230.9,2209.8 L231.0,2208.3 L231.2,2206.7 L231.3,2205.2 L231.5,2203.3 L231.7,2201.4 L231.9,2199.6 L232.1,2198.0 L232.3,2196.5 L232.5,2194.9 L232.7,2193.1 L233.0,2191.3 L233.5,2188.9 L234.0,2188.1 L234.4,2188.5 L234.7,2189.8 L235.1,2191.7 L235.4,2194.2 L235.6,2195.7 L235.7,2197.2 L235.9,2199.0 L236.1,2200.7 L236.2,2202.6 L236.4,2204.4 L236.6,2206.4 L236.7,2208.4 L236.9,2210.4 L237.0,2212.5 L237.2,2214.5 L237.3,2216.6 L237.5,2218.6 L237.6,2220.6 L237.8,2222.5 L237.9,2224.4 L238.0,2225.9 L238.1,2227.5 L238.2,2229.0 L238.3,2230.6 L238.4,2232.3 L238.5,2234.0 L238.6,2235.7 L238.7,2237.3 L238.8,2239.2 L238.9,2241.0 L239.0,2242.8 L239.1,2244.6 L239.1,2246.1 L239.2,2247.6 L239.2,2249.2 L239.3,2250.7 L239.4,2252.2 L239.4,2253.8 L239.5,2255.4 L239.6,2257.0 L239.6,2258.6 L239.7,2260.1 L239.7,2261.8 L239.8,2263.4 L239.9,2265.0 L239.9,2266.6 L240.0,2268.2 L240.0,2269.9 L240.1,2271.5 L240.2,2273.2 L240.2,2274.8 L240.3,2276.4 L240.3,2278.1 L240.4,2279.7 L240.4,2281.3 L240.5,2283.0 L240.6,2284.6 L240.6,2286.2 L240.7,2287.8 L240.7,2289.5 L240.8,2291.1 L240.8,2292.7 L240.9,2294.3 L241.0,2295.8 L241.0,2297.4 L241.1,2299.0 L241.1,2300.6 L241.2,2302.1 L241.3,2303.6 L241.3,2305.1 L241.4,2306.6 L241.5,2308.1 L241.5,2309.9 L241.6,2311.7 L241.7,2313.5 L241.8,2315.3 L241.9,2317.2 L242.0,2319.2 L242.1,2321.1 L242.2,2323.1 L242.2,2325.0 L242.3,2327.0 L242.4,2328.9 L242.5,2330.8 L242.5,2332.7 L242.6,2334.6 L242.7,2336.5 L242.8,2338.4 L242.8,2340.3 L242.9,2342.2 L243.0,2344.0 L243.1,2345.9 L243.1,2347.7 L243.2,2349.6 L243.3,2351.4 L243.4,2353.2 L243.5,2355.0 L243.6,2356.8 L243.7,2358.5 L243.8,2360.3 L243.9,2362.0 L244.0,2363.8 L244.1,2365.5 L244.3,2367.2 L244.4,2368.9 L244.5,2370.5 L244.7,2372.2 L244.9,2373.8 L245.0,2375.4 L245.2,2377.0 L245.4,2378.5 L245.6,2380.1 L245.8,2381.8 L246.1,2383.6 L246.3,2385.3 L246.5,2387.1 L246.8,2388.8 L247.0,2390.5 L247.3,2392.2 L247.5,2393.9 L247.8,2395.5 L248.0,2397.2 L248.3,2398.8 L248.6,2400.4 L248.9,2401.9 L249.2,2403.5 L249.6,2404.9 L249.9,2406.4 L250.6,2409.2 L251.5,2411.8 L252.4,2414.3 L253.4,2416.5 L254.2,2418.0 L255.0,2419.4 L255.9,2420.8 L256.8,2422.1 L257.7,2423.3 L258.7,2424.4 L259.7,2425.4 L260.7,2426.3 L261.7,2427.1 L262.7,2427.7 L263.8,2428.2 L265.2,2428.5 L266.7,2428.4 L268.1,2428.1 L269.7,2427.7 L271.2,2427.3 L272.7,2427.0 L274.2,2426.9 L275.5,2427.1 L276.9,2427.6 L278.2,2428.1 L279.5,2428.7 L280.9,2429.3 L282.2,2429.6 L283.4,2429.7 L284.6,2429.5 L285.6,2429.0 L286.6,2428.3 L287.6,2427.4 L288.5,2426.3 L289.4,2425.1 L290.3,2423.7 L291.2,2422.3 L292.0,2420.7 L292.8,2419.1 L293.6,2417.4 L294.3,2415.6 L295.0,2413.9 L295.5,2412.4 L296.0,2411.0 L296.5,2409.4 L296.9,2407.8 L297.4,2406.0 L297.8,2404.3 L298.1,2402.5 L298.5,2400.6 L298.8,2398.7 L299.1,2396.8 L299.4,2394.7 L299.7,2392.7 L300.0,2390.7 L300.3,2388.6 L300.5,2386.5 L300.8,2384.4 L301.0,2382.2 L301.2,2380.1 L301.5,2377.9 L301.7,2375.8 L302.0,2373.6 L302.2,2371.5 L302.4,2369.3 L302.7,2367.2 L302.9,2365.5 L303.1,2363.8 L303.3,2362.1 L303.4,2360.3 L303.6,2358.5 L303.8,2356.7 L304.0,2354.8 L304.1,2353.0 L304.3,2351.1 L304.4,2349.2 L304.6,2347.3 L304.7,2345.4 L304.8,2343.5 L305.0,2341.5 L305.1,2339.6 L305.2,2337.7 L305.4,2335.7 L305.5,2333.8 L305.6,2331.9 L305.8,2329.9 L305.9,2328.0 L306.0,2326.1 L306.1,2324.3 L306.3,2322.4 L306.4,2320.6 L306.5,2318.7 L306.6,2316.9 L306.8,2315.2 L306.9,2313.5 L307.0,2311.7 L307.2,2310.1 L307.3,2308.5 L307.5,2306.8 L307.6,2305.3 L307.8,2303.8 L307.9,2302.3 L308.2,2299.3 L308.4,2297.8 L308.5,2296.2 L308.7,2294.6 L308.9,2293.0 L309.0,2291.4 L309.2,2289.8 L309.3,2288.2 L309.5,2286.7 L309.8,2283.7 L310.2,2281.0 L310.5,2278.6 L310.8,2276.6 L311.1,2275.0 L311.5,2274.0 L311.8,2273.7 L312.1,2274.0 L312.4,2275.0 L312.7,2276.6 L313.1,2278.6 L313.4,2281.0 L313.7,2283.8 L314.0,2286.7 L314.1,2288.3 L314.3,2289.9 L314.5,2291.5 L314.6,2293.1 L314.8,2294.7 L315.0,2296.3 L315.2,2297.8 L315.3,2299.4 L315.7,2302.3 L315.9,2303.8 L316.1,2305.4 L316.3,2306.9 L316.5,2308.7 L316.6,2310.5 L316.8,2312.4 L317.0,2313.9 L317.1,2315.4 L317.3,2317.0 L317.4,2318.5 L317.6,2320.1 L317.8,2321.7 L317.9,2323.4 L318.1,2325.0 L318.2,2326.7 L318.4,2328.3 L318.6,2330.0 L318.7,2331.7 L318.9,2333.3 L319.1,2334.9 L319.2,2336.6 L319.4,2338.2 L319.6,2339.8 L319.7,2341.3 L319.9,2342.9 L320.1,2344.5 L320.3,2346.3 L320.5,2348.2 L320.7,2350.1 L321.0,2351.7 L321.2,2353.3 L321.4,2354.9 L321.8,2356.8 L322.1,2358.7 L322.8,2361.1 L323.5,2362.0 L324.0,2361.6 L324.6,2360.5 L325.1,2358.7 L325.7,2356.3 L326.3,2353.4 L326.5,2351.8 L326.8,2350.2 L327.1,2348.4 L327.4,2346.7 L327.7,2344.8 L327.9,2343.0 L328.2,2341.1 L328.5,2339.2 L328.7,2337.3 L329.0,2335.4 L329.3,2333.6 L329.5,2331.7 L329.8,2330.0 L330.0,2328.2 L330.2,2326.3 L330.4,2324.4 L330.7,2322.5 L330.8,2320.8 L331.0,2319.1 L331.2,2317.4 L331.3,2315.7 L331.4,2314.1 L331.5,2312.6 L331.7,2311.1 L331.8,2309.5 L331.9,2308.0 L332.0,2306.3 L332.1,2304.7 L332.2,2303.1 L332.4,2301.4 L332.5,2299.8 L332.6,2298.1 L332.7,2296.4 L332.8,2294.7 L332.9,2293.1 L333.0,2291.4 L333.1,2289.7 L333.2,2288.1 L333.3,2286.4 L333.4,2284.7 L333.5,2283.1 L333.6,2281.5 L333.7,2279.9 L333.8,2278.3 L333.9,2276.8 L334.0,2275.2 L334.2,2273.4 L334.3,2271.6 L334.4,2269.8 L334.5,2268.0 L334.7,2266.5 L334.8,2265.0 L334.9,2263.5 L335.0,2261.9 L335.2,2260.3 L335.3,2258.8 L335.5,2257.2 L335.8,2255.6 L336.0,2254.1 L336.5,2253.0 L337.0,2253.8 L337.4,2256.0 L337.6,2257.8 L337.9,2259.5 L338.0,2261.1 L338.2,2262.6 L338.3,2264.1 L338.5,2265.9 L338.6,2267.7 L338.8,2269.5 L338.9,2271.1 L339.0,2272.6 L339.1,2274.1 L339.2,2275.6 L339.3,2277.3 L339.4,2278.9 L339.5,2280.6 L339.6,2282.2 L339.7,2283.9 L339.8,2285.6 L339.9,2287.3 L340.1,2289.0 L340.2,2290.8 L340.3,2292.5 L340.4,2294.2 L340.5,2296.0 L340.6,2297.7 L340.7,2299.4 L340.8,2301.1 L340.9,2302.8 L341.0,2304.4 L341.1,2306.0 L341.2,2307.7 L341.3,2309.3 L341.4,2310.8 L341.5,2312.3 L341.6,2313.8 L341.7,2315.3 L341.8,2317.1 L341.9,2318.8 L342.0,2320.6 L342.1,2322.4 L342.2,2323.9 L342.3,2325.4 L342.3,2326.9 L342.4,2328.4 L342.5,2329.9 L342.6,2331.5 L342.6,2333.0 L342.7,2334.6 L342.7,2336.1 L342.8,2337.7 L342.8,2339.3 L342.9,2340.9 L343.0,2342.5 L343.0,2344.1 L343.1,2345.7 L343.1,2347.4 L343.2,2349.0 L343.2,2350.6 L343.3,2352.3 L343.3,2353.9 L343.4,2355.5 L343.4,2357.2 L343.5,2358.8 L343.5,2360.4 L343.6,2362.1 L343.7,2363.7 L343.7,2365.3 L343.8,2366.9 L343.9,2368.5 L343.9,2370.2 L344.0,2371.7 L344.1,2373.3 L344.1,2374.9 L344.2,2376.5 L344.3,2378.1 L344.4,2379.6 L344.5,2381.1 L344.6,2382.7 L344.7,2384.2 L344.8,2385.7 L344.9,2387.5 L345.0,2389.4 L345.2,2391.2 L345.3,2393.0 L345.5,2394.7 L345.7,2396.4 L345.9,2398.1 L346.0,2399.8 L346.3,2401.4 L346.5,2403.0 L346.7,2404.5 L346.9,2406.1 L347.2,2408.0 L347.5,2410.0 L347.9,2411.8 L348.2,2413.7 L348.5,2415.5 L348.9,2417.3 L349.2,2419.0 L349.6,2420.8 L350.0,2422.5 L350.3,2424.1 L350.7,2425.7 L351.1,2427.4 L351.6,2428.9 L352.0,2430.5 L352.4,2432.0 L352.9,2433.5 L353.4,2435.0 L353.9,2436.5 L354.4,2438.0 L354.9,2439.4 L355.4,2440.8 L356.0,2442.2 L356.6,2443.6 L357.2,2445.0 L358.2,2447.3 L359.3,2449.6 L360.4,2451.9 L361.6,2454.1 L362.8,2456.3 L364.1,2458.4 L365.4,2460.4 L366.7,2462.3 L368.1,2464.1 L369.6,2465.7 L371.2,2467.1 L372.8,2468.4 L374.3,2469.3 L375.9,2470.1 L377.5,2470.7 L379.2,2471.1 L380.9,2471.5 L382.6,2471.8 L384.4,2472.0 L386.3,2472.3 L388.1,2472.5 L389.9,2472.8 L391.8,2473.2 L393.6,2473.6 L395.7,2474.2 L397.8,2474.9 L399.9,2475.6 L402.1,2476.3 L404.3,2477.1 L406.5,2477.9 L408.8,2478.6 L411.0,2479.3 L413.1,2480.0 L415.3,2480.5 L417.4,2481.0 L419.5,2481.4 L421.3,2481.6 L423.0,2481.8 L424.8,2481.9 L426.5,2481.9 L428.2,2481.9 L429.9,2481.8 L431.6,2481.7 L433.2,2481.7 L434.9,2481.7 L436.6,2481.6 L438.3,2481.7 L440.0,2481.8 L441.7,2482.0 L443.4,2482.2 L445.1,2482.6 L446.8,2482.9 L448.5,2483.3 L450.2,2483.6 L451.9,2484.0 L453.6,2484.3 L455.3,2484.6 L457.0,2484.8 L458.7,2484.9 L460.4,2484.9 L462.1,2484.8 L463.8,2484.6 L465.5,2484.4 L467.2,2484.1 L468.9,2483.7 L470.6,2483.3 L472.3,2482.9 L474.0,2482.4 L475.7,2482.0 L477.4,2481.6 L479.1,2481.2 L480.8,2480.8 L482.5,2480.5 L484.2,2480.1 L486.0,2479.8 L487.7,2479.5 L489.5,2479.2 L491.2,2478.9 L493.0,2478.6 L494.7,2478.2 L496.4,2477.9 L498.0,2477.5 L499.6,2477.1 L501.2,2476.7 L502.6,2476.3 L504.0,2475.7 L505.3,2475.2 L506.6,2474.6 L507.9,2474.0 L509.2,2473.4 L510.5,2472.9 L511.7,2472.4 L513.0,2472.0 L514.2,2471.7 L515.5,2471.6 L516.9,2471.7 L518.3,2472.0 L519.8,2472.5 L521.2,2473.1 L522.6,2473.8 L523.9,2474.3 L525.3,2474.7 L526.6,2474.9 L527.8,2474.7 L529.0,2474.3 L530.1,2473.6 L531.1,2472.9 L532.2,2471.9 L533.2,2470.8 L534.2,2469.7 L535.2,2468.4 L536.1,2467.2 L537.1,2465.8 L538.0,2464.5 L539.0,2463.0 L539.9,2461.3 L540.8,2459.6 L541.7,2457.7 L542.5,2455.8 L543.4,2453.8 L544.2,2451.8 L545.0,2449.8 L545.8,2447.8 L546.6,2445.8 L547.4,2443.9 L548.2,2442.0 L549.0,2440.2 L549.7,2438.3 L550.5,2436.4 L551.3,2434.5 L552.0,2432.6 L552.8,2430.7 L553.5,2428.9 L554.3,2427.1 L555.0,2425.5 L555.8,2424.0 L556.5,2422.7 L557.3,2421.6 L558.3,2420.4 L559.2,2419.4 L560.1,2418.5 L561.2,2418.0 L562.4,2417.6 L563.4,2417.6 L564.6,2417.9 L565.8,2418.4 L567.2,2419.0 L568.5,2419.8 L570.0,2420.5 L571.4,2421.3 L572.8,2421.9 L574.2,2422.4 L575.5,2422.7 L576.7,2422.7 L578.0,2422.4 L579.2,2422.0 L580.4,2421.4 L581.6,2420.7 L582.7,2419.8 L583.9,2418.8 L584.9,2417.8 L585.9,2416.7 L586.9,2415.5 L587.8,2414.2 L588.6,2412.8 L589.4,2411.3 L590.2,2409.7 L590.9,2408.0 L591.5,2406.2 L592.2,2404.4 L592.8,2402.5 L593.4,2400.7 L593.9,2398.8 L594.5,2396.9 L595.1,2395.1 L595.7,2393.2 L596.3,2391.2 L596.9,2389.2 L597.4,2387.2 L597.9,2385.2 L598.4,2383.1 L598.9,2381.1 L599.4,2379.0 L599.9,2376.9 L600.3,2374.8 L600.8,2372.7 L601.2,2370.6 L601.6,2368.5 L602.1,2366.4 L602.5,2364.4 L602.8,2362.5 L603.2,2360.5 L603.6,2358.5 L603.9,2356.4 L604.3,2354.2 L604.6,2351.8 L605.0,2349.2 L605.3,2346.4 L605.5,2344.8 L605.7,2343.3 L605.9,2341.6 L606.1,2339.9 L606.3,2338.1 L606.4,2336.4 L606.6,2334.7 L606.8,2333.0 L606.9,2331.3 L607.1,2329.5 L607.2,2327.8 L607.4,2326.1 L607.6,2324.4 L607.7,2322.7 L607.8,2321.1 L608.0,2319.4 L608.1,2317.7 L608.2,2316.0 L608.4,2314.4 L608.5,2312.7 L608.6,2311.1 L608.8,2309.5 L608.9,2307.9 L609.0,2306.3 L609.1,2304.7 L609.3,2303.1 L609.4,2301.4 L609.5,2299.8 L609.6,2298.3 L609.7,2296.8 L609.8,2295.2 L609.9,2293.7 L610.0,2292.2 L610.1,2290.7 L610.3,2289.1 L610.4,2287.6 L610.5,2286.1 L610.6,2284.5 L610.7,2282.9 L610.8,2281.3 L610.9,2279.7 L611.0,2278.1 L611.1,2276.5 L611.2,2274.9 L611.3,2273.3 L611.4,2271.7 L611.5,2270.0 L611.7,2268.4 L611.8,2266.7 L611.9,2265.1 L612.0,2263.5 L612.1,2261.8 L612.2,2260.2 L612.3,2258.5 L612.4,2256.9 L612.5,2255.2 L612.6,2253.6 L612.7,2251.9 L612.8,2250.2 L612.9,2248.6 L613.0,2246.9 L613.1,2245.3 L613.2,2243.6 L613.3,2241.9 L613.4,2240.3 L613.5,2238.7 L613.6,2237.0 L613.7,2235.4 L613.8,2233.7 L613.9,2232.1 L614.0,2230.4 L614.1,2228.8 L614.2,2227.1 L614.3,2225.5 L614.4,2223.9 L614.5,2222.3 L614.6,2220.7 L614.7,2219.1 L614.8,2217.5 L614.9,2215.9 L615.0,2214.3 L615.1,2212.7 L615.2,2211.2 L615.3,2209.6 L615.4,2208.1 L615.5,2206.6 L615.6,2205.0 L615.7,2203.5 L615.7,2202.0 L615.8,2200.4 L615.9,2198.9 L616.0,2197.3 L616.1,2195.7 L616.2,2194.1 L616.3,2192.5 L616.4,2190.8 L616.5,2189.2 L616.6,2187.6 L616.7,2186.0 L616.8,2184.4 L616.9,2182.9 L617.0,2181.3 L617.1,2179.7 L617.2,2178.2 L617.3,2176.6 L617.4,2175.0 L617.4,2173.5 L617.5,2172.0 L617.6,2170.4 L617.7,2168.9 L617.8,2167.3 L617.9,2165.8 L618.0,2164.2 L618.1,2162.7 L618.2,2161.2 L618.2,2159.7 L618.3,2158.2 L618.4,2156.6 L618.5,2155.1 L618.6,2153.6 L618.7,2152.1 L618.7,2150.6 L618.8,2149.1 L618.9,2147.6 L619.0,2146.1 L619.1,2144.6 L619.2,2143.1 L619.3,2141.3 L619.3,2139.6 L619.4,2137.9 L619.5,2136.1 L619.6,2134.4 L619.7,2132.6 L619.8,2130.9 L619.9,2129.2 L620.0,2127.5 L620.1,2125.7 L620.2,2124.0 L620.3,2122.3 L620.3,2120.6 L620.4,2118.8 L620.5,2117.1 L620.6,2115.4 L620.7,2113.7 L620.8,2112.0 L620.8,2110.3 L620.9,2108.5 L621.0,2106.8 L621.1,2105.1 L621.2,2103.4 L621.3,2101.7 L621.3,2100.0 L621.4,2098.3 L621.5,2096.5 L621.6,2094.8 L621.6,2093.1 L621.7,2091.4 L621.8,2089.7 L621.9,2088.0 L621.9,2086.2 L622.0,2084.5 L622.1,2082.8 L622.2,2081.1 L622.2,2079.4 L622.3,2077.6 L622.4,2075.9 L622.5,2074.2 L622.5,2072.5 L622.6,2070.7 L622.7,2069.0 L622.7,2067.3 L622.8,2065.5 L622.9,2063.8 L622.9,2062.0 L623.0,2060.3 L623.1,2058.8 L623.1,2057.3 L623.2,2055.8 L623.2,2054.3 L623.3,2052.8 L623.3,2051.3 L623.4,2049.8 L623.4,2048.2 L623.5,2046.7 L623.5,2045.2 L623.6,2043.7 L623.6,2042.2 L623.7,2040.6 L623.7,2039.1 L623.8,2037.6 L623.8,2036.1 L623.8,2034.5 L623.9,2033.0 L623.9,2031.5 L624.0,2030.0 L624.0,2028.4 L624.0,2026.9 L624.1,2025.4 L624.1,2023.8 L624.2,2022.3 L624.2,2020.8 L624.2,2019.2 L624.3,2017.7 L624.3,2016.2 L624.4,2014.6 L624.4,2013.1 L624.4,2011.6 L624.5,2010.0 L624.5,2008.5 L624.5,2007.0 L624.6,2005.4 L624.6,2003.9 L624.6,2002.4 L624.7,2000.9 L624.7,1999.3 L624.7,1997.8 L624.8,1996.3 L624.8,1994.8 L624.8,1993.2 L624.9,1991.7 L624.9,1990.2 L624.9,1988.7 L625.0,1987.2 L625.0,1985.6 L625.0,1984.1 L625.1,1982.6 L625.1,1981.1 L625.1,1979.6 L625.2,1978.1 L625.2,1976.6 L625.2,1975.1 L625.3,1973.4 L625.3,1971.6 L625.3,1969.9 L625.4,1968.2 L625.4,1966.4 L625.4,1964.7 L625.5,1963.0 L625.5,1961.3 L625.6,1959.6 L625.6,1957.8 L625.6,1956.1 L625.7,1954.4 L625.7,1952.7 L625.8,1951.1 L625.8,1949.4 L625.8,1947.7 L625.9,1946.0 L625.9,1944.4 L626.0,1942.7 L626.0,1941.1 L626.1,1939.4 L626.1,1937.8 L626.2,1936.1 L626.2,1934.5 L626.2,1932.8 L626.3,1931.2 L626.3,1929.5 L626.4,1927.8 L626.4,1926.1 L626.5,1924.5 L626.5,1922.8 L626.6,1921.2 L626.6,1919.5 L626.7,1917.9 L626.7,1916.3 L626.7,1914.6 L626.8,1913.0 L626.8,1911.4 L626.9,1909.7 L626.9,1908.1 L626.9,1906.5 L627.0,1904.9 L627.0,1903.3 L627.1,1901.7 L627.1,1900.1 L627.1,1898.5 L627.2,1896.9 L627.2,1895.4 L627.3,1893.8 L627.3,1892.2 L627.4,1890.6 L627.4,1889.0 L627.4,1887.5 L627.5,1885.9 L627.5,1884.4 L627.6,1882.8 L627.6,1881.2 L627.7,1879.7 L627.7,1878.1 L627.8,1876.6 L627.8,1875.0 L627.9,1873.5 L627.9,1872.0 L628.0,1870.4 L628.0,1868.9 L628.1,1867.4 L628.1,1865.8 L628.2,1864.3 L628.2,1862.8 L628.3,1861.2 L628.4,1859.7 L628.4,1858.2 L628.5,1856.7 L628.6,1855.2 L628.6,1853.7 L628.7,1852.1 L628.8,1850.6 L628.8,1849.1 L628.9,1847.6 L629.0,1846.1 L629.1,1844.6 L629.1,1843.1 L629.2,1841.6 L629.3,1840.1 L629.4,1838.3 L629.5,1836.4 L629.6,1834.6 L629.7,1832.8 L629.8,1831.2 L629.9,1829.6 L630.0,1828.0 L630.1,1826.4 L630.2,1824.8 L630.3,1823.1 L630.4,1821.4 L630.5,1819.7 L630.6,1818.0 L630.7,1816.2 L630.8,1814.5 L630.9,1812.8 L631.0,1811.0 L631.1,1809.3 L631.2,1807.5 L631.3,1805.8 L631.4,1804.1 L631.5,1802.3 L631.7,1800.6 L631.8,1798.9 L631.9,1797.2 L632.0,1795.5 L632.1,1793.9 L632.2,1792.2 L632.3,1790.5 L632.5,1789.0 L632.6,1787.4 L632.7,1785.8 L632.8,1784.3 L632.9,1782.7 L633.1,1781.0 L633.2,1779.3 L633.4,1777.5 L633.5,1775.8 L633.7,1773.8 L633.9,1771.9 L634.1,1769.9 L634.2,1768.4 L634.4,1766.9 L634.6,1765.4 L635.1,1762.5 L635.6,1761.5 L636.1,1762.5 L636.5,1765.4 L636.6,1766.9 L636.8,1768.4 L636.9,1769.9 L637.1,1771.9 L637.2,1773.8 L637.3,1775.8 L637.5,1777.5 L637.6,1779.3 L637.7,1781.0 L637.8,1782.7 L637.8,1784.3 L637.9,1785.9 L638.0,1787.4 L638.1,1789.0 L638.2,1790.5 L638.2,1792.2 L638.3,1793.9 L638.4,1795.5 L638.5,1797.2 L638.5,1798.9 L638.6,1800.6 L638.7,1802.3 L638.8,1804.1 L638.8,1805.8 L638.9,1807.5 L639.0,1809.3 L639.1,1811.0 L639.1,1812.8 L639.2,1814.5 L639.3,1816.3 L639.4,1818.0 L639.4,1819.7 L639.5,1821.4 L639.6,1823.1 L639.6,1824.8 L639.7,1826.4 L639.8,1828.0 L639.8,1829.6 L639.9,1831.2 L640.0,1832.8 L640.1,1834.6 L640.1,1836.4 L640.2,1838.3 L640.3,1840.1 L640.4,1841.6 L640.4,1843.1 L640.5,1844.6 L640.6,1846.1 L640.6,1847.6 L640.7,1849.1 L640.8,1850.6 L640.8,1852.2 L640.9,1853.7 L641.0,1855.2 L641.0,1856.7 L641.1,1858.2 L641.1,1859.7 L641.2,1861.3 L641.3,1862.8 L641.3,1864.3 L641.4,1865.8 L641.4,1867.4 L641.5,1868.9 L641.5,1870.4 L641.6,1872.0 L641.6,1873.5 L641.7,1875.0 L641.7,1876.6 L641.8,1878.1 L641.9,1879.7 L641.9,1881.2 L642.0,1882.8 L642.0,1884.4 L642.1,1885.9 L642.1,1887.5 L642.2,1889.1 L642.2,1890.6 L642.3,1892.2 L642.3,1893.8 L642.4,1895.4 L642.4,1896.9 L642.4,1898.5 L642.5,1900.1 L642.5,1901.7 L642.6,1903.3 L642.6,1904.9 L642.7,1906.5 L642.7,1908.1 L642.8,1909.7 L642.8,1911.4 L642.9,1913.0 L642.9,1914.6 L643.0,1916.3 L643.0,1917.9 L643.1,1919.5 L643.1,1921.2 L643.2,1922.8 L643.2,1924.5 L643.3,1926.1 L643.3,1927.8 L643.4,1929.5 L643.4,1931.2 L643.5,1932.8 L643.5,1934.5 L643.5,1936.1 L643.6,1937.8 L643.6,1939.4 L643.7,1941.1 L643.7,1942.7 L643.8,1944.4 L643.8,1946.0 L643.9,1947.7 L643.9,1949.4 L643.9,1951.1 L644.0,1952.7 L644.0,1954.4 L644.1,1956.1 L644.1,1957.8 L644.1,1959.6 L644.2,1961.3 L644.2,1963.0 L644.2,1964.7 L644.3,1966.4 L644.3,1968.2 L644.4,1969.9 L644.4,1971.6 L644.4,1973.4 L644.5,1975.1 L644.5,1976.6 L644.5,1978.1 L644.6,1979.6 L644.6,1981.1 L644.6,1982.6 L644.6,1984.1 L644.7,1985.6 L644.7,1987.2 L644.7,1988.7 L644.8,1990.2 L644.8,1991.7 L644.8,1993.2 L644.9,1994.8 L644.9,1996.3 L644.9,1997.8 L645.0,1999.3 L645.0,2000.9 L645.0,2002.4 L645.0,2003.9 L645.1,2005.4 L645.1,2007.0 L645.1,2008.5 L645.2,2010.0 L645.2,2011.6 L645.3,2013.1 L645.3,2014.6 L645.3,2016.2 L645.4,2017.7 L645.4,2019.2 L645.4,2020.8 L645.5,2022.3 L645.5,2023.8 L645.5,2025.4 L645.6,2026.9 L645.6,2028.4 L645.7,2030.0 L645.7,2031.5 L645.7,2033.0 L645.8,2034.5 L645.8,2036.1 L645.9,2037.6 L645.9,2039.1 L646.0,2040.6 L646.0,2042.2 L646.0,2043.7 L646.1,2045.2 L646.1,2046.7 L646.2,2048.2 L646.2,2049.8 L646.3,2051.3 L646.3,2052.8 L646.4,2054.3 L646.4,2055.8 L646.5,2057.3 L646.5,2058.8 L646.6,2060.3 L646.7,2062.0 L646.7,2063.8 L646.8,2065.5 L646.9,2067.3 L646.9,2069.0 L647.0,2070.7 L647.1,2072.5 L647.1,2074.2 L647.2,2075.9 L647.3,2077.6 L647.4,2079.4 L647.4,2081.1 L647.5,2082.8 L647.6,2084.5 L647.6,2086.2 L647.7,2088.0 L647.8,2089.7 L647.9,2091.4 L647.9,2093.1 L648.0,2094.8 L648.1,2096.5 L648.2,2098.3 L648.3,2100.0 L648.3,2101.7 L648.4,2103.4 L648.5,2105.1 L648.6,2106.8 L648.7,2108.5 L648.7,2110.3 L648.8,2112.0 L648.9,2113.7 L649.0,2115.4 L649.1,2117.1 L649.2,2118.8 L649.3,2120.6 L649.3,2122.3 L649.4,2124.0 L649.5,2125.7 L649.6,2127.5 L649.7,2129.2 L649.8,2130.9 L649.9,2132.6 L650.0,2134.4 L650.1,2136.1 L650.2,2137.9 L650.2,2139.6 L650.3,2141.3 L650.4,2143.1 L650.5,2144.6 L650.6,2146.1 L650.7,2147.6 L650.8,2149.1 L650.8,2150.6 L650.9,2152.1 L651.0,2153.6 L651.1,2155.1 L651.2,2156.6 L651.3,2158.2 L651.4,2159.7 L651.4,2161.2 L651.5,2162.7 L651.6,2164.2 L651.7,2165.8 L651.8,2167.3 L651.9,2168.9 L652.0,2170.4 L652.1,2172.0 L652.2,2173.5 L652.2,2175.0 L652.3,2176.6 L652.4,2178.2 L652.5,2179.7 L652.6,2181.3 L652.7,2182.9 L652.8,2184.4 L652.9,2186.0 L653.0,2187.6 L653.1,2189.2 L653.2,2190.8 L653.3,2192.4 L653.4,2194.0 L653.5,2195.6 L653.6,2197.2 L653.7,2198.8 L653.8,2200.4 L653.9,2201.9 L654.0,2203.4 L654.0,2204.9 L654.1,2206.4 L654.2,2207.9 L654.3,2209.4 L654.4,2210.9 L654.5,2212.5 L654.6,2214.0 L654.7,2215.6 L654.8,2217.2 L654.9,2218.8 L655.0,2220.3 L655.1,2221.9 L655.2,2223.5 L655.3,2225.1 L655.4,2226.6 L655.5,2228.2 L655.6,2229.9 L655.7,2231.5 L655.8,2233.1 L655.9,2234.7 L656.0,2236.3 L656.1,2237.9 L656.2,2239.5 L656.3,2241.1 L656.4,2242.8 L656.5,2244.4 L656.6,2246.0 L656.8,2247.7 L656.9,2249.3 L657.0,2250.9 L657.1,2252.5 L657.2,2254.2 L657.3,2255.8 L657.4,2257.4 L657.5,2259.0 L657.6,2260.6 L657.7,2262.2 L657.8,2263.9 L657.9,2265.5 L658.0,2267.1 L658.1,2268.7 L658.3,2270.3 L658.4,2271.9 L658.5,2273.5 L658.6,2275.1 L658.7,2276.6 L658.8,2278.2 L658.9,2279.8 L659.0,2281.4 L659.1,2283.0 L659.2,2284.6 L659.3,2286.1 L659.5,2287.6 L659.6,2289.1 L659.7,2290.6 L659.8,2292.2 L659.9,2293.7 L660.0,2295.2 L660.1,2296.7 L660.2,2298.2 L660.3,2299.9 L660.5,2301.5 L660.6,2303.1 L660.7,2304.7 L660.8,2306.3 L660.9,2307.9 L661.1,2309.6 L661.2,2311.2 L661.3,2312.7 L661.4,2314.2 L661.5,2315.7 L661.7,2317.2 L661.8,2318.7 L661.9,2320.2 L662.0,2321.7 L662.1,2323.2 L662.3,2324.7 L662.4,2326.2 L662.5,2327.8 L662.6,2329.3 L662.8,2330.8 L662.9,2332.4 L663.0,2333.9 L663.2,2335.5 L663.3,2337.1 L663.5,2338.6 L663.6,2340.2 L663.8,2341.7 L663.9,2343.3 L664.1,2345.3 L664.3,2347.3 L664.5,2349.2 L664.7,2351.0 L664.8,2352.8 L665.0,2354.5 L665.2,2356.1 L665.3,2357.7 L665.5,2359.2 L665.6,2360.7 L666.0,2363.6 L666.3,2366.4 L666.7,2369.2 L667.1,2372.0 L667.5,2374.8 L668.0,2377.7 L668.3,2379.3 L668.6,2380.8 L668.9,2382.5 L669.3,2384.2 L669.6,2385.9 L670.0,2387.6 L670.3,2389.4 L670.7,2391.1 L671.1,2392.8 L671.5,2394.6 L671.9,2396.3 L672.4,2398.1 L672.8,2399.9 L673.2,2401.6 L673.7,2403.3 L674.1,2405.1 L674.6,2406.8 L675.1,2408.5 L675.5,2410.2 L676.0,2411.9 L676.5,2413.6 L676.9,2415.2 L677.4,2416.8 L677.9,2418.5 L678.3,2420.0 L678.8,2421.6 L679.6,2424.2 L680.3,2426.8 L681.0,2429.4 L681.8,2431.9 L682.5,2434.4 L683.2,2436.9 L684.0,2439.3 L684.9,2441.7 L685.8,2443.9 L686.8,2446.1 L687.8,2448.2 L689.0,2450.2 L690.1,2451.9 L691.3,2453.4 L692.5,2454.9 L693.8,2456.4 L695.1,2457.8 L696.5,2459.1 L697.9,2460.4 L699.3,2461.7 L700.8,2462.9 L702.3,2464.1 L703.8,2465.3 L705.3,2466.5 L706.9,2467.7 L708.5,2468.9 L710.1,2470.1 L711.8,2471.2 L713.5,2472.3 L715.2,2473.4 L716.9,2474.5 L718.6,2475.5 L720.4,2478.1 L722.2,2476.0 L723.9,2476.4 L725.7,2480.6 L727.4,2478.3 L729.1,2478.6 L730.8,2481.0 L732.5,2480.3 L734.3,2482.6 L736.1,2480.6 L737.8,2483.5 L739.5,2481.5 L741.2,2482.7 L742.9,2484.1 L744.5,2483.4 L746.1,2484.4 L747.5,2483.8 L748.9,2481.5 L750.2,2484.5 L751.4,2483.5 L752.6,2482.5 L753.9,2482.0 L755.2,2484.3 L756.7,2483.3 L758.2,2484.5 L760.0,2483.9 L761.7,2484.5 L763.4,2483.0 L765.3,2483.4 L767.2,2483.1 L769.4,2481.7 L771.5,2484.1 L773.1,2481.7 L774.6,2483.3 L776.1,2483.9 L777.7,2482.7 L779.4,2480.8 L781.0,2483.2 L782.7,2482.5 L784.4,2480.7 L786.1,2480.1 L787.8,2481.8 L789.5,2479.9 L791.2,2483.0 L793.0,2481.4 L794.7,2481.4 L796.5,2480.9 L798.2,2481.7 L799.9,2482.5 L801.7,2480.2 L803.4,2480.3 L805.1,2481.0 L806.8,2479.9 L808.5,2480.8 L810.1,2480.5 L811.8,2480.1 L813.3,2480.8 L814.9,2480.2 L816.5,2478.5 L818.7,2481.6 L820.9,2479.2 L823.0,2479.3 L825.2,2479.1 L827.4,2480.8 L829.5,2480.8 L831.7,2479.0 L833.8,2478.5 L836.0,2477.2 L838.1,2479.9 L840.3,2477.2 L842.4,2478.4 L844.5,2477.5 L846.6,2477.2 L848.8,2477.2 L850.9,2476.4 L853.0,2475.7 L855.1,2477.3 L857.2,2478.1 L859.3,2477.4 L861.4,2475.6 L863.4,2477.2 L865.5,2474.8 L867.6,2475.9 L869.6,2477.2 L871.6,2477.4 L873.7,2475.6 L875.8,2476.8 L877.9,2475.4 L880.0,2475.4 L882.2,2475.4 L884.3,2476.8 L886.4,2475.7 L888.6,2474.6 L890.7,2475.4 L892.8,2474.9 L894.8,2473.7 L896.9,2475.1 L898.8,2475.1 L900.8,2474.1 L902.6,2475.2 L904.4,2471.7 L906.1,2473.2 L907.8,2473.5 L909.3,2472.3 L910.8,2471.5 L913.5,2473.0 L915.1,2471.8 L916.4,2470.9 L917.5,2469.7 L918.6,2472.7 L919.7,2470.2 L920.8,2469.0 L922.1,2469.1 L923.7,2468.9 L926.4,2470.7 L928.0,2468.1 L929.6,2468.2 L931.4,2467.4 L933.2,2468.6 L935.1,2467.4 L937.0,2467.7 L939.1,2469.0 L941.1,2469.5 L943.3,2469.0 L945.4,2466.0 L947.6,2467.0 L949.7,2468.6 L951.9,2465.5 L954.1,2466.0 L956.2,2466.8 L958.3,2466.3 L960.3,2467.5 L962.3,2467.3 L964.2,2466.2 L966.1,2465.3 L967.9,2465.1 L969.6,2465.2 L971.9,2464.3 L974.1,2466.3 L976.2,2464.3 L978.1,2466.8 L980.1,2465.8 L982.0,2463.6 L983.9,2465.1 L985.9,2465.4 L987.9,2463.3 L990.1,2464.8 L992.5,2463.1 L995.1,2465.7 L996.8,2462.9 L998.4,2465.1 L1000.1,2466.4 L1002.0,2465.9 L1003.9,2463.7 L1005.8,2464.7 L1007.3,2463.3 L1008.9,2464.1 L1010.4,2465.9 L1012.0,2465.8 L1013.6,2462.9 L1015.2,2464.3 L1016.9,2465.2 L1018.5,2463.6 L1020.3,2465.8 L1022.0,2466.2 L1023.7,2465.0 L1025.4,2464.3 L1027.2,2466.1 L1028.9,2464.9 L1030.7,2463.8 L1032.4,2464.1 L1034.2,2463.7 L1036.0,2466.2 L1037.7,2465.0 L1039.5,2465.7 L1041.3,2466.2 L1043.0,2466.7 L1044.8,2463.9 L1046.5,2464.7 L1048.2,2466.4 L1049.9,2466.0 L1051.7,2464.7 L1053.4,2465.6 L1055.0,2464.0 L1056.6,2463.8 L1058.3,2463.4 L1059.9,2464.6 L1061.4,2464.0 L1063.0,2465.0 L1064.5,2466.6 L1066.0,2463.7 L1067.9,2465.0 L1069.7,2466.1 L1071.6,2465.1 L1073.5,2464.7 L1075.3,2465.4 L1077.2,2462.6 L1079.0,2465.8 L1080.9,2464.6 L1082.7,2464.9 L1084.5,2464.8 L1086.3,2461.9 L1088.0,2461.6 L1089.7,2461.8 L1091.4,2462.8 L1093.1,2464.1 L1094.7,2463.8 L1096.4,2461.8 L1097.9,2462.4 L1099.4,2462.6 L1102.4,2460.8 L1105.1,2462.8 L1107.6,2462.6 L1109.9,2461.7 L1111.6,2462.4 L1113.1,2462.1 L1114.4,2461.8 L1115.6,2460.7 L1116.9,2460.8 L1118.3,2460.8 L1120.0,2460.3 L1122.0,2463.5 L1124.3,2461.4 L1126.8,2460.4 L1129.4,2461.5 L1132.2,2460.8 L1135.0,2462.0 L1137.9,2461.7 L1140.7,2461.2 L1143.5,2462.4 L1146.3,2462.3 L1148.9,2462.2 L1151.3,2464.1 L1153.2,2462.5 L1155.0,2463.7 L1156.8,2465.2 L1158.6,2465.8 L1160.3,2464.0 L1162.0,2463.2 L1163.7,2466.9 L1165.3,2465.7 L1167.0,2465.0 L1168.7,2465.1 L1170.4,2465.9 L1172.1,2466.5 L1173.8,2466.3 L1175.5,2466.4 L1177.1,2470.3 L1178.7,2470.1 L1180.3,2468.1 L1181.9,2469.9 L1183.6,2471.5 L1185.3,2470.9 L1187.1,2469.7 L1188.9,2471.1 L1190.9,2471.6 L1193.0,2473.9 L1194.7,2472.9 L1196.5,2472.7 L1198.3,2473.5 L1200.2,2471.5 L1202.1,2474.0 L1204.1,2474.5 L1206.1,2474.1 L1208.1,2473.1 L1210.3,2472.9 L1212.4,2472.0 L1214.6,2472.3 L1216.8,2472.6 L1218.3,2473.7 L1219.8,2474.9 L1221.3,2472.9 L1222.9,2473.8 L1224.4,2474.4 L1225.9,2474.4 L1227.5,2472.3 L1229.1,2475.5 L1230.7,2474.3 L1232.3,2473.4 L1233.8,2473.2 L1235.4,2474.8 L1237.0,2475.7 L1238.6,2473.6 L1240.3,2473.9 L1241.9,2474.5 L1243.5,2473.2 L1245.1,2474.1 L1246.7,2476.0 L1248.2,2474.7 L1249.8,2475.7 L1251.3,2473.8 L1252.9,2476.0 L1254.5,2475.8 L1256.1,2473.8 L1257.7,2475.0 L1259.4,2475.6 L1261.0,2475.3 L1262.7,2475.5 L1264.3,2474.2 L1266.0,2475.4 L1267.6,2474.8 L1269.3,2476.4 L1271.0,2475.0 L1272.7,2477.2 L1274.4,2475.9 L1276.1,2474.7 L1277.9,2475.4 L1279.6,2474.4 L1281.3,2476.7 L1283.1,2474.3 L1284.8,2476.4 L1286.6,2475.4 L1288.4,2477.1 L1290.1,2474.8 L1291.9,2476.9 L1293.7,2477.1 L1295.5,2475.4 L1297.3,2475.1 L1299.1,2476.1 L1300.9,2477.1 L1302.7,2475.8 L1304.5,2475.0 L1306.3,2476.6 L1308.2,2478.0 L1310.0,2475.7 L1311.8,2478.6 L1313.7,2477.1 L1315.5,2475.9 L1317.4,2475.8 L1319.2,2476.8 L1321.1,2477.3 L1322.9,2476.2 L1324.8,2476.0 L1326.6,2477.5 L1328.5,2476.7 L1330.2,2477.5 L1331.9,2477.5 L1333.6,2478.5 L1335.3,2478.1 L1337.1,2476.9 L1338.8,2476.8 L1340.5,2479.3 L1342.1,2476.4 L1343.8,2476.8 L1345.5,2476.6 L1347.2,2479.4 L1348.9,2478.4 L1350.6,2479.9 L1352.3,2478.9 L1354.0,2477.9 L1355.7,2478.3 L1357.4,2479.4 L1359.1,2477.7 L1360.8,2479.8 L1362.5,2478.4 L1364.3,2477.1 L1366.0,2478.3 L1367.7,2479.1 L1369.4,2477.7 L1371.2,2480.5 L1372.9,2480.6 L1374.7,2479.2 L1376.5,2480.6 L1378.2,2479.9 L1380.0,2479.4 L1381.5,2478.1 L1383.0,2481.0 L1384.5,2480.9 L1386.0,2479.3 L1387.5,2479.1 L1389.0,2478.0 L1390.6,2480.0 L1392.1,2480.9 L1393.7,2479.3 L1395.3,2479.0 L1396.8,2480.2 L1398.4,2480.9 L1400.0,2478.6 L1401.6,2479.1 L1403.2,2480.4 L1404.8,2478.3 L1406.5,2481.1 L1408.1,2479.4 L1409.8,2481.3 L1411.5,2480.0 L1413.1,2479.0 L1414.8,2478.5 L1416.5,2478.8 L1418.2,2479.4 L1419.7,2481.2 L1421.2,2481.4 L1422.8,2480.8 L1424.3,2479.7 L1425.8,2481.0 L1427.3,2481.3 L1428.8,2480.0 L1430.4,2479.0 L1432.0,2480.4 L1433.6,2479.6 L1435.2,2479.5 L1436.8,2480.2 L1438.4,2479.1 L1440.0,2482.1 L1441.6,2479.9 L1443.2,2482.2 L1444.8,2481.6 L1446.5,2479.0 L1448.1,2482.3 L1449.7,2482.0 L1451.3,2481.0 L1452.9,2482.3 L1454.5,2480.8 L1456.1,2479.2 L1457.7,2479.7 L1459.4,2480.3 L1461.0,2482.3 L1462.6,2482.2 L1464.2,2479.7 L1465.8,2480.5 L1467.4,2479.7 L1469.0,2480.1 L1470.7,2480.6 L1472.3,2480.8 L1473.9,2479.9 L1475.5,2481.8 L1477.1,2480.3 L1478.7,2482.6 L1480.3,2481.2 L1481.9,2481.0 L1483.5,2482.2 L1485.1,2480.7 L1486.7,2480.4 L1488.3,2480.0 L1489.9,2480.6 L1491.5,2480.4 L1493.1,2482.2 L1494.7,2480.9 L1496.3,2482.1 L1497.9,2480.6 L1499.5,2479.9 L1501.1,2480.7 L1502.8,2481.1 L1504.3,2482.9 L1505.9,2480.4 L1507.5,2480.5 L1509.0,2480.3 L1510.6,2480.6 L1512.2,2483.2 L1513.8,2483.1 L1515.3,2480.6 L1516.9,2479.9 L1518.5,2481.5 L1520.0,2481.9 L1521.6,2480.2 L1523.2,2481.3 L1524.8,2482.6 L1526.3,2479.8 L1527.9,2482.4 L1529.4,2482.3 L1530.9,2482.7 L1532.5,2481.6 L1534.0,2481.6 L1535.5,2481.8 L1537.0,2480.4 L1538.6,2481.8 L1540.1,2480.8 L1541.6,2481.1 L1543.2,2480.1 L1544.7,2480.5 L1546.2,2480.2 L1547.8,2481.9 L1549.3,2480.8 L1550.8,2482.0 L1552.4,2481.8 L1554.0,2480.9 L1555.6,2480.5 L1557.1,2482.2 L1558.7,2482.5 L1560.3,2482.5 L1561.9,2481.9 L1563.4,2482.2 L1565.0,2480.2 L1566.6,2481.2 L1568.2,2483.0 L1569.8,2481.5 L1571.3,2480.5 L1572.9,2481.6 L1574.5,2483.1 L1576.1,2480.5 L1577.6,2480.5 L1579.1,2481.9 L1580.6,2483.3 L1582.1,2481.6 L1583.6,2481.1 L1585.1,2482.9 L1586.6,2480.5 L1588.1,2481.3 L1589.7,2482.3 L1591.2,2483.3 L1592.7,2483.3 L1594.2,2481.4 L1595.7,2481.2 L1597.2,2481.5 L1598.7,2480.7 L1600.2,2481.2 L1601.7,2483.0 L1603.3,2483.8 L1604.8,2481.2 L1606.3,2480.5 L1607.8,2482.9 L1609.4,2483.8 L1610.9,2483.2 L1612.4,2481.8 L1613.9,2483.0 L1615.5,2483.1 L1617.0,2483.0 L1618.5,2482.1 L1620.0,2483.9 L1621.6,2483.2 L1623.1,2481.2 L1624.6,2481.9 L1626.1,2480.7 L1627.7,2481.7 L1629.2,2483.3 L1630.7,2482.1 L1632.2,2482.3 L1633.8,2483.2 L1635.3,2480.7 L1636.8,2481.7 L1638.3,2482.2 L1639.9,2482.2 L1641.4,2482.9 L1642.9,2483.8 L1644.4,2483.3 L1646.0,2482.4 L1647.5,2482.9 L1649.0,2482.4 L1650.5,2484.0 L1652.1,2482.6 L1653.6,2482.6 L1655.1,2481.9 L1656.6,2482.0 L1658.1,2483.3 L1659.6,2481.9 L1661.1,2483.8 L1662.6,2483.1 L1664.2,2484.0 L1665.7,2483.1 L1667.2,2482.6 L1668.7,2481.9 L1670.2,2480.6 L1671.7,2483.0 L1673.2,2483.3 L1674.7,2483.2 L1676.2,2483.3 L1677.8,2480.7 L1679.3,2483.1 L1680.8,2481.6 L1682.4,2482.0 L1684.0,2483.8 L1685.6,2482.1 L1687.1,2482.3 L1688.7,2480.8 L1690.3,2481.3 L1691.9,2481.4 L1693.5,2481.5 L1695.0,2482.6 L1696.6,2480.9 L1698.2,2481.0 L1699.8,2481.0 L1701.3,2483.4 L1702.9,2484.2 L1704.5,2483.4 L1706.0,2482.6 L1707.6,2481.2 L1709.1,2483.6 L1710.6,2481.3 L1712.1,2481.1 L1713.7,2482.6 L1715.2,2483.9 L1716.7,2481.9 L1718.3,2483.9 L1719.8,2482.0 L1721.3,2484.3 L1722.9,2483.5 L1724.4,2484.0 L1725.9,2484.4 L1727.5,2483.8 L1729.0,2481.6" fill="none" stroke="#ff0000" stroke-width="7" stroke-linejoin="round" stroke-linecap="round"/>
</g>
<clipPath id="ic"><rect x="1180.5" y="1442" width="1547.5" height="404.5"/></clipPath>
<path d="M1181.0,1814.6 L1182.8,1811.8 L1184.5,1831.1 L1186.3,1807.6 L1188.0,1820.1 L1189.8,1816.9 L1191.5,1801.4 L1193.3,1818.7 L1195.0,1808.3 L1196.8,1821.2 L1198.5,1798.7 L1200.3,1802.5 L1202.1,1806.9 L1203.9,1829.8 L1205.6,1809.1 L1207.3,1799.7 L1208.5,1755.0 L1209.5,1818.0 L1209.0,1827.0 L1210.5,1835.1 L1211.9,1820.3 L1213.4,1815.4 L1214.8,1822.8 L1216.2,1796.5 L1217.5,1827.2 L1218.8,1804.0 L1220.0,1802.2 L1220.8,1801.7 L1221.5,1802.2 L1222.2,1822.1 L1222.8,1804.1 L1223.4,1820.4 L1224.0,1814.7 L1224.4,1808.9 L1224.7,1809.9 L1225.1,1799.2 L1225.4,1794.3 L1225.8,1793.8 L1226.1,1818.0 L1226.5,1810.4 L1226.9,1803.6 L1227.2,1807.2 L1227.7,1795.7 L1228.1,1789.2 L1228.5,1802.2 L1229.3,1794.6 L1230.0,1794.1 L1230.7,1795.4 L1231.4,1801.4 L1232.2,1803.6 L1233.0,1799.1 L1233.8,1787.1 L1234.7,1804.5 L1235.5,1781.6 L1236.4,1788.9 L1237.2,1797.2 L1238.1,1780.9 L1239.0,1789.1 L1239.8,1776.8 L1240.6,1792.5 L1241.5,1794.4 L1242.2,1788.7 L1243.0,1795.8 L1243.9,1780.0 L1244.8,1788.8 L1245.4,1785.3 L1245.9,1784.0 L1246.5,1779.9 L1247.0,1788.9 L1247.6,1790.7 L1248.1,1777.5 L1248.7,1781.4 L1249.2,1764.7 L1249.7,1780.4 L1250.2,1777.9 L1250.8,1785.9 L1251.3,1780.5 L1251.8,1765.5 L1252.3,1767.2 L1252.8,1773.5 L1253.3,1755.8 L1253.9,1766.3 L1254.4,1757.8 L1255.2,1755.2 L1256.0,1752.5 L1256.6,1770.2 L1257.3,1752.8 L1258.6,1754.5 L1259.9,1757.0 L1261.3,1768.3 L1262.5,1746.5 L1263.8,1754.8 L1264.9,1756.0 L1266.0,1763.0 L1266.6,1759.9 L1267.2,1759.7 L1267.5,1743.5 L1267.8,1746.0 L1268.1,1743.5 L1268.3,1756.0 L1268.6,1756.7 L1268.8,1734.6 L1269.0,1734.0 L1269.2,1734.3 L1269.5,1733.1 L1269.7,1738.5 L1269.9,1740.0 L1270.1,1730.3 L1270.4,1722.4 L1270.6,1732.0 L1270.9,1729.6 L1271.2,1733.6 L1271.5,1742.6 L1271.8,1734.7 L1272.2,1729.2 L1272.6,1731.0 L1273.0,1731.6 L1273.6,1714.5 L1274.1,1735.6 L1274.8,1731.6 L1275.4,1733.3 L1276.0,1730.5 L1276.7,1719.2 L1278.1,1718.0 L1279.6,1709.0 L1280.3,1722.1 L1281.0,1706.5 L1281.8,1706.0 L1282.5,1708.9 L1283.3,1707.0 L1284.0,1710.8 L1284.9,1702.5 L1285.7,1700.3 L1286.6,1703.4 L1287.5,1701.2 L1288.4,1707.2 L1289.4,1697.6 L1290.3,1718.8 L1291.2,1711.2 L1292.2,1698.2 L1293.1,1700.0 L1294.0,1701.5 L1294.9,1700.9 L1295.7,1693.6 L1296.5,1711.4 L1297.3,1714.0 L1298.0,1699.1 L1298.6,1698.4 L1299.1,1686.9 L1299.7,1686.1 L1300.1,1691.4 L1300.4,1688.3 L1300.8,1702.0 L1301.1,1683.7 L1301.4,1679.0 L1301.7,1702.0 L1302.0,1690.0 L1302.3,1679.0 L1302.6,1688.1 L1302.9,1673.6 L1303.1,1685.5 L1303.4,1696.0 L1303.7,1691.9 L1303.9,1686.4 L1304.2,1673.9 L1304.4,1675.4 L1304.7,1669.1 L1305.0,1683.6 L1305.2,1676.2 L1305.5,1681.4 L1305.8,1668.6 L1306.1,1664.6 L1306.4,1678.8 L1306.7,1682.1 L1307.0,1677.6 L1307.3,1675.2 L1307.7,1674.4 L1308.0,1671.2 L1308.4,1656.7 L1308.8,1663.1 L1309.2,1657.7 L1309.5,1648.0 L1309.9,1647.0 L1310.2,1652.6 L1310.5,1651.0 L1310.8,1661.3 L1311.1,1667.2 L1311.4,1652.9 L1311.8,1664.7 L1312.1,1665.0 L1312.4,1663.1 L1312.7,1646.8 L1313.1,1642.0 L1313.4,1641.2 L1313.8,1639.4 L1314.1,1638.6 L1314.4,1648.5 L1314.8,1654.7 L1315.1,1652.2 L1315.5,1641.8 L1315.8,1645.4 L1316.2,1648.2 L1316.6,1628.5 L1317.1,1642.3 L1317.6,1647.7 L1318.0,1643.2 L1318.5,1641.3 L1319.0,1633.2 L1319.5,1624.4 L1320.0,1639.2 L1320.5,1626.4 L1321.0,1637.7 L1321.5,1641.2 L1322.0,1625.3 L1322.8,1624.3 L1323.5,1637.4 L1324.3,1630.7 L1325.1,1615.3 L1325.9,1613.3 L1326.7,1613.1 L1327.5,1631.9 L1328.4,1628.5 L1329.2,1610.6 L1330.1,1627.5 L1330.9,1630.7 L1331.7,1621.5 L1332.6,1612.7 L1333.4,1617.0 L1334.2,1605.3 L1335.0,1601.4 L1335.8,1625.2 L1336.7,1615.9 L1337.5,1611.7 L1338.3,1621.2 L1339.2,1607.2 L1340.0,1617.5 L1340.8,1615.3 L1341.6,1598.2 L1342.4,1598.2 L1343.3,1598.2 L1344.1,1595.8 L1344.9,1603.7 L1345.6,1594.1 L1346.4,1597.1 L1347.2,1588.5 L1348.0,1607.7 L1348.7,1592.0 L1349.5,1593.5 L1350.2,1595.5 L1350.8,1602.5 L1351.5,1588.6 L1352.1,1600.2 L1352.8,1588.0 L1353.4,1587.5 L1354.1,1586.0 L1354.8,1571.6 L1355.5,1581.4 L1356.3,1573.5 L1357.2,1567.8 L1358.0,1587.4 L1359.0,1570.3 L1360.0,1577.3 L1361.2,1583.3 L1362.3,1578.3 L1363.6,1571.9 L1364.9,1576.5 L1366.3,1577.2 L1367.7,1583.0 L1369.1,1565.2 L1370.6,1576.9 L1371.6,1568.8 L1372.6,1569.4 L1373.6,1582.3 L1374.6,1575.3 L1375.7,1576.7 L1376.7,1581.8 L1377.8,1585.6 L1378.8,1573.3 L1379.9,1577.6 L1380.9,1574.6 L1382.0,1574.5 L1383.0,1579.0 L1384.0,1572.5 L1385.0,1574.4 L1386.0,1572.7 L1387.0,1584.5 L1388.1,1577.9 L1389.2,1582.3 L1390.3,1583.7 L1391.3,1565.7 L1392.5,1573.2 L1393.6,1582.9 L1394.7,1579.9 L1395.8,1561.4 L1396.9,1560.7 L1398.1,1568.7 L1399.2,1558.8 L1400.3,1562.8 L1401.5,1558.1 L1402.6,1573.2 L1403.7,1575.8 L1404.8,1578.4 L1405.9,1558.7 L1407.0,1572.9 L1408.1,1571.0 L1409.2,1557.1 L1410.2,1575.8 L1411.2,1577.5 L1412.2,1557.6 L1413.3,1576.1 L1414.2,1561.1 L1415.1,1562.9 L1416.1,1575.3 L1417.0,1570.6 L1417.9,1552.5 L1418.7,1558.7 L1419.6,1560.2 L1420.4,1554.9 L1421.2,1550.3 L1421.9,1552.6 L1422.7,1562.2 L1423.5,1543.0 L1424.2,1556.0 L1424.9,1552.0 L1425.6,1540.1 L1426.3,1547.3 L1427.0,1553.8 L1427.6,1549.9 L1428.3,1537.2 L1429.0,1560.1 L1429.6,1554.0 L1430.3,1557.7 L1430.9,1534.1 L1431.6,1537.2 L1432.2,1530.3 L1432.9,1548.5 L1433.5,1534.3 L1434.2,1529.6 L1434.9,1536.3 L1435.6,1548.0 L1436.3,1544.7 L1437.0,1529.1 L1437.7,1525.4 L1438.5,1544.6 L1439.2,1534.7 L1440.0,1537.2 L1440.7,1520.6 L1441.5,1519.0 L1442.2,1534.6 L1443.0,1527.0 L1443.8,1517.0 L1444.5,1538.7 L1445.3,1529.9 L1446.1,1533.5 L1446.9,1514.0 L1447.7,1533.2 L1448.5,1511.9 L1449.3,1531.7 L1450.2,1520.3 L1451.0,1516.5 L1451.8,1521.3 L1452.6,1530.2 L1453.4,1512.4 L1454.2,1508.2 L1455.1,1517.8 L1455.9,1509.6 L1456.9,1505.6 L1458.0,1506.2 L1459.1,1502.7 L1460.1,1506.2 L1461.1,1508.7 L1462.1,1508.1 L1463.6,1519.8 L1465.0,1507.5 L1466.0,1513.4 L1467.0,1505.5 L1468.0,1510.3 L1468.8,1502.5 L1469.5,1509.2 L1470.2,1503.8 L1471.0,1523.1 L1471.7,1519.3 L1472.4,1510.9 L1473.1,1519.2 L1473.8,1532.1 L1474.3,1511.5 L1474.9,1531.0 L1475.4,1521.8 L1476.0,1524.4 L1476.5,1534.1 L1477.1,1523.6 L1477.6,1527.6 L1478.1,1533.3 L1478.6,1541.9 L1479.1,1526.3 L1479.6,1540.1 L1480.1,1537.8 L1480.6,1537.0 L1481.1,1532.0 L1481.6,1531.6 L1482.0,1525.0 L1482.5,1527.9 L1483.0,1527.4 L1483.4,1545.8 L1483.9,1534.2 L1484.4,1532.9 L1484.9,1532.0 L1485.5,1552.8 L1486.0,1554.6 L1486.4,1550.4 L1486.9,1541.3 L1487.3,1541.2 L1487.8,1543.5 L1488.2,1548.8 L1488.6,1541.9 L1489.0,1550.4 L1489.4,1546.6 L1489.7,1565.8 L1490.1,1567.0 L1490.4,1556.9 L1490.8,1550.1 L1491.1,1569.8 L1491.4,1553.7 L1491.7,1555.9 L1492.0,1547.7 L1492.3,1558.6 L1492.7,1562.0 L1493.0,1563.7 L1493.3,1556.9 L1493.6,1565.8 L1493.9,1553.8 L1494.2,1561.5 L1494.5,1558.0 L1494.8,1567.1 L1495.1,1558.8 L1495.4,1559.4 L1495.7,1567.7 L1496.0,1566.9 L1496.3,1577.1 L1496.7,1576.7 L1497.0,1583.5 L1497.3,1582.1 L1497.6,1584.5 L1497.9,1589.7 L1498.2,1578.0 L1498.5,1577.3 L1498.8,1595.4 L1499.1,1574.6 L1499.4,1590.6 L1499.7,1589.4 L1500.0,1574.8 L1500.3,1596.4 L1500.6,1598.9 L1500.9,1593.0 L1501.2,1596.8 L1501.5,1599.8 L1501.8,1583.3 L1502.1,1594.4 L1502.3,1594.9 L1502.6,1604.5 L1502.9,1604.7 L1503.2,1606.3 L1503.5,1601.0 L1503.8,1610.1 L1504.1,1605.6 L1504.4,1606.9 L1504.7,1595.9 L1505.0,1591.7 L1505.3,1595.4 L1505.6,1602.3 L1505.9,1596.7 L1506.2,1616.7 L1506.5,1610.5 L1506.8,1613.3 L1507.1,1614.3 L1507.4,1616.7 L1507.8,1612.7 L1508.1,1601.1 L1508.4,1622.8 L1508.7,1622.5 L1509.0,1617.1 L1509.3,1618.9 L1509.6,1623.1 L1509.9,1608.6 L1510.2,1627.1 L1510.5,1615.4 L1510.8,1611.8 L1511.1,1617.7 L1511.3,1630.8 L1511.6,1618.1 L1511.9,1633.0 L1512.2,1640.1 L1512.4,1628.6 L1512.7,1626.7 L1513.0,1630.2 L1513.3,1636.5 L1513.6,1639.6 L1513.9,1636.7 L1514.1,1638.4 L1514.4,1624.7 L1514.7,1627.5 L1515.0,1631.2 L1515.3,1644.9 L1515.6,1634.4 L1515.9,1642.2 L1516.2,1628.8 L1516.6,1631.2 L1517.1,1637.8 L1517.5,1649.4 L1517.9,1651.1 L1518.4,1651.8 L1518.9,1643.0 L1519.3,1650.0 L1519.8,1649.8 L1520.4,1650.9 L1520.9,1642.9 L1521.5,1664.2 L1522.0,1647.2 L1522.6,1668.4 L1523.2,1668.3 L1523.8,1645.3 L1524.4,1657.8 L1525.0,1668.0 L1525.7,1672.8 L1526.3,1660.2 L1527.0,1656.4 L1527.7,1655.7 L1528.4,1675.7 L1529.1,1657.4 L1529.8,1667.9 L1530.6,1657.3 L1531.3,1668.0 L1532.0,1680.0 L1532.8,1659.5 L1533.5,1678.2 L1534.3,1670.9 L1535.1,1681.6 L1535.8,1677.6 L1536.6,1666.2 L1537.4,1684.3 L1538.2,1674.5 L1538.9,1663.3 L1539.7,1663.7 L1540.5,1677.2 L1541.2,1677.0 L1542.0,1674.1 L1542.8,1670.8 L1543.5,1677.0 L1544.3,1677.3 L1545.0,1691.8 L1545.6,1670.9 L1546.2,1691.2 L1546.7,1694.4 L1547.3,1676.6 L1547.9,1698.4 L1548.5,1693.7 L1549.1,1699.5 L1549.6,1684.6 L1550.2,1687.7 L1550.8,1689.2 L1551.4,1705.9 L1551.9,1696.2 L1552.4,1691.2 L1552.9,1693.8 L1553.4,1690.7 L1553.9,1685.7 L1554.4,1688.0 L1554.9,1707.9 L1555.4,1694.5 L1555.9,1712.3 L1556.4,1695.3 L1556.9,1696.6 L1557.4,1703.9 L1557.9,1696.4 L1558.4,1702.1 L1558.9,1718.1 L1559.5,1717.3 L1560.1,1716.4 L1560.7,1712.7 L1561.3,1721.0 L1561.9,1722.7 L1562.5,1713.5 L1563.1,1718.9 L1563.7,1702.4 L1564.3,1721.0 L1564.9,1714.6 L1565.5,1723.4 L1566.1,1721.5 L1566.8,1712.9 L1567.4,1707.6 L1568.1,1731.2 L1568.7,1711.2 L1569.3,1720.9 L1570.0,1718.3 L1570.8,1717.9 L1571.6,1730.1 L1572.4,1736.9 L1573.2,1719.0 L1574.0,1730.1 L1575.0,1721.4 L1576.0,1728.7 L1577.0,1725.0 L1578.1,1719.5 L1579.1,1719.8 L1580.2,1721.4 L1581.2,1739.8 L1582.3,1729.4 L1583.4,1722.5 L1584.5,1740.5 L1585.5,1743.0 L1586.6,1728.9 L1587.7,1721.0 L1588.8,1722.5 L1589.9,1720.0 L1591.1,1726.7 L1592.2,1720.4 L1593.3,1724.4 L1594.4,1725.1 L1595.5,1733.4 L1596.6,1741.9 L1597.8,1738.7 L1598.9,1730.4 L1600.0,1730.8 L1601.0,1734.1 L1602.0,1730.7 L1603.0,1730.2 L1604.0,1723.5 L1605.0,1729.6 L1606.0,1748.1 L1607.0,1726.7 L1608.0,1737.1 L1609.0,1741.0 L1610.1,1747.7 L1611.1,1731.4 L1612.1,1733.5 L1613.1,1733.5 L1614.1,1738.1 L1615.2,1739.9 L1616.2,1753.8 L1617.2,1751.7 L1618.2,1753.0 L1619.3,1731.5 L1620.3,1732.5 L1621.4,1750.7 L1622.4,1756.2 L1623.4,1745.9 L1624.5,1749.5 L1625.5,1734.8 L1626.6,1745.6 L1627.7,1760.2 L1628.7,1758.2 L1629.8,1759.5 L1630.9,1763.1 L1631.9,1744.9 L1633.0,1741.8 L1634.1,1743.5 L1635.2,1753.7 L1636.4,1758.3 L1637.5,1765.6 L1638.6,1760.4 L1639.8,1759.0 L1640.9,1762.5 L1642.0,1755.0 L1643.0,1757.9 L1643.9,1744.9 L1644.8,1764.6 L1645.7,1750.7 L1646.7,1769.0 L1647.6,1762.2 L1648.5,1753.7 L1649.5,1749.5 L1650.4,1753.1 L1651.3,1763.5 L1652.3,1765.5 L1653.2,1750.6 L1654.2,1749.9 L1655.1,1762.1 L1656.0,1763.9 L1657.0,1759.3 L1657.9,1755.4 L1658.8,1765.6 L1659.8,1750.6 L1660.7,1758.6 L1661.7,1763.1 L1662.6,1776.5 L1663.5,1768.7 L1664.4,1775.4 L1665.4,1765.1 L1666.3,1759.3 L1667.2,1760.1 L1668.2,1779.1 L1669.1,1772.9 L1670.0,1763.0 L1671.0,1756.1 L1671.9,1769.0 L1672.9,1774.1 L1673.9,1768.0 L1674.9,1764.2 L1675.8,1775.5 L1676.8,1782.7 L1677.8,1765.1 L1678.8,1760.7 L1679.8,1769.1 L1680.8,1771.9 L1681.8,1779.3 L1682.8,1767.3 L1683.8,1783.4 L1684.8,1782.5 L1685.7,1777.0 L1686.7,1769.8 L1687.7,1790.3 L1688.7,1773.8 L1689.7,1787.6 L1690.7,1772.9 L1691.6,1773.2 L1692.6,1787.8 L1693.6,1776.3 L1694.6,1794.0 L1695.5,1782.7 L1696.4,1775.2 L1697.4,1776.7 L1698.3,1782.3 L1699.3,1789.3 L1700.2,1797.2 L1701.1,1776.9 L1702.0,1783.9 L1702.9,1779.7 L1703.8,1800.0 L1704.8,1778.9 L1705.9,1777.2 L1706.9,1778.0 L1708.0,1787.2 L1709.0,1800.8 L1709.9,1801.0 L1710.9,1797.5 L1711.8,1804.9 L1712.7,1803.6 L1713.6,1788.4 L1715.0,1785.3 L1716.3,1805.5 L1717.6,1801.1 L1718.9,1783.1 L1720.1,1800.2 L1721.4,1793.3 L1722.6,1793.8 L1723.9,1793.2 L1725.1,1789.6 L1726.4,1785.9 L1727.7,1793.7 L1729.0,1796.1" fill="none" stroke="#ff0000" stroke-width="6" stroke-linejoin="round" stroke-linecap="round" clip-path="url(#ic)"/>
<path d="M1368.2,1525.1 L1368.2,1625.1" stroke="#000" stroke-width="7" stroke-linecap="round" stroke-dasharray="6.4 16.799999999999997" fill="none"/>
<path d="M1464.5,1482.7 L1464.5,1581.9" stroke="#000" stroke-width="7" stroke-linecap="round" stroke-dasharray="6.4 16.799999999999997" fill="none"/>
<text x="1192.58" y="1552.90" font-family="'Liberation Sans', Arial, sans-serif" font-size="52.5" fill="#000" textLength="161.86" lengthAdjust="spacingAndGlyphs">D band</text>
<text x="1494.80" y="1527.50" font-family="'Liberation Sans', Arial, sans-serif" font-size="52.5" fill="#000" textLength="164.27" lengthAdjust="spacingAndGlyphs">G band</text>
<text transform="translate(1141.90,1822.15) rotate(-90)" font-family="'Liberation Sans', Arial, sans-serif" font-size="57" fill="#000" textLength="355.78" lengthAdjust="spacingAndGlyphs">Intensity (a.u.)</text>
<text x="1126.92" y="1911.60" font-family="'Liberation Sans', Arial, sans-serif" font-size="46" fill="#000">1000</text>
<text x="1378.67" y="1911.60" font-family="'Liberation Sans', Arial, sans-serif" font-size="46" fill="#000">1500</text>
<text x="1631.00" y="1911.60" font-family="'Liberation Sans', Arial, sans-serif" font-size="46" fill="#000">2000</text>
<text x="1230.38" y="1983.80" font-family="'Liberation Sans', Arial, sans-serif" font-size="56.5" fill="#000" textLength="294.72" lengthAdjust="spacingAndGlyphs">Raman shift</text>
<text x="1542.04" y="1984.00" font-family="'Liberation Sans', Arial, sans-serif" font-size="55" fill="#000" textLength="15.33" lengthAdjust="spacingAndGlyphs">(</text>
<text x="1558.39" y="1984.00" font-family="'Liberation Sans', Arial, sans-serif" font-size="56.5" fill="#000" textLength="74.41" lengthAdjust="spacingAndGlyphs">cm</text>
<text x="1632.64" y="1954.10" font-family="'Liberation Sans', Arial, sans-serif" font-size="34" fill="#000" textLength="22.93" lengthAdjust="spacingAndGlyphs">-1</text>
<text x="1662.41" y="1984.00" font-family="'Liberation Sans', Arial, sans-serif" font-size="55" fill="#000" textLength="16.40" lengthAdjust="spacingAndGlyphs">)</text>
<path d="M189.6,1491.6 L299.4,1491.6" stroke="#000" stroke-width="7.4" stroke-linecap="round"/>
<path d="M597.6,1491 L708,1491" stroke="#008000" stroke-width="7.4" stroke-linecap="round"/>
<path d="M189.6,1587.3 L299.4,1587.3" stroke="#ff0000" stroke-width="7.4" stroke-linecap="round"/>
<text x="312.03" y="1508.90" font-family="'Liberation Sans', Arial, sans-serif" font-size="65" fill="#000" textLength="167.26" lengthAdjust="spacingAndGlyphs">CQDs</text>
<text x="725.57" y="1509.20" font-family="'Liberation Sans', Arial, sans-serif" font-size="64.5" fill="#000" textLength="140.99" lengthAdjust="spacingAndGlyphs">BiVO</text>
<text x="865.67" y="1532.90" font-family="'Liberation Sans', Arial, sans-serif" font-size="38.8" fill="#000" textLength="20.80" lengthAdjust="spacingAndGlyphs">4</text>
<text x="317.62" y="1605.60" font-family="'Liberation Sans', Arial, sans-serif" font-size="63.5" fill="#000" textLength="82.88" lengthAdjust="spacingAndGlyphs">0.6</text>
<text x="401.58" y="1606.30" font-family="'Liberation Serif', 'Times New Roman', serif" font-size="57" fill="#000" font-style="italic" textLength="47.21" lengthAdjust="spacingAndGlyphs">%</text>
<text x="447.58" y="1605.60" font-family="'Liberation Sans', Arial, sans-serif" font-size="64" fill="#000" textLength="321.97" lengthAdjust="spacingAndGlyphs">CQDs/BiVO</text>
<text x="769.80" y="1628.60" font-family="'Liberation Sans', Arial, sans-serif" font-size="38.5" fill="#000" textLength="20.13" lengthAdjust="spacingAndGlyphs">4</text>
<text x="9.76" y="1415.50" font-family="'Liberation Sans', Arial, sans-serif" font-size="89" fill="#000">(b)</text>
<text x="622.34" y="2679.80" font-family="'Liberation Sans', Arial, sans-serif" font-size="72" fill="#000" textLength="389.09" lengthAdjust="spacingAndGlyphs">Raman Shift</text>
<text x="1032.58" y="2680.00" font-family="'Liberation Sans', Arial, sans-serif" font-size="75" fill="#000" textLength="24.00" lengthAdjust="spacingAndGlyphs">(</text>
<text x="1056.83" y="2679.80" font-family="'Liberation Sans', Arial, sans-serif" font-size="72" fill="#000" textLength="93.86" lengthAdjust="spacingAndGlyphs">cm</text>
<text x="1151.37" y="2641.00" font-family="'Liberation Sans', Arial, sans-serif" font-size="44" fill="#000" textLength="30.20" lengthAdjust="spacingAndGlyphs">-1</text>
<text x="1189.38" y="2680.00" font-family="'Liberation Sans', Arial, sans-serif" font-size="75" fill="#000" textLength="23.95" lengthAdjust="spacingAndGlyphs">)</text>
<text transform="translate(89.00,2225.36) rotate(-90)" font-family="'Liberation Sans', Arial, sans-serif" font-size="74" fill="#000" textLength="454.84" lengthAdjust="spacingAndGlyphs">Intensity (a.u.)</text>
</svg></body></html>
